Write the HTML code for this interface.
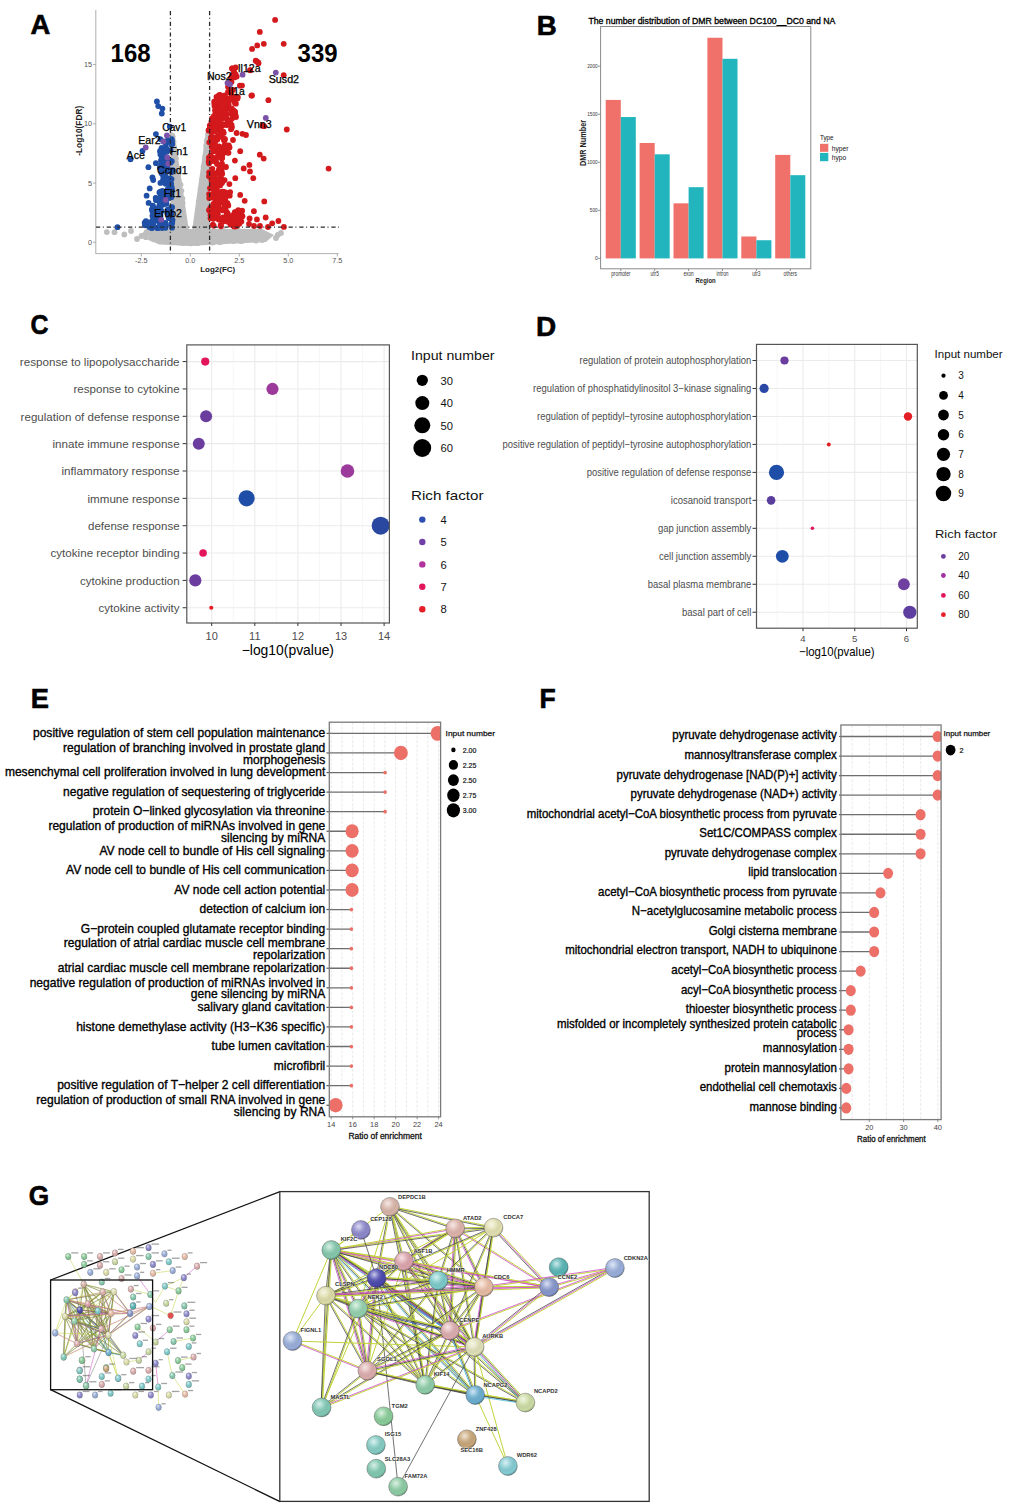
<!DOCTYPE html>
<html><head><meta charset="utf-8"><style>
html,body{margin:0;padding:0;background:#fff;}
body{width:1020px;height:1509px;overflow:hidden;}
svg{display:block;font-family:"Liberation Sans",sans-serif;}
</style></head><body>
<svg width="1020" height="1509" viewBox="0 0 1020 1509">
<rect width="1020" height="1509" fill="#fff"/>
<text x="30.4" y="34.3" font-size="27.5" font-weight="bold" fill="#000" stroke="#000" stroke-width="0.6" textLength="19.8" lengthAdjust="spacingAndGlyphs">A</text>
<text x="536.7" y="34.9" font-size="27.5" font-weight="bold" fill="#000" stroke="#000" stroke-width="0.6" textLength="20" lengthAdjust="spacingAndGlyphs">B</text>
<text x="30.6" y="334.3" font-size="27.5" font-weight="bold" fill="#000" stroke="#000" stroke-width="0.6" textLength="18" lengthAdjust="spacingAndGlyphs">C</text>
<text x="536.1" y="335.9" font-size="27.5" font-weight="bold" fill="#000" stroke="#000" stroke-width="0.6" textLength="20.2" lengthAdjust="spacingAndGlyphs">D</text>
<text x="30.8" y="708.3" font-size="27.5" font-weight="bold" fill="#000" stroke="#000" stroke-width="0.6" textLength="18.2" lengthAdjust="spacingAndGlyphs">E</text>
<text x="539.5" y="708.3" font-size="27.5" font-weight="bold" fill="#000" stroke="#000" stroke-width="0.6" textLength="16.2" lengthAdjust="spacingAndGlyphs">F</text>
<text x="28.8" y="1204.5" font-size="27.5" font-weight="bold" fill="#000" stroke="#000" stroke-width="0.6" textLength="20.4" lengthAdjust="spacingAndGlyphs">G</text>
<line x1="95.8" y1="10" x2="95.8" y2="254" stroke="#B0B0B0" stroke-width="1"/>
<line x1="95.8" y1="253.6" x2="338.5" y2="253.6" stroke="#B0B0B0" stroke-width="1"/>
<line x1="93" y1="64.55" x2="95.8" y2="64.55" stroke="#999" stroke-width="0.8"/>
<text x="92" y="67.15" font-size="7.3" fill="#555" text-anchor="end">15</text>
<line x1="93" y1="123.8" x2="95.8" y2="123.8" stroke="#999" stroke-width="0.8"/>
<text x="92" y="126.4" font-size="7.3" fill="#555" text-anchor="end">10</text>
<line x1="93" y1="183.05" x2="95.8" y2="183.05" stroke="#999" stroke-width="0.8"/>
<text x="92" y="185.65" font-size="7.3" fill="#555" text-anchor="end">5</text>
<line x1="93" y1="242.3" x2="95.8" y2="242.3" stroke="#999" stroke-width="0.8"/>
<text x="92" y="244.9" font-size="7.3" fill="#555" text-anchor="end">0</text>
<line x1="141.3" y1="253.6" x2="141.3" y2="256.5" stroke="#999" stroke-width="0.8"/>
<text x="141.3" y="262.8" font-size="7.3" fill="#555" text-anchor="middle">-2.5</text>
<line x1="190.3" y1="253.6" x2="190.3" y2="256.5" stroke="#999" stroke-width="0.8"/>
<text x="190.3" y="262.8" font-size="7.3" fill="#555" text-anchor="middle">0.0</text>
<line x1="239.3" y1="253.6" x2="239.3" y2="256.5" stroke="#999" stroke-width="0.8"/>
<text x="239.3" y="262.8" font-size="7.3" fill="#555" text-anchor="middle">2.5</text>
<line x1="288.3" y1="253.6" x2="288.3" y2="256.5" stroke="#999" stroke-width="0.8"/>
<text x="288.3" y="262.8" font-size="7.3" fill="#555" text-anchor="middle">5.0</text>
<line x1="337.3" y1="253.6" x2="337.3" y2="256.5" stroke="#999" stroke-width="0.8"/>
<text x="337.3" y="262.8" font-size="7.3" fill="#555" text-anchor="middle">7.5</text>
<text x="217.7" y="271.6" font-size="8" fill="#222" text-anchor="middle" font-weight="bold" textLength="35" lengthAdjust="spacingAndGlyphs">Log2(FC)</text>
<text transform="translate(81.6,130.8) rotate(-90)" font-size="8.5" font-weight="bold" fill="#222" text-anchor="middle" textLength="50" lengthAdjust="spacingAndGlyphs">-Log10(FDR)</text>
<path d="M150,229 L262,229 L274,235 L266,242 L215,244.5 L190,246 L160,244.5 L148,240 Z" fill="#BEBEBE"/>
<circle cx="191.81" cy="239.59" r="2.9" fill="#BEBEBE"/>
<circle cx="216.37" cy="232.27" r="2.9" fill="#BEBEBE"/>
<circle cx="170.24" cy="232.37" r="2.9" fill="#BEBEBE"/>
<circle cx="193.17" cy="237.96" r="2.9" fill="#BEBEBE"/>
<circle cx="233.18" cy="231.59" r="2.9" fill="#BEBEBE"/>
<circle cx="207.96" cy="232.8" r="2.9" fill="#BEBEBE"/>
<circle cx="146.69" cy="232.18" r="2.9" fill="#BEBEBE"/>
<circle cx="227.37" cy="233.5" r="2.9" fill="#BEBEBE"/>
<circle cx="145.88" cy="237.13" r="2.9" fill="#BEBEBE"/>
<circle cx="144.2" cy="235.08" r="2.9" fill="#BEBEBE"/>
<circle cx="209.77" cy="241.17" r="2.9" fill="#BEBEBE"/>
<circle cx="198.53" cy="235.35" r="2.9" fill="#BEBEBE"/>
<circle cx="209.88" cy="235.12" r="2.9" fill="#BEBEBE"/>
<circle cx="212.61" cy="240.6" r="2.9" fill="#BEBEBE"/>
<circle cx="217.81" cy="238.45" r="2.9" fill="#BEBEBE"/>
<circle cx="238.3" cy="234.72" r="2.9" fill="#BEBEBE"/>
<circle cx="188.99" cy="233.12" r="2.9" fill="#BEBEBE"/>
<circle cx="196.59" cy="234.51" r="2.9" fill="#BEBEBE"/>
<circle cx="185.68" cy="235.79" r="2.9" fill="#BEBEBE"/>
<circle cx="169.38" cy="238.14" r="2.9" fill="#BEBEBE"/>
<circle cx="174.15" cy="240.62" r="2.9" fill="#BEBEBE"/>
<circle cx="207.83" cy="239.5" r="2.9" fill="#BEBEBE"/>
<circle cx="201.55" cy="237.83" r="2.9" fill="#BEBEBE"/>
<circle cx="241.8" cy="240.11" r="2.9" fill="#BEBEBE"/>
<circle cx="196.6" cy="243.03" r="2.9" fill="#BEBEBE"/>
<circle cx="173.85" cy="233.17" r="2.9" fill="#BEBEBE"/>
<circle cx="153.13" cy="232.74" r="2.9" fill="#BEBEBE"/>
<circle cx="226.49" cy="236.46" r="2.9" fill="#BEBEBE"/>
<circle cx="246.1" cy="238.73" r="2.9" fill="#BEBEBE"/>
<circle cx="211.59" cy="237.96" r="2.9" fill="#BEBEBE"/>
<circle cx="219.69" cy="238.99" r="2.9" fill="#BEBEBE"/>
<circle cx="180.42" cy="238.67" r="2.9" fill="#BEBEBE"/>
<circle cx="169.04" cy="240.92" r="2.9" fill="#BEBEBE"/>
<circle cx="183" cy="242.62" r="2.9" fill="#BEBEBE"/>
<circle cx="153.35" cy="231.74" r="2.9" fill="#BEBEBE"/>
<circle cx="207.66" cy="239.53" r="2.9" fill="#BEBEBE"/>
<circle cx="211.44" cy="235.91" r="2.9" fill="#BEBEBE"/>
<circle cx="176.44" cy="239.33" r="2.9" fill="#BEBEBE"/>
<circle cx="235.26" cy="232.59" r="2.9" fill="#BEBEBE"/>
<circle cx="205.03" cy="233.2" r="2.9" fill="#BEBEBE"/>
<circle cx="251.01" cy="231.55" r="2.9" fill="#BEBEBE"/>
<circle cx="219.81" cy="234.06" r="2.9" fill="#BEBEBE"/>
<circle cx="149.81" cy="231.82" r="2.9" fill="#BEBEBE"/>
<circle cx="241.02" cy="235.46" r="2.9" fill="#BEBEBE"/>
<circle cx="179.72" cy="241.11" r="2.9" fill="#BEBEBE"/>
<circle cx="216.97" cy="236.02" r="2.9" fill="#BEBEBE"/>
<circle cx="180.5" cy="236.08" r="2.9" fill="#BEBEBE"/>
<circle cx="260.11" cy="231.43" r="2.9" fill="#BEBEBE"/>
<circle cx="146.46" cy="232.75" r="2.9" fill="#BEBEBE"/>
<circle cx="202.64" cy="237.34" r="2.9" fill="#BEBEBE"/>
<circle cx="223.18" cy="237.69" r="2.9" fill="#BEBEBE"/>
<circle cx="199.77" cy="236.73" r="2.9" fill="#BEBEBE"/>
<circle cx="202.89" cy="236.06" r="2.9" fill="#BEBEBE"/>
<circle cx="167.95" cy="239.24" r="2.9" fill="#BEBEBE"/>
<circle cx="155.84" cy="238.61" r="2.9" fill="#BEBEBE"/>
<circle cx="195.69" cy="232.87" r="2.9" fill="#BEBEBE"/>
<circle cx="244.95" cy="239.98" r="2.9" fill="#BEBEBE"/>
<circle cx="167.14" cy="240.39" r="2.9" fill="#BEBEBE"/>
<circle cx="174.81" cy="233.05" r="2.9" fill="#BEBEBE"/>
<circle cx="220.21" cy="238.3" r="2.9" fill="#BEBEBE"/>
<circle cx="211.05" cy="233.98" r="2.9" fill="#BEBEBE"/>
<circle cx="204.56" cy="233.72" r="2.9" fill="#BEBEBE"/>
<circle cx="194.36" cy="232.33" r="2.9" fill="#BEBEBE"/>
<circle cx="208.88" cy="233.43" r="2.9" fill="#BEBEBE"/>
<circle cx="224.45" cy="231.44" r="2.9" fill="#BEBEBE"/>
<circle cx="218.11" cy="241.02" r="2.9" fill="#BEBEBE"/>
<circle cx="186.32" cy="235.13" r="2.9" fill="#BEBEBE"/>
<circle cx="188.08" cy="236.25" r="2.9" fill="#BEBEBE"/>
<circle cx="189.23" cy="241.81" r="2.9" fill="#BEBEBE"/>
<circle cx="212.35" cy="242.56" r="2.9" fill="#BEBEBE"/>
<circle cx="164.03" cy="232.43" r="2.9" fill="#BEBEBE"/>
<circle cx="207.8" cy="232.93" r="2.9" fill="#BEBEBE"/>
<circle cx="186.2" cy="241.47" r="2.9" fill="#BEBEBE"/>
<circle cx="220.96" cy="233.07" r="2.9" fill="#BEBEBE"/>
<circle cx="277.76" cy="234.9" r="2.9" fill="#BEBEBE"/>
<circle cx="211.36" cy="233.28" r="2.9" fill="#BEBEBE"/>
<circle cx="192.78" cy="238.2" r="2.9" fill="#BEBEBE"/>
<circle cx="197.99" cy="242.95" r="2.9" fill="#BEBEBE"/>
<circle cx="232.27" cy="233.73" r="2.9" fill="#BEBEBE"/>
<circle cx="162.61" cy="235.47" r="2.9" fill="#BEBEBE"/>
<circle cx="227.4" cy="236.9" r="2.9" fill="#BEBEBE"/>
<circle cx="247.71" cy="238.83" r="2.9" fill="#BEBEBE"/>
<circle cx="189.09" cy="241.39" r="2.9" fill="#BEBEBE"/>
<circle cx="219.95" cy="242.17" r="2.9" fill="#BEBEBE"/>
<circle cx="234.84" cy="239.76" r="2.9" fill="#BEBEBE"/>
<circle cx="153.68" cy="239.23" r="2.9" fill="#BEBEBE"/>
<circle cx="205.63" cy="235.8" r="2.9" fill="#BEBEBE"/>
<circle cx="238.23" cy="230.94" r="2.9" fill="#BEBEBE"/>
<circle cx="225.51" cy="233.97" r="2.9" fill="#BEBEBE"/>
<circle cx="204.52" cy="239.55" r="2.9" fill="#BEBEBE"/>
<circle cx="233.55" cy="241.11" r="2.9" fill="#BEBEBE"/>
<circle cx="190.6" cy="243.35" r="2.9" fill="#BEBEBE"/>
<circle cx="229.27" cy="233.4" r="2.9" fill="#BEBEBE"/>
<circle cx="191.5" cy="234.94" r="2.9" fill="#BEBEBE"/>
<circle cx="207.11" cy="238.7" r="2.9" fill="#BEBEBE"/>
<circle cx="220.44" cy="241.22" r="2.9" fill="#BEBEBE"/>
<circle cx="219.68" cy="238.53" r="2.9" fill="#BEBEBE"/>
<circle cx="169.18" cy="240.49" r="2.9" fill="#BEBEBE"/>
<circle cx="240.52" cy="240.54" r="2.9" fill="#BEBEBE"/>
<circle cx="223.89" cy="239.79" r="2.9" fill="#BEBEBE"/>
<circle cx="200.03" cy="234.07" r="2.9" fill="#BEBEBE"/>
<circle cx="163.51" cy="240.15" r="2.9" fill="#BEBEBE"/>
<circle cx="171.51" cy="242.47" r="2.9" fill="#BEBEBE"/>
<circle cx="249.93" cy="234.52" r="2.9" fill="#BEBEBE"/>
<circle cx="245.01" cy="238.33" r="2.9" fill="#BEBEBE"/>
<circle cx="208.04" cy="233.46" r="2.9" fill="#BEBEBE"/>
<circle cx="214.62" cy="241.5" r="2.9" fill="#BEBEBE"/>
<circle cx="206.25" cy="240.96" r="2.9" fill="#BEBEBE"/>
<circle cx="183.13" cy="243.02" r="2.9" fill="#BEBEBE"/>
<circle cx="183.64" cy="238.29" r="2.9" fill="#BEBEBE"/>
<circle cx="175.18" cy="233.36" r="2.9" fill="#BEBEBE"/>
<circle cx="207.61" cy="238.96" r="2.9" fill="#BEBEBE"/>
<circle cx="187.61" cy="237.18" r="2.9" fill="#BEBEBE"/>
<circle cx="241.45" cy="232.82" r="2.9" fill="#BEBEBE"/>
<circle cx="156.82" cy="233.98" r="2.9" fill="#BEBEBE"/>
<circle cx="193.67" cy="238.81" r="2.9" fill="#BEBEBE"/>
<circle cx="222.88" cy="234.07" r="2.9" fill="#BEBEBE"/>
<circle cx="185.19" cy="242.32" r="2.9" fill="#BEBEBE"/>
<circle cx="208.26" cy="235.68" r="2.9" fill="#BEBEBE"/>
<circle cx="159.11" cy="241.25" r="2.9" fill="#BEBEBE"/>
<circle cx="211" cy="236.31" r="2.9" fill="#BEBEBE"/>
<circle cx="232.83" cy="236.68" r="2.9" fill="#BEBEBE"/>
<circle cx="181.33" cy="237.92" r="2.9" fill="#BEBEBE"/>
<circle cx="234.23" cy="232.79" r="2.9" fill="#BEBEBE"/>
<circle cx="204.04" cy="232" r="2.9" fill="#BEBEBE"/>
<circle cx="205.98" cy="237.09" r="2.9" fill="#BEBEBE"/>
<circle cx="181.25" cy="240.14" r="2.9" fill="#BEBEBE"/>
<circle cx="173.35" cy="237.55" r="2.9" fill="#BEBEBE"/>
<circle cx="190.12" cy="238.61" r="2.9" fill="#BEBEBE"/>
<circle cx="203.24" cy="238.15" r="2.9" fill="#BEBEBE"/>
<circle cx="185.19" cy="235.05" r="2.9" fill="#BEBEBE"/>
<circle cx="190.73" cy="238.06" r="2.9" fill="#BEBEBE"/>
<circle cx="254.26" cy="236.18" r="2.9" fill="#BEBEBE"/>
<circle cx="204.43" cy="236.81" r="2.9" fill="#BEBEBE"/>
<circle cx="171.12" cy="237.4" r="2.9" fill="#BEBEBE"/>
<circle cx="175.33" cy="239.55" r="2.9" fill="#BEBEBE"/>
<circle cx="162.25" cy="236.68" r="2.9" fill="#BEBEBE"/>
<circle cx="211.65" cy="242.01" r="2.9" fill="#BEBEBE"/>
<circle cx="179.47" cy="242.45" r="2.9" fill="#BEBEBE"/>
<circle cx="197.53" cy="242.58" r="2.9" fill="#BEBEBE"/>
<circle cx="240.9" cy="239.76" r="2.9" fill="#BEBEBE"/>
<circle cx="210.61" cy="236.56" r="2.9" fill="#BEBEBE"/>
<circle cx="212.37" cy="232.43" r="2.9" fill="#BEBEBE"/>
<circle cx="200.73" cy="239.45" r="2.9" fill="#BEBEBE"/>
<circle cx="212.45" cy="240.25" r="2.9" fill="#BEBEBE"/>
<circle cx="214.79" cy="239.41" r="2.9" fill="#BEBEBE"/>
<circle cx="188.83" cy="239.72" r="2.9" fill="#BEBEBE"/>
<circle cx="241.28" cy="241.15" r="2.9" fill="#BEBEBE"/>
<circle cx="251.84" cy="232.51" r="2.9" fill="#BEBEBE"/>
<circle cx="230.83" cy="236.27" r="2.9" fill="#BEBEBE"/>
<circle cx="190.52" cy="243.37" r="2.9" fill="#BEBEBE"/>
<circle cx="209.4" cy="236.49" r="2.9" fill="#BEBEBE"/>
<circle cx="183.5" cy="237.92" r="2.9" fill="#BEBEBE"/>
<circle cx="188.78" cy="235.96" r="2.9" fill="#BEBEBE"/>
<circle cx="217.9" cy="239.36" r="2.9" fill="#BEBEBE"/>
<circle cx="240.36" cy="235.39" r="2.9" fill="#BEBEBE"/>
<circle cx="204.97" cy="232.12" r="2.9" fill="#BEBEBE"/>
<circle cx="178.07" cy="237.67" r="2.9" fill="#BEBEBE"/>
<circle cx="239.01" cy="231.3" r="2.9" fill="#BEBEBE"/>
<circle cx="256.15" cy="240.62" r="2.9" fill="#BEBEBE"/>
<circle cx="194.72" cy="233.47" r="2.9" fill="#BEBEBE"/>
<circle cx="199.11" cy="240.71" r="2.9" fill="#BEBEBE"/>
<circle cx="209.05" cy="234.73" r="2.9" fill="#BEBEBE"/>
<circle cx="223.01" cy="241.24" r="2.9" fill="#BEBEBE"/>
<circle cx="224.37" cy="240.17" r="2.9" fill="#BEBEBE"/>
<circle cx="199.02" cy="242.26" r="2.9" fill="#BEBEBE"/>
<circle cx="218.18" cy="237.68" r="2.9" fill="#BEBEBE"/>
<circle cx="195.75" cy="232.91" r="2.9" fill="#BEBEBE"/>
<circle cx="186.81" cy="239.95" r="2.9" fill="#BEBEBE"/>
<circle cx="188.93" cy="242.78" r="2.9" fill="#BEBEBE"/>
<circle cx="205.61" cy="238.87" r="2.9" fill="#BEBEBE"/>
<circle cx="204.27" cy="241.36" r="2.9" fill="#BEBEBE"/>
<circle cx="187.31" cy="233.13" r="2.9" fill="#BEBEBE"/>
<circle cx="222.9" cy="234.95" r="2.9" fill="#BEBEBE"/>
<circle cx="173.28" cy="237.93" r="2.9" fill="#BEBEBE"/>
<circle cx="222.63" cy="232.65" r="2.9" fill="#BEBEBE"/>
<circle cx="188.76" cy="238.25" r="2.9" fill="#BEBEBE"/>
<circle cx="201.12" cy="233.84" r="2.9" fill="#BEBEBE"/>
<circle cx="215.37" cy="232.07" r="2.9" fill="#BEBEBE"/>
<circle cx="208.26" cy="235.14" r="2.9" fill="#BEBEBE"/>
<circle cx="226.41" cy="239.44" r="2.9" fill="#BEBEBE"/>
<circle cx="190.64" cy="234.43" r="2.9" fill="#BEBEBE"/>
<circle cx="236.5" cy="234.51" r="2.9" fill="#BEBEBE"/>
<circle cx="224.14" cy="231.34" r="2.9" fill="#BEBEBE"/>
<circle cx="202.77" cy="240.07" r="2.9" fill="#BEBEBE"/>
<circle cx="180.32" cy="237.35" r="2.9" fill="#BEBEBE"/>
<circle cx="193.46" cy="242.65" r="2.9" fill="#BEBEBE"/>
<circle cx="246.45" cy="235.06" r="2.9" fill="#BEBEBE"/>
<circle cx="236.63" cy="236.13" r="2.9" fill="#BEBEBE"/>
<circle cx="216.21" cy="237.05" r="2.9" fill="#BEBEBE"/>
<circle cx="172.43" cy="239.38" r="2.9" fill="#BEBEBE"/>
<circle cx="106.8" cy="232.1" r="2.9" fill="#BEBEBE"/>
<circle cx="114.5" cy="232.2" r="2.9" fill="#BEBEBE"/>
<circle cx="124.3" cy="234.5" r="2.9" fill="#BEBEBE"/>
<circle cx="131" cy="231" r="2.9" fill="#BEBEBE"/>
<circle cx="141.5" cy="236" r="2.9" fill="#BEBEBE"/>
<circle cx="147" cy="233" r="2.9" fill="#BEBEBE"/>
<circle cx="137" cy="239" r="2.9" fill="#BEBEBE"/>
<circle cx="276" cy="238" r="2.9" fill="#BEBEBE"/>
<circle cx="281" cy="233" r="2.9" fill="#BEBEBE"/>
<circle cx="262" cy="240" r="2.9" fill="#BEBEBE"/>
<circle cx="255" cy="236" r="2.9" fill="#BEBEBE"/>
<path d="M170.5,134 L174.5,133 L190,238 L170.5,238 Z" fill="#BEBEBE"/>
<path d="M206,131 L210,131 L210,238 L191,238 Z" fill="#BEBEBE"/>
<circle cx="187.22" cy="232.24" r="2.2" fill="#BEBEBE"/>
<circle cx="196.73" cy="230.24" r="2.2" fill="#BEBEBE"/>
<circle cx="182.34" cy="204.67" r="2.2" fill="#BEBEBE"/>
<circle cx="199.03" cy="202.67" r="2.2" fill="#BEBEBE"/>
<circle cx="178.88" cy="168.76" r="2.2" fill="#BEBEBE"/>
<circle cx="202.87" cy="166.76" r="2.2" fill="#BEBEBE"/>
<circle cx="172.8" cy="141.07" r="2.2" fill="#BEBEBE"/>
<circle cx="206.85" cy="139.07" r="2.2" fill="#BEBEBE"/>
<circle cx="176.11" cy="150.32" r="2.2" fill="#BEBEBE"/>
<circle cx="207.4" cy="148.32" r="2.2" fill="#BEBEBE"/>
<circle cx="184.61" cy="221.05" r="2.2" fill="#BEBEBE"/>
<circle cx="196.53" cy="219.05" r="2.2" fill="#BEBEBE"/>
<circle cx="176.63" cy="158.22" r="2.2" fill="#BEBEBE"/>
<circle cx="205.23" cy="156.22" r="2.2" fill="#BEBEBE"/>
<circle cx="174.95" cy="149.75" r="2.2" fill="#BEBEBE"/>
<circle cx="205.74" cy="147.75" r="2.2" fill="#BEBEBE"/>
<circle cx="185.03" cy="230.18" r="2.2" fill="#BEBEBE"/>
<circle cx="196.14" cy="228.18" r="2.2" fill="#BEBEBE"/>
<circle cx="174.65" cy="158.44" r="2.2" fill="#BEBEBE"/>
<circle cx="204.75" cy="156.44" r="2.2" fill="#BEBEBE"/>
<circle cx="179.17" cy="169.66" r="2.2" fill="#BEBEBE"/>
<circle cx="203.51" cy="167.66" r="2.2" fill="#BEBEBE"/>
<circle cx="179.37" cy="181.46" r="2.2" fill="#BEBEBE"/>
<circle cx="201.43" cy="179.46" r="2.2" fill="#BEBEBE"/>
<circle cx="181.3" cy="184.47" r="2.2" fill="#BEBEBE"/>
<circle cx="201.23" cy="182.47" r="2.2" fill="#BEBEBE"/>
<circle cx="174.1" cy="142.98" r="2.2" fill="#BEBEBE"/>
<circle cx="205.96" cy="140.98" r="2.2" fill="#BEBEBE"/>
<circle cx="173.41" cy="136.25" r="2.2" fill="#BEBEBE"/>
<circle cx="207.41" cy="134.25" r="2.2" fill="#BEBEBE"/>
<circle cx="180.9" cy="192.56" r="2.2" fill="#BEBEBE"/>
<circle cx="201.64" cy="190.56" r="2.2" fill="#BEBEBE"/>
<circle cx="181.39" cy="199.75" r="2.2" fill="#BEBEBE"/>
<circle cx="201.09" cy="197.75" r="2.2" fill="#BEBEBE"/>
<circle cx="178.67" cy="172.95" r="2.2" fill="#BEBEBE"/>
<circle cx="204.89" cy="170.95" r="2.2" fill="#BEBEBE"/>
<circle cx="173.99" cy="148.95" r="2.2" fill="#BEBEBE"/>
<circle cx="206.99" cy="146.95" r="2.2" fill="#BEBEBE"/>
<circle cx="172.13" cy="138.38" r="2.2" fill="#BEBEBE"/>
<circle cx="209.11" cy="136.38" r="2.2" fill="#BEBEBE"/>
<circle cx="180.89" cy="196.73" r="2.2" fill="#BEBEBE"/>
<circle cx="201.28" cy="194.73" r="2.2" fill="#BEBEBE"/>
<circle cx="174.45" cy="147.93" r="2.2" fill="#BEBEBE"/>
<circle cx="206.7" cy="145.93" r="2.2" fill="#BEBEBE"/>
<circle cx="183.69" cy="217.49" r="2.2" fill="#BEBEBE"/>
<circle cx="198.63" cy="215.49" r="2.2" fill="#BEBEBE"/>
<circle cx="179.79" cy="192.41" r="2.2" fill="#BEBEBE"/>
<circle cx="201.46" cy="190.41" r="2.2" fill="#BEBEBE"/>
<circle cx="183.36" cy="203.33" r="2.2" fill="#BEBEBE"/>
<circle cx="198.08" cy="201.33" r="2.2" fill="#BEBEBE"/>
<circle cx="174.85" cy="147.31" r="2.2" fill="#BEBEBE"/>
<circle cx="205.58" cy="145.31" r="2.2" fill="#BEBEBE"/>
<circle cx="184.44" cy="217.58" r="2.2" fill="#BEBEBE"/>
<circle cx="198.02" cy="215.58" r="2.2" fill="#BEBEBE"/>
<circle cx="181.04" cy="196.62" r="2.2" fill="#BEBEBE"/>
<circle cx="200.33" cy="194.62" r="2.2" fill="#BEBEBE"/>
<circle cx="171.65" cy="134.33" r="2.2" fill="#BEBEBE"/>
<circle cx="209.2" cy="132.33" r="2.2" fill="#BEBEBE"/>
<circle cx="179.69" cy="184.3" r="2.2" fill="#BEBEBE"/>
<circle cx="202.44" cy="182.3" r="2.2" fill="#BEBEBE"/>
<circle cx="172.75" cy="140.61" r="2.2" fill="#BEBEBE"/>
<circle cx="206.9" cy="138.61" r="2.2" fill="#BEBEBE"/>
<circle cx="174.28" cy="141.44" r="2.2" fill="#BEBEBE"/>
<circle cx="208.22" cy="139.44" r="2.2" fill="#BEBEBE"/>
<circle cx="174.76" cy="154.52" r="2.2" fill="#BEBEBE"/>
<circle cx="207.26" cy="152.52" r="2.2" fill="#BEBEBE"/>
<circle cx="180.01" cy="183.39" r="2.2" fill="#BEBEBE"/>
<circle cx="202.02" cy="181.39" r="2.2" fill="#BEBEBE"/>
<circle cx="181.61" cy="202.37" r="2.2" fill="#BEBEBE"/>
<circle cx="199.96" cy="200.37" r="2.2" fill="#BEBEBE"/>
<circle cx="183.09" cy="198.28" r="2.2" fill="#BEBEBE"/>
<circle cx="199.09" cy="196.28" r="2.2" fill="#BEBEBE"/>
<circle cx="175.45" cy="159.39" r="2.2" fill="#BEBEBE"/>
<circle cx="204.61" cy="157.39" r="2.2" fill="#BEBEBE"/>
<circle cx="182.2" cy="190.78" r="2.2" fill="#BEBEBE"/>
<circle cx="199.8" cy="188.78" r="2.2" fill="#BEBEBE"/>
<circle cx="175.88" cy="160.88" r="2.2" fill="#BEBEBE"/>
<circle cx="205.58" cy="158.88" r="2.2" fill="#BEBEBE"/>
<circle cx="182.93" cy="201.57" r="2.2" fill="#BEBEBE"/>
<circle cx="199.77" cy="199.57" r="2.2" fill="#BEBEBE"/>
<circle cx="165.85" cy="144.13" r="2.9" fill="#1F4FA6"/>
<circle cx="161.49" cy="148.83" r="2.9" fill="#1F4FA6"/>
<circle cx="162.51" cy="149.76" r="2.9" fill="#1F4FA6"/>
<circle cx="171.8" cy="139.19" r="2.9" fill="#1F4FA6"/>
<circle cx="165.78" cy="148.02" r="2.9" fill="#1F4FA6"/>
<circle cx="172.2" cy="143.94" r="2.9" fill="#1F4FA6"/>
<circle cx="163.39" cy="141.31" r="2.9" fill="#1F4FA6"/>
<circle cx="171.91" cy="141.32" r="2.9" fill="#1F4FA6"/>
<circle cx="167.33" cy="140.56" r="2.9" fill="#1F4FA6"/>
<circle cx="166.6" cy="149.48" r="2.9" fill="#1F4FA6"/>
<circle cx="161.67" cy="148.02" r="2.9" fill="#1F4FA6"/>
<circle cx="166.41" cy="148.76" r="2.9" fill="#1F4FA6"/>
<circle cx="168.86" cy="141.55" r="2.9" fill="#1F4FA6"/>
<circle cx="171.31" cy="144.35" r="2.9" fill="#1F4FA6"/>
<circle cx="160.31" cy="139.04" r="2.9" fill="#1F4FA6"/>
<circle cx="166.09" cy="170.28" r="2.9" fill="#1F4FA6"/>
<circle cx="163.66" cy="156.33" r="2.9" fill="#1F4FA6"/>
<circle cx="164.2" cy="164.22" r="2.9" fill="#1F4FA6"/>
<circle cx="170.55" cy="150.08" r="2.9" fill="#1F4FA6"/>
<circle cx="169.41" cy="187.76" r="2.9" fill="#1F4FA6"/>
<circle cx="161.34" cy="191.69" r="2.9" fill="#1F4FA6"/>
<circle cx="168.93" cy="190.57" r="2.9" fill="#1F4FA6"/>
<circle cx="163.51" cy="166.75" r="2.9" fill="#1F4FA6"/>
<circle cx="164.83" cy="194.95" r="2.9" fill="#1F4FA6"/>
<circle cx="167.34" cy="166.23" r="2.9" fill="#1F4FA6"/>
<circle cx="165.28" cy="162.38" r="2.9" fill="#1F4FA6"/>
<circle cx="160.42" cy="154.58" r="2.9" fill="#1F4FA6"/>
<circle cx="170.48" cy="162.85" r="2.9" fill="#1F4FA6"/>
<circle cx="171.78" cy="161.22" r="2.9" fill="#1F4FA6"/>
<circle cx="163.2" cy="172.99" r="2.9" fill="#1F4FA6"/>
<circle cx="162.23" cy="166.8" r="2.9" fill="#1F4FA6"/>
<circle cx="172.04" cy="189.79" r="2.9" fill="#1F4FA6"/>
<circle cx="170.19" cy="178.39" r="2.9" fill="#1F4FA6"/>
<circle cx="171.49" cy="192.33" r="2.9" fill="#1F4FA6"/>
<circle cx="166.83" cy="182.38" r="2.9" fill="#1F4FA6"/>
<circle cx="160.43" cy="182.96" r="2.9" fill="#1F4FA6"/>
<circle cx="165.57" cy="183.87" r="2.9" fill="#1F4FA6"/>
<circle cx="168.05" cy="162.88" r="2.9" fill="#1F4FA6"/>
<circle cx="160.43" cy="191.7" r="2.9" fill="#1F4FA6"/>
<circle cx="161.43" cy="171.25" r="2.9" fill="#1F4FA6"/>
<circle cx="164.2" cy="163.4" r="2.9" fill="#1F4FA6"/>
<circle cx="169.26" cy="193.93" r="2.9" fill="#1F4FA6"/>
<circle cx="163.13" cy="179.52" r="2.9" fill="#1F4FA6"/>
<circle cx="163.65" cy="175.08" r="2.9" fill="#1F4FA6"/>
<circle cx="164.85" cy="157.53" r="2.9" fill="#1F4FA6"/>
<circle cx="161.87" cy="159.35" r="2.9" fill="#1F4FA6"/>
<circle cx="171.4" cy="172.37" r="2.9" fill="#1F4FA6"/>
<circle cx="162.62" cy="190.78" r="2.9" fill="#1F4FA6"/>
<circle cx="172.55" cy="170.25" r="2.9" fill="#1F4FA6"/>
<circle cx="161.59" cy="158.66" r="2.9" fill="#1F4FA6"/>
<circle cx="160.96" cy="165.39" r="2.9" fill="#1F4FA6"/>
<circle cx="160.97" cy="160.76" r="2.9" fill="#1F4FA6"/>
<circle cx="163.11" cy="175.63" r="2.9" fill="#1F4FA6"/>
<circle cx="171.16" cy="183.73" r="2.9" fill="#1F4FA6"/>
<circle cx="165.08" cy="168.62" r="2.9" fill="#1F4FA6"/>
<circle cx="166.51" cy="166.96" r="2.9" fill="#1F4FA6"/>
<circle cx="164.13" cy="152.79" r="2.9" fill="#1F4FA6"/>
<circle cx="163.35" cy="193.55" r="2.9" fill="#1F4FA6"/>
<circle cx="161.41" cy="172.65" r="2.9" fill="#1F4FA6"/>
<circle cx="167.86" cy="188.83" r="2.9" fill="#1F4FA6"/>
<circle cx="162.56" cy="162.2" r="2.9" fill="#1F4FA6"/>
<circle cx="162.98" cy="167.99" r="2.9" fill="#1F4FA6"/>
<circle cx="165.51" cy="192.93" r="2.9" fill="#1F4FA6"/>
<circle cx="170.66" cy="189.28" r="2.9" fill="#1F4FA6"/>
<circle cx="160.08" cy="151.45" r="2.9" fill="#1F4FA6"/>
<circle cx="168.88" cy="190.31" r="2.9" fill="#1F4FA6"/>
<circle cx="165.86" cy="176.42" r="2.9" fill="#1F4FA6"/>
<circle cx="159.8" cy="167.62" r="2.9" fill="#1F4FA6"/>
<circle cx="171.66" cy="187.15" r="2.9" fill="#1F4FA6"/>
<circle cx="170.75" cy="193.75" r="2.9" fill="#1F4FA6"/>
<circle cx="162.98" cy="154.91" r="2.9" fill="#1F4FA6"/>
<circle cx="161.78" cy="173.51" r="2.9" fill="#1F4FA6"/>
<circle cx="168.53" cy="192.37" r="2.9" fill="#1F4FA6"/>
<circle cx="169.04" cy="179.13" r="2.9" fill="#1F4FA6"/>
<circle cx="169.59" cy="170.58" r="2.9" fill="#1F4FA6"/>
<circle cx="166.86" cy="151.78" r="2.9" fill="#1F4FA6"/>
<circle cx="169.81" cy="160.47" r="2.9" fill="#1F4FA6"/>
<circle cx="171.57" cy="179.05" r="2.9" fill="#1F4FA6"/>
<circle cx="160.69" cy="196.28" r="2.9" fill="#1F4FA6"/>
<circle cx="159.81" cy="201.36" r="2.9" fill="#1F4FA6"/>
<circle cx="167.45" cy="196.12" r="2.9" fill="#1F4FA6"/>
<circle cx="156.7" cy="200.24" r="2.9" fill="#1F4FA6"/>
<circle cx="165.47" cy="198.88" r="2.9" fill="#1F4FA6"/>
<circle cx="159.32" cy="201.01" r="2.9" fill="#1F4FA6"/>
<circle cx="155.68" cy="198.02" r="2.9" fill="#1F4FA6"/>
<circle cx="163.38" cy="204.59" r="2.9" fill="#1F4FA6"/>
<circle cx="166.52" cy="203.84" r="2.9" fill="#1F4FA6"/>
<circle cx="163.63" cy="197.35" r="2.9" fill="#1F4FA6"/>
<circle cx="159.72" cy="204.61" r="2.9" fill="#1F4FA6"/>
<circle cx="167.55" cy="198.07" r="2.9" fill="#1F4FA6"/>
<circle cx="155.87" cy="199.98" r="2.9" fill="#1F4FA6"/>
<circle cx="167.03" cy="199.2" r="2.9" fill="#1F4FA6"/>
<circle cx="159.9" cy="201.67" r="2.9" fill="#1F4FA6"/>
<circle cx="171.32" cy="197.27" r="2.9" fill="#1F4FA6"/>
<circle cx="156.08" cy="198.38" r="2.9" fill="#1F4FA6"/>
<circle cx="162.69" cy="201.83" r="2.9" fill="#1F4FA6"/>
<circle cx="155.92" cy="217.75" r="2.9" fill="#1F4FA6"/>
<circle cx="167.17" cy="213.08" r="2.9" fill="#1F4FA6"/>
<circle cx="156.07" cy="220.52" r="2.9" fill="#1F4FA6"/>
<circle cx="158.28" cy="218.12" r="2.9" fill="#1F4FA6"/>
<circle cx="156.6" cy="208.54" r="2.9" fill="#1F4FA6"/>
<circle cx="167.62" cy="209.72" r="2.9" fill="#1F4FA6"/>
<circle cx="171.6" cy="212.93" r="2.9" fill="#1F4FA6"/>
<circle cx="155.7" cy="208.57" r="2.9" fill="#1F4FA6"/>
<circle cx="160.47" cy="215.64" r="2.9" fill="#1F4FA6"/>
<circle cx="171.53" cy="207.34" r="2.9" fill="#1F4FA6"/>
<circle cx="159.98" cy="208.41" r="2.9" fill="#1F4FA6"/>
<circle cx="172.06" cy="207.27" r="2.9" fill="#1F4FA6"/>
<circle cx="152.88" cy="205.96" r="2.9" fill="#1F4FA6"/>
<circle cx="159.98" cy="219.37" r="2.9" fill="#1F4FA6"/>
<circle cx="170.18" cy="216.72" r="2.9" fill="#1F4FA6"/>
<circle cx="172.55" cy="219.91" r="2.9" fill="#1F4FA6"/>
<circle cx="158.65" cy="207.97" r="2.9" fill="#1F4FA6"/>
<circle cx="171.27" cy="216.94" r="2.9" fill="#1F4FA6"/>
<circle cx="152.46" cy="215.63" r="2.9" fill="#1F4FA6"/>
<circle cx="159.68" cy="210.98" r="2.9" fill="#1F4FA6"/>
<circle cx="158.7" cy="207.71" r="2.9" fill="#1F4FA6"/>
<circle cx="151.86" cy="209.48" r="2.9" fill="#1F4FA6"/>
<circle cx="159.11" cy="220.29" r="2.9" fill="#1F4FA6"/>
<circle cx="154.37" cy="220.43" r="2.9" fill="#1F4FA6"/>
<circle cx="156.11" cy="210.71" r="2.9" fill="#1F4FA6"/>
<circle cx="168.89" cy="218.15" r="2.9" fill="#1F4FA6"/>
<circle cx="160.79" cy="205.79" r="2.9" fill="#1F4FA6"/>
<circle cx="161.65" cy="210.96" r="2.9" fill="#1F4FA6"/>
<circle cx="170.93" cy="208.09" r="2.9" fill="#1F4FA6"/>
<circle cx="159.38" cy="219.35" r="2.9" fill="#1F4FA6"/>
<circle cx="152.43" cy="211.57" r="2.9" fill="#1F4FA6"/>
<circle cx="168.69" cy="217.27" r="2.9" fill="#1F4FA6"/>
<circle cx="152.65" cy="205.56" r="2.9" fill="#1F4FA6"/>
<circle cx="153.1" cy="219.72" r="2.9" fill="#1F4FA6"/>
<circle cx="157.15" cy="216.96" r="2.9" fill="#1F4FA6"/>
<circle cx="170.49" cy="210.43" r="2.9" fill="#1F4FA6"/>
<circle cx="151.79" cy="228.18" r="2.9" fill="#1F4FA6"/>
<circle cx="161.65" cy="222.97" r="2.9" fill="#1F4FA6"/>
<circle cx="164.5" cy="223.37" r="2.9" fill="#1F4FA6"/>
<circle cx="151.88" cy="221.03" r="2.9" fill="#1F4FA6"/>
<circle cx="165.61" cy="227.87" r="2.9" fill="#1F4FA6"/>
<circle cx="162.13" cy="228.07" r="2.9" fill="#1F4FA6"/>
<circle cx="144.69" cy="222.75" r="2.9" fill="#1F4FA6"/>
<circle cx="157.59" cy="228.18" r="2.9" fill="#1F4FA6"/>
<circle cx="171.28" cy="223.9" r="2.9" fill="#1F4FA6"/>
<circle cx="151.18" cy="224.22" r="2.9" fill="#1F4FA6"/>
<circle cx="158.11" cy="227.96" r="2.9" fill="#1F4FA6"/>
<circle cx="149.23" cy="227.02" r="2.9" fill="#1F4FA6"/>
<circle cx="165.12" cy="227.17" r="2.9" fill="#1F4FA6"/>
<circle cx="166.1" cy="225.55" r="2.9" fill="#1F4FA6"/>
<circle cx="153.38" cy="223.4" r="2.9" fill="#1F4FA6"/>
<circle cx="154.35" cy="226.87" r="2.9" fill="#1F4FA6"/>
<circle cx="146.26" cy="222.48" r="2.9" fill="#1F4FA6"/>
<circle cx="165.53" cy="222.85" r="2.9" fill="#1F4FA6"/>
<circle cx="145.85" cy="221.25" r="2.9" fill="#1F4FA6"/>
<circle cx="159.8" cy="223.44" r="2.9" fill="#1F4FA6"/>
<circle cx="172.04" cy="227.63" r="2.9" fill="#1F4FA6"/>
<circle cx="172.25" cy="222.99" r="2.9" fill="#1F4FA6"/>
<circle cx="146.4" cy="221.72" r="2.9" fill="#1F4FA6"/>
<circle cx="156.9" cy="101.4" r="2.9" fill="#1F4FA6"/>
<circle cx="158.2" cy="106.1" r="2.9" fill="#1F4FA6"/>
<circle cx="162.4" cy="108.6" r="2.9" fill="#1F4FA6"/>
<circle cx="161.8" cy="113.5" r="2.9" fill="#1F4FA6"/>
<circle cx="169.8" cy="126.6" r="2.9" fill="#1F4FA6"/>
<circle cx="155.9" cy="134.1" r="2.9" fill="#1F4FA6"/>
<circle cx="142.5" cy="150.9" r="2.9" fill="#1F4FA6"/>
<circle cx="130.5" cy="159.3" r="2.9" fill="#1F4FA6"/>
<circle cx="160.3" cy="150.9" r="2.9" fill="#1F4FA6"/>
<circle cx="155.9" cy="163.2" r="2.9" fill="#1F4FA6"/>
<circle cx="148.4" cy="167.2" r="2.9" fill="#1F4FA6"/>
<circle cx="152.4" cy="177.4" r="2.9" fill="#1F4FA6"/>
<circle cx="153.2" cy="180" r="2.9" fill="#1F4FA6"/>
<circle cx="149.7" cy="188.4" r="2.9" fill="#1F4FA6"/>
<circle cx="146.6" cy="195.7" r="2.9" fill="#1F4FA6"/>
<circle cx="148.6" cy="202.9" r="2.9" fill="#1F4FA6"/>
<circle cx="159.4" cy="192.4" r="2.9" fill="#1F4FA6"/>
<circle cx="117.5" cy="227.2" r="2.9" fill="#1F4FA6"/>
<circle cx="145" cy="225.3" r="2.9" fill="#1F4FA6"/>
<circle cx="225.96" cy="98.26" r="2.9" fill="#D3191C"/>
<circle cx="224.73" cy="95.41" r="2.9" fill="#D3191C"/>
<circle cx="224" cy="97.72" r="2.9" fill="#D3191C"/>
<circle cx="230.18" cy="98.49" r="2.9" fill="#D3191C"/>
<circle cx="234.33" cy="97.99" r="2.9" fill="#D3191C"/>
<circle cx="216.91" cy="99.05" r="2.9" fill="#D3191C"/>
<circle cx="221.05" cy="97.4" r="2.9" fill="#D3191C"/>
<circle cx="222.95" cy="98.43" r="2.9" fill="#D3191C"/>
<circle cx="218.78" cy="95.48" r="2.9" fill="#D3191C"/>
<circle cx="219.89" cy="94.92" r="2.9" fill="#D3191C"/>
<circle cx="235.22" cy="97.47" r="2.9" fill="#D3191C"/>
<circle cx="221.83" cy="96.38" r="2.9" fill="#D3191C"/>
<circle cx="237.82" cy="97.04" r="2.9" fill="#D3191C"/>
<circle cx="219.55" cy="98.85" r="2.9" fill="#D3191C"/>
<circle cx="229.68" cy="99.95" r="2.9" fill="#D3191C"/>
<circle cx="216.46" cy="96.85" r="2.9" fill="#D3191C"/>
<circle cx="231.66" cy="108.41" r="2.9" fill="#D3191C"/>
<circle cx="233.95" cy="100.4" r="2.9" fill="#D3191C"/>
<circle cx="219.05" cy="101.19" r="2.9" fill="#D3191C"/>
<circle cx="216.55" cy="109.73" r="2.9" fill="#D3191C"/>
<circle cx="226" cy="109.3" r="2.9" fill="#D3191C"/>
<circle cx="220.93" cy="108.66" r="2.9" fill="#D3191C"/>
<circle cx="222.78" cy="102.6" r="2.9" fill="#D3191C"/>
<circle cx="230.67" cy="109.46" r="2.9" fill="#D3191C"/>
<circle cx="214.54" cy="105.96" r="2.9" fill="#D3191C"/>
<circle cx="226.88" cy="102.18" r="2.9" fill="#D3191C"/>
<circle cx="220.85" cy="101.41" r="2.9" fill="#D3191C"/>
<circle cx="216.9" cy="102.55" r="2.9" fill="#D3191C"/>
<circle cx="226.39" cy="106.52" r="2.9" fill="#D3191C"/>
<circle cx="216.88" cy="100.11" r="2.9" fill="#D3191C"/>
<circle cx="219.85" cy="106.78" r="2.9" fill="#D3191C"/>
<circle cx="216.44" cy="103.12" r="2.9" fill="#D3191C"/>
<circle cx="216.88" cy="107.95" r="2.9" fill="#D3191C"/>
<circle cx="225.15" cy="100.63" r="2.9" fill="#D3191C"/>
<circle cx="214.43" cy="103.95" r="2.9" fill="#D3191C"/>
<circle cx="225.2" cy="106.39" r="2.9" fill="#D3191C"/>
<circle cx="214.19" cy="101.64" r="2.9" fill="#D3191C"/>
<circle cx="228.69" cy="104.1" r="2.9" fill="#D3191C"/>
<circle cx="218.8" cy="103.08" r="2.9" fill="#D3191C"/>
<circle cx="234.88" cy="103.12" r="2.9" fill="#D3191C"/>
<circle cx="225.6" cy="103.57" r="2.9" fill="#D3191C"/>
<circle cx="221.99" cy="108.64" r="2.9" fill="#D3191C"/>
<circle cx="235.92" cy="103.64" r="2.9" fill="#D3191C"/>
<circle cx="216.73" cy="107.28" r="2.9" fill="#D3191C"/>
<circle cx="216.09" cy="110.06" r="2.9" fill="#D3191C"/>
<circle cx="233.54" cy="114.24" r="2.9" fill="#D3191C"/>
<circle cx="231.51" cy="114.06" r="2.9" fill="#D3191C"/>
<circle cx="233.07" cy="114.61" r="2.9" fill="#D3191C"/>
<circle cx="215.06" cy="110.15" r="2.9" fill="#D3191C"/>
<circle cx="224.79" cy="116.41" r="2.9" fill="#D3191C"/>
<circle cx="233.74" cy="110.89" r="2.9" fill="#D3191C"/>
<circle cx="226.55" cy="113.71" r="2.9" fill="#D3191C"/>
<circle cx="223.61" cy="111.46" r="2.9" fill="#D3191C"/>
<circle cx="218.08" cy="115.21" r="2.9" fill="#D3191C"/>
<circle cx="234.14" cy="111.09" r="2.9" fill="#D3191C"/>
<circle cx="223.26" cy="118.05" r="2.9" fill="#D3191C"/>
<circle cx="235.17" cy="111.97" r="2.9" fill="#D3191C"/>
<circle cx="214.17" cy="119.43" r="2.9" fill="#D3191C"/>
<circle cx="235.39" cy="114.83" r="2.9" fill="#D3191C"/>
<circle cx="212.33" cy="119.26" r="2.9" fill="#D3191C"/>
<circle cx="220.7" cy="119.04" r="2.9" fill="#D3191C"/>
<circle cx="226.51" cy="118.25" r="2.9" fill="#D3191C"/>
<circle cx="215.01" cy="117.86" r="2.9" fill="#D3191C"/>
<circle cx="216.55" cy="114.04" r="2.9" fill="#D3191C"/>
<circle cx="232.16" cy="118.29" r="2.9" fill="#D3191C"/>
<circle cx="215.57" cy="112.18" r="2.9" fill="#D3191C"/>
<circle cx="220.99" cy="115.18" r="2.9" fill="#D3191C"/>
<circle cx="220.59" cy="111.23" r="2.9" fill="#D3191C"/>
<circle cx="217.18" cy="117.25" r="2.9" fill="#D3191C"/>
<circle cx="233.43" cy="110.41" r="2.9" fill="#D3191C"/>
<circle cx="225.06" cy="117.57" r="2.9" fill="#D3191C"/>
<circle cx="211.95" cy="118.38" r="2.9" fill="#D3191C"/>
<circle cx="213.94" cy="116" r="2.9" fill="#D3191C"/>
<circle cx="221.65" cy="126.27" r="2.9" fill="#D3191C"/>
<circle cx="216.04" cy="124.2" r="2.9" fill="#D3191C"/>
<circle cx="222.4" cy="124.26" r="2.9" fill="#D3191C"/>
<circle cx="224.15" cy="124.47" r="2.9" fill="#D3191C"/>
<circle cx="219.08" cy="120.23" r="2.9" fill="#D3191C"/>
<circle cx="223.23" cy="124.9" r="2.9" fill="#D3191C"/>
<circle cx="214.41" cy="127.64" r="2.9" fill="#D3191C"/>
<circle cx="226.94" cy="124.58" r="2.9" fill="#D3191C"/>
<circle cx="213.13" cy="124.73" r="2.9" fill="#D3191C"/>
<circle cx="211.46" cy="121.28" r="2.9" fill="#D3191C"/>
<circle cx="218.9" cy="120.92" r="2.9" fill="#D3191C"/>
<circle cx="219.17" cy="125.1" r="2.9" fill="#D3191C"/>
<circle cx="209.94" cy="126.36" r="2.9" fill="#D3191C"/>
<circle cx="210.89" cy="127.33" r="2.9" fill="#D3191C"/>
<circle cx="226.89" cy="125.11" r="2.9" fill="#D3191C"/>
<circle cx="210.25" cy="125.04" r="2.9" fill="#D3191C"/>
<circle cx="217.69" cy="129.51" r="2.9" fill="#D3191C"/>
<circle cx="212.13" cy="128.57" r="2.9" fill="#D3191C"/>
<circle cx="231.91" cy="127.32" r="2.9" fill="#D3191C"/>
<circle cx="227.74" cy="121.94" r="2.9" fill="#D3191C"/>
<circle cx="231.58" cy="124.92" r="2.9" fill="#D3191C"/>
<circle cx="231" cy="129.16" r="2.9" fill="#D3191C"/>
<circle cx="212.8" cy="127.88" r="2.9" fill="#D3191C"/>
<circle cx="230.4" cy="120.66" r="2.9" fill="#D3191C"/>
<circle cx="217.07" cy="127.56" r="2.9" fill="#D3191C"/>
<circle cx="212.65" cy="128.97" r="2.9" fill="#D3191C"/>
<circle cx="215.32" cy="128.16" r="2.9" fill="#D3191C"/>
<circle cx="210.87" cy="137.53" r="2.9" fill="#D3191C"/>
<circle cx="223.68" cy="133.12" r="2.9" fill="#D3191C"/>
<circle cx="212.84" cy="137.59" r="2.9" fill="#D3191C"/>
<circle cx="213.76" cy="130.55" r="2.9" fill="#D3191C"/>
<circle cx="211.5" cy="132.42" r="2.9" fill="#D3191C"/>
<circle cx="223.95" cy="140.2" r="2.9" fill="#D3191C"/>
<circle cx="223.27" cy="132.53" r="2.9" fill="#D3191C"/>
<circle cx="221.45" cy="131.73" r="2.9" fill="#D3191C"/>
<circle cx="217.26" cy="139.54" r="2.9" fill="#D3191C"/>
<circle cx="214.44" cy="143.09" r="2.9" fill="#D3191C"/>
<circle cx="217.66" cy="138.7" r="2.9" fill="#D3191C"/>
<circle cx="223.06" cy="131.57" r="2.9" fill="#D3191C"/>
<circle cx="224.88" cy="139.45" r="2.9" fill="#D3191C"/>
<circle cx="215.01" cy="141.97" r="2.9" fill="#D3191C"/>
<circle cx="212.87" cy="144.86" r="2.9" fill="#D3191C"/>
<circle cx="218.03" cy="135.4" r="2.9" fill="#D3191C"/>
<circle cx="221.12" cy="136.63" r="2.9" fill="#D3191C"/>
<circle cx="211.42" cy="141.15" r="2.9" fill="#D3191C"/>
<circle cx="209.3" cy="142.3" r="2.9" fill="#D3191C"/>
<circle cx="212.69" cy="139.59" r="2.9" fill="#D3191C"/>
<circle cx="224.74" cy="138.79" r="2.9" fill="#D3191C"/>
<circle cx="219.45" cy="134.69" r="2.9" fill="#D3191C"/>
<circle cx="208.53" cy="130.51" r="2.9" fill="#D3191C"/>
<circle cx="210.96" cy="139.24" r="2.9" fill="#D3191C"/>
<circle cx="215.63" cy="137.69" r="2.9" fill="#D3191C"/>
<circle cx="223.28" cy="131.98" r="2.9" fill="#D3191C"/>
<circle cx="212.25" cy="139.8" r="2.9" fill="#D3191C"/>
<circle cx="208.87" cy="130.04" r="2.9" fill="#D3191C"/>
<circle cx="214.36" cy="131.6" r="2.9" fill="#D3191C"/>
<circle cx="216.54" cy="147.24" r="2.9" fill="#D3191C"/>
<circle cx="221.63" cy="150.89" r="2.9" fill="#D3191C"/>
<circle cx="213.09" cy="151.24" r="2.9" fill="#D3191C"/>
<circle cx="219.19" cy="146.35" r="2.9" fill="#D3191C"/>
<circle cx="229.57" cy="147.44" r="2.9" fill="#D3191C"/>
<circle cx="211.86" cy="145.96" r="2.9" fill="#D3191C"/>
<circle cx="222.86" cy="153.71" r="2.9" fill="#D3191C"/>
<circle cx="226.1" cy="149.02" r="2.9" fill="#D3191C"/>
<circle cx="214.45" cy="145.11" r="2.9" fill="#D3191C"/>
<circle cx="223.01" cy="150.62" r="2.9" fill="#D3191C"/>
<circle cx="216.38" cy="151.46" r="2.9" fill="#D3191C"/>
<circle cx="218.48" cy="154.37" r="2.9" fill="#D3191C"/>
<circle cx="225" cy="147.48" r="2.9" fill="#D3191C"/>
<circle cx="228.83" cy="145.44" r="2.9" fill="#D3191C"/>
<circle cx="220.46" cy="149.06" r="2.9" fill="#D3191C"/>
<circle cx="213.85" cy="145.58" r="2.9" fill="#D3191C"/>
<circle cx="226.02" cy="145.12" r="2.9" fill="#D3191C"/>
<circle cx="220.9" cy="154.41" r="2.9" fill="#D3191C"/>
<circle cx="211.7" cy="147" r="2.9" fill="#D3191C"/>
<circle cx="222.18" cy="150.07" r="2.9" fill="#D3191C"/>
<circle cx="222.94" cy="153.13" r="2.9" fill="#D3191C"/>
<circle cx="212.43" cy="148.09" r="2.9" fill="#D3191C"/>
<circle cx="215.26" cy="145.48" r="2.9" fill="#D3191C"/>
<circle cx="228.51" cy="152.83" r="2.9" fill="#D3191C"/>
<circle cx="224.6" cy="145.06" r="2.9" fill="#D3191C"/>
<circle cx="227.5" cy="152.45" r="2.9" fill="#D3191C"/>
<circle cx="215.25" cy="173.54" r="2.9" fill="#D3191C"/>
<circle cx="215.06" cy="160.65" r="2.9" fill="#D3191C"/>
<circle cx="210.03" cy="160.81" r="2.9" fill="#D3191C"/>
<circle cx="209.06" cy="163.39" r="2.9" fill="#D3191C"/>
<circle cx="219.37" cy="172.38" r="2.9" fill="#D3191C"/>
<circle cx="220.76" cy="172.79" r="2.9" fill="#D3191C"/>
<circle cx="212.36" cy="168.84" r="2.9" fill="#D3191C"/>
<circle cx="214.82" cy="174.71" r="2.9" fill="#D3191C"/>
<circle cx="216.09" cy="161.63" r="2.9" fill="#D3191C"/>
<circle cx="217.81" cy="179.13" r="2.9" fill="#D3191C"/>
<circle cx="211.65" cy="177" r="2.9" fill="#D3191C"/>
<circle cx="208.72" cy="161.51" r="2.9" fill="#D3191C"/>
<circle cx="211.92" cy="173.6" r="2.9" fill="#D3191C"/>
<circle cx="222.2" cy="173.65" r="2.9" fill="#D3191C"/>
<circle cx="213.24" cy="177" r="2.9" fill="#D3191C"/>
<circle cx="213.26" cy="160.98" r="2.9" fill="#D3191C"/>
<circle cx="221.66" cy="170.77" r="2.9" fill="#D3191C"/>
<circle cx="218.55" cy="171.63" r="2.9" fill="#D3191C"/>
<circle cx="222.7" cy="166.74" r="2.9" fill="#D3191C"/>
<circle cx="220.68" cy="172.44" r="2.9" fill="#D3191C"/>
<circle cx="220.93" cy="165.93" r="2.9" fill="#D3191C"/>
<circle cx="219.01" cy="169.26" r="2.9" fill="#D3191C"/>
<circle cx="212.96" cy="160.3" r="2.9" fill="#D3191C"/>
<circle cx="217.53" cy="156.95" r="2.9" fill="#D3191C"/>
<circle cx="221.71" cy="158.61" r="2.9" fill="#D3191C"/>
<circle cx="208.89" cy="157.67" r="2.9" fill="#D3191C"/>
<circle cx="221.97" cy="163.62" r="2.9" fill="#D3191C"/>
<circle cx="210.56" cy="155.72" r="2.9" fill="#D3191C"/>
<circle cx="209.1" cy="172.32" r="2.9" fill="#D3191C"/>
<circle cx="217.69" cy="172.43" r="2.9" fill="#D3191C"/>
<circle cx="219.18" cy="156.64" r="2.9" fill="#D3191C"/>
<circle cx="217.06" cy="164.09" r="2.9" fill="#D3191C"/>
<circle cx="220.35" cy="175.49" r="2.9" fill="#D3191C"/>
<circle cx="221.42" cy="156.65" r="2.9" fill="#D3191C"/>
<circle cx="221.08" cy="177.86" r="2.9" fill="#D3191C"/>
<circle cx="222.19" cy="157.68" r="2.9" fill="#D3191C"/>
<circle cx="211.48" cy="157.8" r="2.9" fill="#D3191C"/>
<circle cx="209" cy="176.19" r="2.9" fill="#D3191C"/>
<circle cx="220.27" cy="170.85" r="2.9" fill="#D3191C"/>
<circle cx="220.46" cy="170.79" r="2.9" fill="#D3191C"/>
<circle cx="212.67" cy="157.5" r="2.9" fill="#D3191C"/>
<circle cx="209.92" cy="173.93" r="2.9" fill="#D3191C"/>
<circle cx="211.88" cy="183.19" r="2.9" fill="#D3191C"/>
<circle cx="215.49" cy="180.21" r="2.9" fill="#D3191C"/>
<circle cx="212.74" cy="182.83" r="2.9" fill="#D3191C"/>
<circle cx="220.31" cy="183.68" r="2.9" fill="#D3191C"/>
<circle cx="213.79" cy="189.64" r="2.9" fill="#D3191C"/>
<circle cx="216.81" cy="188.51" r="2.9" fill="#D3191C"/>
<circle cx="218.7" cy="180.31" r="2.9" fill="#D3191C"/>
<circle cx="215.31" cy="184.36" r="2.9" fill="#D3191C"/>
<circle cx="221.25" cy="183.47" r="2.9" fill="#D3191C"/>
<circle cx="220.13" cy="185.38" r="2.9" fill="#D3191C"/>
<circle cx="212.07" cy="188.62" r="2.9" fill="#D3191C"/>
<circle cx="210" cy="188.2" r="2.9" fill="#D3191C"/>
<circle cx="211.31" cy="180.01" r="2.9" fill="#D3191C"/>
<circle cx="211.83" cy="187.62" r="2.9" fill="#D3191C"/>
<circle cx="224.63" cy="180.04" r="2.9" fill="#D3191C"/>
<circle cx="216.6" cy="184.91" r="2.9" fill="#D3191C"/>
<circle cx="221.65" cy="181.85" r="2.9" fill="#D3191C"/>
<circle cx="216.66" cy="183.47" r="2.9" fill="#D3191C"/>
<circle cx="222.23" cy="182.61" r="2.9" fill="#D3191C"/>
<circle cx="229.74" cy="195.67" r="2.9" fill="#D3191C"/>
<circle cx="213.33" cy="203.99" r="2.9" fill="#D3191C"/>
<circle cx="219.71" cy="192.2" r="2.9" fill="#D3191C"/>
<circle cx="222.82" cy="191.62" r="2.9" fill="#D3191C"/>
<circle cx="226.23" cy="203.94" r="2.9" fill="#D3191C"/>
<circle cx="226.21" cy="202.56" r="2.9" fill="#D3191C"/>
<circle cx="216.5" cy="198.03" r="2.9" fill="#D3191C"/>
<circle cx="217.38" cy="207.81" r="2.9" fill="#D3191C"/>
<circle cx="210.44" cy="207.77" r="2.9" fill="#D3191C"/>
<circle cx="209.07" cy="194.12" r="2.9" fill="#D3191C"/>
<circle cx="214.42" cy="208.02" r="2.9" fill="#D3191C"/>
<circle cx="219.78" cy="197.59" r="2.9" fill="#D3191C"/>
<circle cx="228.39" cy="194.67" r="2.9" fill="#D3191C"/>
<circle cx="218.87" cy="200.63" r="2.9" fill="#D3191C"/>
<circle cx="225.48" cy="205.06" r="2.9" fill="#D3191C"/>
<circle cx="223.04" cy="196.97" r="2.9" fill="#D3191C"/>
<circle cx="215.85" cy="193.11" r="2.9" fill="#D3191C"/>
<circle cx="227.47" cy="203.24" r="2.9" fill="#D3191C"/>
<circle cx="225.19" cy="193.39" r="2.9" fill="#D3191C"/>
<circle cx="218.37" cy="205.47" r="2.9" fill="#D3191C"/>
<circle cx="221.53" cy="192.52" r="2.9" fill="#D3191C"/>
<circle cx="218.9" cy="207.7" r="2.9" fill="#D3191C"/>
<circle cx="213.85" cy="193.83" r="2.9" fill="#D3191C"/>
<circle cx="215.28" cy="204.06" r="2.9" fill="#D3191C"/>
<circle cx="227.48" cy="193.09" r="2.9" fill="#D3191C"/>
<circle cx="212.01" cy="194.95" r="2.9" fill="#D3191C"/>
<circle cx="215.85" cy="200.44" r="2.9" fill="#D3191C"/>
<circle cx="212.12" cy="196.56" r="2.9" fill="#D3191C"/>
<circle cx="212.76" cy="209.5" r="2.9" fill="#D3191C"/>
<circle cx="224.9" cy="192.04" r="2.9" fill="#D3191C"/>
<circle cx="230.15" cy="192.03" r="2.9" fill="#D3191C"/>
<circle cx="217.15" cy="209.68" r="2.9" fill="#D3191C"/>
<circle cx="226.38" cy="204.67" r="2.9" fill="#D3191C"/>
<circle cx="218.29" cy="193.92" r="2.9" fill="#D3191C"/>
<circle cx="222.85" cy="192.14" r="2.9" fill="#D3191C"/>
<circle cx="213.14" cy="197.77" r="2.9" fill="#D3191C"/>
<circle cx="209.26" cy="197.98" r="2.9" fill="#D3191C"/>
<circle cx="226.3" cy="203.87" r="2.9" fill="#D3191C"/>
<circle cx="219.76" cy="202.65" r="2.9" fill="#D3191C"/>
<circle cx="218.92" cy="192.84" r="2.9" fill="#D3191C"/>
<circle cx="222.08" cy="198.09" r="2.9" fill="#D3191C"/>
<circle cx="225.17" cy="208.16" r="2.9" fill="#D3191C"/>
<circle cx="218.18" cy="201.48" r="2.9" fill="#D3191C"/>
<circle cx="225.35" cy="198.42" r="2.9" fill="#D3191C"/>
<circle cx="213.64" cy="204.44" r="2.9" fill="#D3191C"/>
<circle cx="228.3" cy="205.48" r="2.9" fill="#D3191C"/>
<circle cx="224.25" cy="207.05" r="2.9" fill="#D3191C"/>
<circle cx="223.79" cy="202.83" r="2.9" fill="#D3191C"/>
<circle cx="218.71" cy="196.26" r="2.9" fill="#D3191C"/>
<circle cx="222.64" cy="191.96" r="2.9" fill="#D3191C"/>
<circle cx="217.94" cy="205.65" r="2.9" fill="#D3191C"/>
<circle cx="224.55" cy="202.59" r="2.9" fill="#D3191C"/>
<circle cx="217.13" cy="217.41" r="2.9" fill="#D3191C"/>
<circle cx="224.2" cy="220.88" r="2.9" fill="#D3191C"/>
<circle cx="222.62" cy="221.82" r="2.9" fill="#D3191C"/>
<circle cx="240.59" cy="213.2" r="2.9" fill="#D3191C"/>
<circle cx="231.08" cy="223.62" r="2.9" fill="#D3191C"/>
<circle cx="221.91" cy="218.57" r="2.9" fill="#D3191C"/>
<circle cx="242.12" cy="210.67" r="2.9" fill="#D3191C"/>
<circle cx="227.25" cy="212.81" r="2.9" fill="#D3191C"/>
<circle cx="235.47" cy="226.46" r="2.9" fill="#D3191C"/>
<circle cx="226.41" cy="211.77" r="2.9" fill="#D3191C"/>
<circle cx="228.32" cy="219.47" r="2.9" fill="#D3191C"/>
<circle cx="233.25" cy="218.96" r="2.9" fill="#D3191C"/>
<circle cx="230.55" cy="224.51" r="2.9" fill="#D3191C"/>
<circle cx="226.5" cy="217.18" r="2.9" fill="#D3191C"/>
<circle cx="241.21" cy="213.68" r="2.9" fill="#D3191C"/>
<circle cx="232.11" cy="216.87" r="2.9" fill="#D3191C"/>
<circle cx="234.81" cy="212.14" r="2.9" fill="#D3191C"/>
<circle cx="242.46" cy="216.22" r="2.9" fill="#D3191C"/>
<circle cx="210.45" cy="214.8" r="2.9" fill="#D3191C"/>
<circle cx="222.29" cy="210.23" r="2.9" fill="#D3191C"/>
<circle cx="222.94" cy="217.36" r="2.9" fill="#D3191C"/>
<circle cx="232.59" cy="216.16" r="2.9" fill="#D3191C"/>
<circle cx="217.65" cy="213.93" r="2.9" fill="#D3191C"/>
<circle cx="234.08" cy="226.45" r="2.9" fill="#D3191C"/>
<circle cx="226.68" cy="213.83" r="2.9" fill="#D3191C"/>
<circle cx="236.15" cy="216.86" r="2.9" fill="#D3191C"/>
<circle cx="215.81" cy="212.26" r="2.9" fill="#D3191C"/>
<circle cx="235.29" cy="224.17" r="2.9" fill="#D3191C"/>
<circle cx="230.38" cy="218.21" r="2.9" fill="#D3191C"/>
<circle cx="227.89" cy="213.95" r="2.9" fill="#D3191C"/>
<circle cx="241.75" cy="216.18" r="2.9" fill="#D3191C"/>
<circle cx="230.54" cy="224.33" r="2.9" fill="#D3191C"/>
<circle cx="236.66" cy="218.19" r="2.9" fill="#D3191C"/>
<circle cx="218.65" cy="219.59" r="2.9" fill="#D3191C"/>
<circle cx="212.82" cy="224.59" r="2.9" fill="#D3191C"/>
<circle cx="220.74" cy="224.89" r="2.9" fill="#D3191C"/>
<circle cx="217.73" cy="216.58" r="2.9" fill="#D3191C"/>
<circle cx="217.25" cy="217.46" r="2.9" fill="#D3191C"/>
<circle cx="214.91" cy="210.05" r="2.9" fill="#D3191C"/>
<circle cx="233.4" cy="214.92" r="2.9" fill="#D3191C"/>
<circle cx="216.95" cy="215.28" r="2.9" fill="#D3191C"/>
<circle cx="225.04" cy="217.5" r="2.9" fill="#D3191C"/>
<circle cx="230.49" cy="221.54" r="2.9" fill="#D3191C"/>
<circle cx="221" cy="226.25" r="2.9" fill="#D3191C"/>
<circle cx="237.98" cy="211" r="2.9" fill="#D3191C"/>
<circle cx="237.06" cy="225.85" r="2.9" fill="#D3191C"/>
<circle cx="235.55" cy="212.46" r="2.9" fill="#D3191C"/>
<circle cx="237.18" cy="221.08" r="2.9" fill="#D3191C"/>
<circle cx="209.02" cy="210.2" r="2.9" fill="#D3191C"/>
<circle cx="241.34" cy="221.48" r="2.9" fill="#D3191C"/>
<circle cx="217.13" cy="211.78" r="2.9" fill="#D3191C"/>
<circle cx="213.42" cy="214.09" r="2.9" fill="#D3191C"/>
<circle cx="235.28" cy="216.06" r="2.9" fill="#D3191C"/>
<circle cx="213.77" cy="225.82" r="2.9" fill="#D3191C"/>
<circle cx="235.81" cy="212.94" r="2.9" fill="#D3191C"/>
<circle cx="239.24" cy="220.65" r="2.9" fill="#D3191C"/>
<circle cx="235.45" cy="221.7" r="2.9" fill="#D3191C"/>
<circle cx="239.34" cy="223.79" r="2.9" fill="#D3191C"/>
<circle cx="237.44" cy="213.45" r="2.9" fill="#D3191C"/>
<circle cx="232.4" cy="219.29" r="2.9" fill="#D3191C"/>
<circle cx="234.1" cy="217.68" r="2.9" fill="#D3191C"/>
<circle cx="238.95" cy="219.71" r="2.9" fill="#D3191C"/>
<circle cx="217.63" cy="214.1" r="2.9" fill="#D3191C"/>
<circle cx="213.31" cy="218.63" r="2.9" fill="#D3191C"/>
<circle cx="210.52" cy="218.17" r="2.9" fill="#D3191C"/>
<circle cx="213.48" cy="218.6" r="2.9" fill="#D3191C"/>
<circle cx="225.69" cy="219.44" r="2.9" fill="#D3191C"/>
<circle cx="238.27" cy="210.12" r="2.9" fill="#D3191C"/>
<circle cx="237.51" cy="218.19" r="2.9" fill="#D3191C"/>
<circle cx="227.91" cy="221.64" r="2.9" fill="#D3191C"/>
<circle cx="237.5" cy="216.56" r="2.9" fill="#D3191C"/>
<circle cx="275.1" cy="19.9" r="2.9" fill="#D3191C"/>
<circle cx="259.8" cy="31.9" r="2.9" fill="#D3191C"/>
<circle cx="283.7" cy="43.8" r="2.9" fill="#D3191C"/>
<circle cx="263.8" cy="43.8" r="2.9" fill="#D3191C"/>
<circle cx="257.2" cy="45.4" r="2.9" fill="#D3191C"/>
<circle cx="252.1" cy="48.9" r="2.9" fill="#D3191C"/>
<circle cx="255.7" cy="60.7" r="2.9" fill="#D3191C"/>
<circle cx="258.2" cy="62.5" r="2.9" fill="#D3191C"/>
<circle cx="283.7" cy="75.2" r="2.9" fill="#D3191C"/>
<circle cx="251.4" cy="95.6" r="2.9" fill="#D3191C"/>
<circle cx="268.4" cy="100.2" r="2.9" fill="#D3191C"/>
<circle cx="286.8" cy="129.5" r="2.9" fill="#D3191C"/>
<circle cx="264.1" cy="126.2" r="2.9" fill="#D3191C"/>
<circle cx="236.6" cy="133" r="2.9" fill="#D3191C"/>
<circle cx="242.4" cy="133.8" r="2.9" fill="#D3191C"/>
<circle cx="246" cy="135" r="2.9" fill="#D3191C"/>
<circle cx="209.8" cy="125.7" r="2.9" fill="#D3191C"/>
<circle cx="250.1" cy="70.1" r="2.9" fill="#D3191C"/>
<circle cx="232.4" cy="68.5" r="2.9" fill="#D3191C"/>
<circle cx="234" cy="72" r="2.9" fill="#D3191C"/>
<circle cx="236.7" cy="76.6" r="2.9" fill="#D3191C"/>
<circle cx="231" cy="78" r="2.9" fill="#D3191C"/>
<circle cx="239.9" cy="85.7" r="2.9" fill="#D3191C"/>
<circle cx="233" cy="90" r="2.9" fill="#D3191C"/>
<circle cx="228" cy="92" r="2.9" fill="#D3191C"/>
<circle cx="225" cy="97" r="2.9" fill="#D3191C"/>
<circle cx="252" cy="95.5" r="2.9" fill="#D3191C"/>
<circle cx="262.7" cy="125.7" r="2.9" fill="#D3191C"/>
<circle cx="240.2" cy="151.2" r="2.9" fill="#D3191C"/>
<circle cx="259.8" cy="154.7" r="2.9" fill="#D3191C"/>
<circle cx="263.7" cy="158.6" r="2.9" fill="#D3191C"/>
<circle cx="234.9" cy="160.6" r="2.9" fill="#D3191C"/>
<circle cx="249.4" cy="164.9" r="2.9" fill="#D3191C"/>
<circle cx="243.7" cy="168.4" r="2.9" fill="#D3191C"/>
<circle cx="250" cy="171.4" r="2.9" fill="#D3191C"/>
<circle cx="253.3" cy="178.2" r="2.9" fill="#D3191C"/>
<circle cx="240.2" cy="194.9" r="2.9" fill="#D3191C"/>
<circle cx="244.7" cy="200.8" r="2.9" fill="#D3191C"/>
<circle cx="264.3" cy="201.4" r="2.9" fill="#D3191C"/>
<circle cx="253.9" cy="211.2" r="2.9" fill="#D3191C"/>
<circle cx="249.6" cy="218.4" r="2.9" fill="#D3191C"/>
<circle cx="256.9" cy="219.4" r="2.9" fill="#D3191C"/>
<circle cx="265.7" cy="217.5" r="2.9" fill="#D3191C"/>
<circle cx="272.2" cy="223.3" r="2.9" fill="#D3191C"/>
<circle cx="278.4" cy="221" r="2.9" fill="#D3191C"/>
<circle cx="283.9" cy="226.9" r="2.9" fill="#D3191C"/>
<circle cx="235.3" cy="178.2" r="2.9" fill="#D3191C"/>
<circle cx="229.4" cy="184.1" r="2.9" fill="#D3191C"/>
<circle cx="237.3" cy="213.5" r="2.9" fill="#D3191C"/>
<circle cx="328.6" cy="168.6" r="2.9" fill="#D3191C"/>
<circle cx="233" cy="140" r="2.9" fill="#D3191C"/>
<circle cx="236" cy="117" r="2.9" fill="#D3191C"/>
<circle cx="226" cy="167" r="2.9" fill="#D3191C"/>
<circle cx="249" cy="224" r="2.9" fill="#D3191C"/>
<circle cx="254" cy="226" r="2.9" fill="#D3191C"/>
<circle cx="260" cy="226" r="2.9" fill="#D3191C"/>
<circle cx="268" cy="227" r="2.9" fill="#D3191C"/>
<circle cx="232" cy="68.5" r="2.9" fill="#D3191C"/>
<circle cx="235.6" cy="67.4" r="2.9" fill="#D3191C"/>
<circle cx="233.8" cy="71.5" r="2.9" fill="#D3191C"/>
<circle cx="235.6" cy="74.4" r="2.9" fill="#D3191C"/>
<circle cx="234.4" cy="77.4" r="2.9" fill="#D3191C"/>
<circle cx="232" cy="75.6" r="2.9" fill="#D3191C"/>
<circle cx="231.5" cy="82" r="2.9" fill="#D3191C"/>
<circle cx="228" cy="86.8" r="2.9" fill="#D3191C"/>
<circle cx="242" cy="85.6" r="2.9" fill="#D3191C"/>
<circle cx="231.5" cy="95" r="2.9" fill="#D3191C"/>
<circle cx="221.5" cy="96.2" r="2.9" fill="#D3191C"/>
<circle cx="237.4" cy="98.5" r="2.9" fill="#D3191C"/>
<circle cx="215" cy="101.5" r="2.9" fill="#D3191C"/>
<circle cx="256.8" cy="61.5" r="2.9" fill="#D3191C"/>
<circle cx="258.5" cy="63.2" r="2.9" fill="#D3191C"/>
<circle cx="250.3" cy="70.3" r="2.9" fill="#D3191C"/>
<circle cx="242.6" cy="74.7" r="2.9" fill="#7B52A8"/>
<circle cx="275.8" cy="72.6" r="2.9" fill="#7B52A8"/>
<circle cx="227.5" cy="83" r="2.9" fill="#7B52A8"/>
<circle cx="230" cy="84.5" r="2.9" fill="#7B52A8"/>
<circle cx="265.8" cy="117.9" r="2.9" fill="#7B52A8"/>
<circle cx="166.9" cy="135.4" r="2.9" fill="#7B52A8"/>
<circle cx="163.4" cy="141.6" r="2.9" fill="#7B52A8"/>
<circle cx="145.7" cy="147.4" r="2.9" fill="#7B52A8"/>
<circle cx="167.4" cy="157.5" r="2.9" fill="#7B52A8"/>
<circle cx="168.2" cy="163.7" r="2.9" fill="#7B52A8"/>
<circle cx="165.6" cy="199.9" r="2.9" fill="#7B52A8"/>
<circle cx="161.2" cy="219.7" r="2.9" fill="#7B52A8"/>
<line x1="170.4" y1="11" x2="170.4" y2="253.6" stroke="#2a2a2a" stroke-width="1.3" stroke-dasharray="4.2 2.6 1 2.9"/>
<line x1="209.6" y1="11" x2="209.6" y2="253.6" stroke="#2a2a2a" stroke-width="1.3" stroke-dasharray="4.2 2.6 1 2.9"/>
<line x1="96" y1="227.2" x2="339" y2="227.2" stroke="#2a2a2a" stroke-width="1.3" stroke-dasharray="4.2 2.6 1 2.9"/>
<text x="237.7" y="72.3" font-size="10" fill="#000" textLength="22.9" lengthAdjust="spacingAndGlyphs" stroke="#000" stroke-width="0.25">Il12a</text>
<text x="206.9" y="80.3" font-size="10" fill="#000" textLength="24.8" lengthAdjust="spacingAndGlyphs" stroke="#000" stroke-width="0.25">Nos2</text>
<text x="268.7" y="83.3" font-size="10" fill="#000" textLength="30.4" lengthAdjust="spacingAndGlyphs" stroke="#000" stroke-width="0.25">Susd2</text>
<text x="228" y="94.9" font-size="10" fill="#000" textLength="16.8" lengthAdjust="spacingAndGlyphs" stroke="#000" stroke-width="0.25">Il1a</text>
<text x="246.8" y="128.3" font-size="10" fill="#000" textLength="24.8" lengthAdjust="spacingAndGlyphs" stroke="#000" stroke-width="0.25">Vnn3</text>
<text x="162.3" y="130.6" font-size="10" fill="#000" textLength="23.8" lengthAdjust="spacingAndGlyphs" stroke="#000" stroke-width="0.25">Cav1</text>
<text x="138.3" y="143.6" font-size="10" fill="#000" textLength="22.4" lengthAdjust="spacingAndGlyphs" stroke="#000" stroke-width="0.25">Ear2</text>
<text x="126.6" y="158.8" font-size="10" fill="#000" textLength="18.2" lengthAdjust="spacingAndGlyphs" stroke="#000" stroke-width="0.25">Ace</text>
<text x="170.3" y="155.3" font-size="10" fill="#000" textLength="17.7" lengthAdjust="spacingAndGlyphs" stroke="#000" stroke-width="0.25">Fn1</text>
<text x="157" y="174" font-size="10" fill="#000" textLength="30.6" lengthAdjust="spacingAndGlyphs" stroke="#000" stroke-width="0.25">Ccnd1</text>
<text x="163.7" y="196.8" font-size="10" fill="#000" textLength="17.3" lengthAdjust="spacingAndGlyphs" stroke="#000" stroke-width="0.25">Flt1</text>
<text x="154" y="217.1" font-size="10" fill="#000" textLength="27.9" lengthAdjust="spacingAndGlyphs" stroke="#000" stroke-width="0.25">Erbb2</text>
<text x="110.6" y="61.8" font-size="25" fill="#000" font-weight="bold" textLength="40" lengthAdjust="spacingAndGlyphs">168</text>
<text x="297.6" y="61.8" font-size="25" fill="#000" font-weight="bold" textLength="40" lengthAdjust="spacingAndGlyphs">339</text>
<rect x="600.6" y="26.5" width="210.2" height="242.3" fill="none" stroke="#8a8a8a" stroke-width="1"/>
<line x1="598" y1="258.4" x2="600.6" y2="258.4" stroke="#777" stroke-width="0.8"/>
<text x="594.9" y="260.4" font-size="5.6" fill="#333" textLength="2.7" lengthAdjust="spacingAndGlyphs">0</text>
<line x1="598" y1="210.35" x2="600.6" y2="210.35" stroke="#777" stroke-width="0.8"/>
<text x="589.8" y="212.35" font-size="5.6" fill="#333" textLength="7.8" lengthAdjust="spacingAndGlyphs">500</text>
<line x1="598" y1="162.3" x2="600.6" y2="162.3" stroke="#777" stroke-width="0.8"/>
<text x="587.2" y="164.3" font-size="5.6" fill="#333" textLength="10.4" lengthAdjust="spacingAndGlyphs">1000</text>
<line x1="598" y1="114.25" x2="600.6" y2="114.25" stroke="#777" stroke-width="0.8"/>
<text x="587.2" y="116.25" font-size="5.6" fill="#333" textLength="10.4" lengthAdjust="spacingAndGlyphs">1500</text>
<line x1="598" y1="66.2" x2="600.6" y2="66.2" stroke="#777" stroke-width="0.8"/>
<text x="587.2" y="68.2" font-size="5.6" fill="#333" textLength="10.4" lengthAdjust="spacingAndGlyphs">2000</text>
<rect x="605.7" y="99.93" width="15.1" height="158.47" fill="#EF716A"/>
<rect x="620.8" y="117.04" width="15" height="141.36" fill="#22B5BE"/>
<line x1="620.8" y1="268.8" x2="620.8" y2="271" stroke="#777" stroke-width="0.8"/>
<text x="611.18" y="275.7" font-size="6.5" fill="#333" textLength="19.25" lengthAdjust="spacingAndGlyphs">promoter</text>
<rect x="639.6" y="142.98" width="15.1" height="115.42" fill="#EF716A"/>
<rect x="654.7" y="154.32" width="15" height="104.08" fill="#22B5BE"/>
<line x1="654.7" y1="268.8" x2="654.7" y2="271" stroke="#777" stroke-width="0.8"/>
<text x="650.56" y="275.7" font-size="6.5" fill="#333" textLength="8.29" lengthAdjust="spacingAndGlyphs">utr5</text>
<rect x="673.5" y="203.33" width="15.1" height="55.07" fill="#EF716A"/>
<rect x="688.6" y="187.19" width="15" height="71.21" fill="#22B5BE"/>
<line x1="688.6" y1="268.8" x2="688.6" y2="271" stroke="#777" stroke-width="0.8"/>
<text x="683.38" y="275.7" font-size="6.5" fill="#333" textLength="10.43" lengthAdjust="spacingAndGlyphs">exon</text>
<rect x="707.4" y="37.75" width="15.1" height="220.65" fill="#EF716A"/>
<rect x="722.5" y="58.8" width="15" height="199.6" fill="#22B5BE"/>
<line x1="722.5" y1="268.8" x2="722.5" y2="271" stroke="#777" stroke-width="0.8"/>
<text x="716.48" y="275.7" font-size="6.5" fill="#333" textLength="12.03" lengthAdjust="spacingAndGlyphs">intron</text>
<rect x="741.3" y="236.49" width="15.1" height="21.91" fill="#EF716A"/>
<rect x="756.4" y="240.24" width="15" height="18.16" fill="#22B5BE"/>
<line x1="756.4" y1="268.8" x2="756.4" y2="271" stroke="#777" stroke-width="0.8"/>
<text x="752.26" y="275.7" font-size="6.5" fill="#333" textLength="8.29" lengthAdjust="spacingAndGlyphs">utr3</text>
<rect x="775.2" y="154.9" width="15.1" height="103.5" fill="#EF716A"/>
<rect x="790.3" y="175.18" width="15" height="83.22" fill="#22B5BE"/>
<line x1="790.3" y1="268.8" x2="790.3" y2="271" stroke="#777" stroke-width="0.8"/>
<text x="783.62" y="275.7" font-size="6.5" fill="#333" textLength="13.37" lengthAdjust="spacingAndGlyphs">others</text>
<text x="705.6" y="282.8" font-size="6.6" fill="#222" text-anchor="middle" font-weight="bold" textLength="20" lengthAdjust="spacingAndGlyphs">Region</text>
<text transform="translate(585.9,143) rotate(-90)" font-size="8.8" font-weight="bold" fill="#222" text-anchor="middle" textLength="46" lengthAdjust="spacingAndGlyphs">DMR Number</text>
<text x="588.4" y="23.8" font-size="9.6" fill="#000" textLength="246.9" lengthAdjust="spacingAndGlyphs" stroke="#000" stroke-width="0.35">The number distribution of DMR between DC100__DC0 and NA</text>
<text x="820" y="139.8" font-size="7.2" fill="#111" textLength="13.6" lengthAdjust="spacingAndGlyphs">Type</text>
<rect x="820" y="143.8" width="8.3" height="8" fill="#EF716A"/>
<rect x="820" y="152.9" width="8.3" height="8.3" fill="#22B5BE"/>
<text x="831.8" y="150.6" font-size="7.2" fill="#111" textLength="16.6" lengthAdjust="spacingAndGlyphs">hyper</text>
<text x="831.8" y="159.8" font-size="7.2" fill="#111" textLength="14.4" lengthAdjust="spacingAndGlyphs">hypo</text>
<line x1="190.15" y1="344.9" x2="190.15" y2="623" stroke="#F2F2F2" stroke-width="0.7"/>
<line x1="233.25" y1="344.9" x2="233.25" y2="623" stroke="#F2F2F2" stroke-width="0.7"/>
<line x1="276.35" y1="344.9" x2="276.35" y2="623" stroke="#F2F2F2" stroke-width="0.7"/>
<line x1="319.45" y1="344.9" x2="319.45" y2="623" stroke="#F2F2F2" stroke-width="0.7"/>
<line x1="362.55" y1="344.9" x2="362.55" y2="623" stroke="#F2F2F2" stroke-width="0.7"/>
<line x1="211.7" y1="344.9" x2="211.7" y2="623" stroke="#EBEBEB" stroke-width="1.1"/>
<line x1="254.8" y1="344.9" x2="254.8" y2="623" stroke="#EBEBEB" stroke-width="1.1"/>
<line x1="297.9" y1="344.9" x2="297.9" y2="623" stroke="#EBEBEB" stroke-width="1.1"/>
<line x1="341" y1="344.9" x2="341" y2="623" stroke="#EBEBEB" stroke-width="1.1"/>
<line x1="384.1" y1="344.9" x2="384.1" y2="623" stroke="#EBEBEB" stroke-width="1.1"/>
<line x1="186.8" y1="361.6" x2="389.4" y2="361.6" stroke="#EBEBEB" stroke-width="1.1"/>
<line x1="186.8" y1="388.95" x2="389.4" y2="388.95" stroke="#EBEBEB" stroke-width="1.1"/>
<line x1="186.8" y1="416.3" x2="389.4" y2="416.3" stroke="#EBEBEB" stroke-width="1.1"/>
<line x1="186.8" y1="443.65" x2="389.4" y2="443.65" stroke="#EBEBEB" stroke-width="1.1"/>
<line x1="186.8" y1="471" x2="389.4" y2="471" stroke="#EBEBEB" stroke-width="1.1"/>
<line x1="186.8" y1="498.35" x2="389.4" y2="498.35" stroke="#EBEBEB" stroke-width="1.1"/>
<line x1="186.8" y1="525.7" x2="389.4" y2="525.7" stroke="#EBEBEB" stroke-width="1.1"/>
<line x1="186.8" y1="553.05" x2="389.4" y2="553.05" stroke="#EBEBEB" stroke-width="1.1"/>
<line x1="186.8" y1="580.4" x2="389.4" y2="580.4" stroke="#EBEBEB" stroke-width="1.1"/>
<line x1="186.8" y1="607.75" x2="389.4" y2="607.75" stroke="#EBEBEB" stroke-width="1.1"/>
<text x="19.8" y="365.8" font-size="11.3" fill="#4D4D4D" textLength="159.8" lengthAdjust="spacingAndGlyphs">response to lipopolysaccharide</text>
<line x1="182.6" y1="361.6" x2="186.8" y2="361.6" stroke="#333" stroke-width="1"/>
<text x="73.5" y="393.15" font-size="11.3" fill="#4D4D4D" textLength="106.1" lengthAdjust="spacingAndGlyphs">response to cytokine</text>
<line x1="182.6" y1="388.95" x2="186.8" y2="388.95" stroke="#333" stroke-width="1"/>
<text x="20.6" y="420.5" font-size="11.3" fill="#4D4D4D" textLength="159" lengthAdjust="spacingAndGlyphs">regulation of defense response</text>
<line x1="182.6" y1="416.3" x2="186.8" y2="416.3" stroke="#333" stroke-width="1"/>
<text x="52.5" y="447.85" font-size="11.3" fill="#4D4D4D" textLength="127.1" lengthAdjust="spacingAndGlyphs">innate immune response</text>
<line x1="182.6" y1="443.65" x2="186.8" y2="443.65" stroke="#333" stroke-width="1"/>
<text x="61.5" y="475.2" font-size="11.3" fill="#4D4D4D" textLength="118.1" lengthAdjust="spacingAndGlyphs">inflammatory response</text>
<line x1="182.6" y1="471" x2="186.8" y2="471" stroke="#333" stroke-width="1"/>
<text x="87.5" y="502.55" font-size="11.3" fill="#4D4D4D" textLength="92.1" lengthAdjust="spacingAndGlyphs">immune response</text>
<line x1="182.6" y1="498.35" x2="186.8" y2="498.35" stroke="#333" stroke-width="1"/>
<text x="88" y="529.9" font-size="11.3" fill="#4D4D4D" textLength="91.6" lengthAdjust="spacingAndGlyphs">defense response</text>
<line x1="182.6" y1="525.7" x2="186.8" y2="525.7" stroke="#333" stroke-width="1"/>
<text x="50.5" y="557.25" font-size="11.3" fill="#4D4D4D" textLength="129.1" lengthAdjust="spacingAndGlyphs">cytokine receptor binding</text>
<line x1="182.6" y1="553.05" x2="186.8" y2="553.05" stroke="#333" stroke-width="1"/>
<text x="80" y="584.6" font-size="11.3" fill="#4D4D4D" textLength="99.6" lengthAdjust="spacingAndGlyphs">cytokine production</text>
<line x1="182.6" y1="580.4" x2="186.8" y2="580.4" stroke="#333" stroke-width="1"/>
<text x="98.5" y="611.95" font-size="11.3" fill="#4D4D4D" textLength="81.1" lengthAdjust="spacingAndGlyphs">cytokine activity</text>
<line x1="182.6" y1="607.75" x2="186.8" y2="607.75" stroke="#333" stroke-width="1"/>
<circle cx="205.23" cy="361.6" r="4.1" fill="#E3165C"/>
<circle cx="272.47" cy="388.95" r="6.1" fill="#9C3A9C"/>
<circle cx="206.1" cy="416.3" r="6" fill="#6A3D9E"/>
<circle cx="198.77" cy="443.65" r="6" fill="#6A3D9E"/>
<circle cx="347.47" cy="471" r="6.8" fill="#9C3A9C"/>
<circle cx="246.61" cy="498.35" r="8.1" fill="#1F4EA8"/>
<circle cx="380.65" cy="525.7" r="9" fill="#2B48A0"/>
<circle cx="203.08" cy="553.05" r="3.8" fill="#E3165C"/>
<circle cx="195.32" cy="580.4" r="6.1" fill="#6A3D9E"/>
<circle cx="211.27" cy="607.75" r="2.1" fill="#E51E28"/>
<rect x="186.8" y="344.9" width="202.6" height="278.1" fill="none" stroke="#555" stroke-width="1.2"/>
<line x1="211.7" y1="623" x2="211.7" y2="626" stroke="#333" stroke-width="1"/>
<text x="211.7" y="639.5" font-size="11" fill="#4D4D4D" text-anchor="middle">10</text>
<line x1="254.8" y1="623" x2="254.8" y2="626" stroke="#333" stroke-width="1"/>
<text x="254.8" y="639.5" font-size="11" fill="#4D4D4D" text-anchor="middle">11</text>
<line x1="297.9" y1="623" x2="297.9" y2="626" stroke="#333" stroke-width="1"/>
<text x="297.9" y="639.5" font-size="11" fill="#4D4D4D" text-anchor="middle">12</text>
<line x1="341" y1="623" x2="341" y2="626" stroke="#333" stroke-width="1"/>
<text x="341" y="639.5" font-size="11" fill="#4D4D4D" text-anchor="middle">13</text>
<line x1="384.1" y1="623" x2="384.1" y2="626" stroke="#333" stroke-width="1"/>
<text x="384.1" y="639.5" font-size="11" fill="#4D4D4D" text-anchor="middle">14</text>
<text x="241.7" y="655" font-size="14" fill="#000" textLength="92.3" lengthAdjust="spacingAndGlyphs">−log10(pvalue)</text>
<text x="411" y="360" font-size="12.6" fill="#111" textLength="83.5" lengthAdjust="spacingAndGlyphs">Input number</text>
<circle cx="422.3" cy="380.3" r="5.6" fill="#000"/>
<text x="440.5" y="384.5" font-size="11.2" fill="#111">30</text>
<circle cx="422.3" cy="403.1" r="7" fill="#000"/>
<text x="440.5" y="407.3" font-size="11.2" fill="#111">40</text>
<circle cx="422.3" cy="425.3" r="8" fill="#000"/>
<text x="440.5" y="429.5" font-size="11.2" fill="#111">50</text>
<circle cx="422.3" cy="448" r="8.9" fill="#000"/>
<text x="440.5" y="452.2" font-size="11.2" fill="#111">60</text>
<text x="411" y="499.6" font-size="12.6" fill="#111" textLength="72.5" lengthAdjust="spacingAndGlyphs">Rich factor</text>
<circle cx="422.3" cy="519.6" r="3.2" fill="#2E4FB0"/>
<text x="440.5" y="523.8" font-size="11.2" fill="#111">4</text>
<circle cx="422.3" cy="542" r="3.2" fill="#7040A8"/>
<text x="440.5" y="546.2" font-size="11.2" fill="#111">5</text>
<circle cx="422.3" cy="564.4" r="3.2" fill="#B0329E"/>
<text x="440.5" y="568.6" font-size="11.2" fill="#111">6</text>
<circle cx="422.3" cy="586.8" r="3.2" fill="#E3165C"/>
<text x="440.5" y="591" font-size="11.2" fill="#111">7</text>
<circle cx="422.3" cy="609.2" r="3.2" fill="#E51E28"/>
<text x="440.5" y="613.4" font-size="11.2" fill="#111">8</text>
<line x1="777.12" y1="344.4" x2="777.12" y2="628.2" stroke="#F2F2F2" stroke-width="0.7"/>
<line x1="828.88" y1="344.4" x2="828.88" y2="628.2" stroke="#F2F2F2" stroke-width="0.7"/>
<line x1="880.62" y1="344.4" x2="880.62" y2="628.2" stroke="#F2F2F2" stroke-width="0.7"/>
<line x1="803" y1="344.4" x2="803" y2="628.2" stroke="#EBEBEB" stroke-width="1.1"/>
<line x1="854.75" y1="344.4" x2="854.75" y2="628.2" stroke="#EBEBEB" stroke-width="1.1"/>
<line x1="906.5" y1="344.4" x2="906.5" y2="628.2" stroke="#EBEBEB" stroke-width="1.1"/>
<line x1="756.5" y1="360.5" x2="917.3" y2="360.5" stroke="#EBEBEB" stroke-width="1.1"/>
<line x1="756.5" y1="388.47" x2="917.3" y2="388.47" stroke="#EBEBEB" stroke-width="1.1"/>
<line x1="756.5" y1="416.44" x2="917.3" y2="416.44" stroke="#EBEBEB" stroke-width="1.1"/>
<line x1="756.5" y1="444.41" x2="917.3" y2="444.41" stroke="#EBEBEB" stroke-width="1.1"/>
<line x1="756.5" y1="472.38" x2="917.3" y2="472.38" stroke="#EBEBEB" stroke-width="1.1"/>
<line x1="756.5" y1="500.35" x2="917.3" y2="500.35" stroke="#EBEBEB" stroke-width="1.1"/>
<line x1="756.5" y1="528.32" x2="917.3" y2="528.32" stroke="#EBEBEB" stroke-width="1.1"/>
<line x1="756.5" y1="556.29" x2="917.3" y2="556.29" stroke="#EBEBEB" stroke-width="1.1"/>
<line x1="756.5" y1="584.26" x2="917.3" y2="584.26" stroke="#EBEBEB" stroke-width="1.1"/>
<line x1="756.5" y1="612.23" x2="917.3" y2="612.23" stroke="#EBEBEB" stroke-width="1.1"/>
<text x="579.5" y="364.2" font-size="10.2" fill="#4D4D4D" textLength="171.8" lengthAdjust="spacingAndGlyphs">regulation of protein autophosphorylation</text>
<line x1="752.5" y1="360.5" x2="756.5" y2="360.5" stroke="#333" stroke-width="1"/>
<text x="533.1" y="392.17" font-size="10.2" fill="#4D4D4D" textLength="218.2" lengthAdjust="spacingAndGlyphs">regulation of phosphatidylinositol 3−kinase signaling</text>
<line x1="752.5" y1="388.47" x2="756.5" y2="388.47" stroke="#333" stroke-width="1"/>
<text x="537" y="420.14" font-size="10.2" fill="#4D4D4D" textLength="214.3" lengthAdjust="spacingAndGlyphs">regulation of peptidyl−tyrosine autophosphorylation</text>
<line x1="752.5" y1="416.44" x2="756.5" y2="416.44" stroke="#333" stroke-width="1"/>
<text x="502.5" y="448.11" font-size="10.2" fill="#4D4D4D" textLength="248.8" lengthAdjust="spacingAndGlyphs">positive regulation of peptidyl−tyrosine autophosphorylation</text>
<line x1="752.5" y1="444.41" x2="756.5" y2="444.41" stroke="#333" stroke-width="1"/>
<text x="586.7" y="476.08" font-size="10.2" fill="#4D4D4D" textLength="164.6" lengthAdjust="spacingAndGlyphs">positive regulation of defense response</text>
<line x1="752.5" y1="472.38" x2="756.5" y2="472.38" stroke="#333" stroke-width="1"/>
<text x="670.8" y="504.05" font-size="10.2" fill="#4D4D4D" textLength="80.5" lengthAdjust="spacingAndGlyphs">icosanoid transport</text>
<line x1="752.5" y1="500.35" x2="756.5" y2="500.35" stroke="#333" stroke-width="1"/>
<text x="658" y="532.02" font-size="10.2" fill="#4D4D4D" textLength="93.3" lengthAdjust="spacingAndGlyphs">gap junction assembly</text>
<line x1="752.5" y1="528.32" x2="756.5" y2="528.32" stroke="#333" stroke-width="1"/>
<text x="659" y="559.99" font-size="10.2" fill="#4D4D4D" textLength="92.3" lengthAdjust="spacingAndGlyphs">cell junction assembly</text>
<line x1="752.5" y1="556.29" x2="756.5" y2="556.29" stroke="#333" stroke-width="1"/>
<text x="647.8" y="587.96" font-size="10.2" fill="#4D4D4D" textLength="103.5" lengthAdjust="spacingAndGlyphs">basal plasma membrane</text>
<line x1="752.5" y1="584.26" x2="756.5" y2="584.26" stroke="#333" stroke-width="1"/>
<text x="682" y="615.93" font-size="10.2" fill="#4D4D4D" textLength="69.3" lengthAdjust="spacingAndGlyphs">basal part of cell</text>
<line x1="752.5" y1="612.23" x2="756.5" y2="612.23" stroke="#333" stroke-width="1"/>
<circle cx="784.5" cy="360.5" r="4.1" fill="#6A3D9E"/>
<circle cx="764.1" cy="388.47" r="4.6" fill="#2C48A6"/>
<circle cx="908" cy="416.44" r="4.2" fill="#E31F26"/>
<circle cx="828.8" cy="444.41" r="2" fill="#E31F26"/>
<circle cx="776.5" cy="472.38" r="7.6" fill="#1F4EA8"/>
<circle cx="771.1" cy="500.35" r="4.3" fill="#5A3E9E"/>
<circle cx="812.4" cy="528.32" r="1.8" fill="#E3165C"/>
<circle cx="782.3" cy="556.29" r="6.4" fill="#1F4EA8"/>
<circle cx="903.9" cy="584.26" r="5.9" fill="#7040A0"/>
<circle cx="909.8" cy="612.23" r="6.6" fill="#5E3E9E"/>
<rect x="756.5" y="344.4" width="160.8" height="283.8" fill="none" stroke="#555" stroke-width="1.2"/>
<line x1="803" y1="628.2" x2="803" y2="631.2" stroke="#333" stroke-width="1"/>
<text x="803" y="641.5" font-size="9.6" fill="#4D4D4D" text-anchor="middle">4</text>
<line x1="854.75" y1="628.2" x2="854.75" y2="631.2" stroke="#333" stroke-width="1"/>
<text x="854.75" y="641.5" font-size="9.6" fill="#4D4D4D" text-anchor="middle">5</text>
<line x1="906.5" y1="628.2" x2="906.5" y2="631.2" stroke="#333" stroke-width="1"/>
<text x="906.5" y="641.5" font-size="9.6" fill="#4D4D4D" text-anchor="middle">6</text>
<text x="799" y="656.3" font-size="12.4" fill="#000" textLength="75.6" lengthAdjust="spacingAndGlyphs">−log10(pvalue)</text>
<text x="934.6" y="358.4" font-size="11.4" fill="#111" textLength="68" lengthAdjust="spacingAndGlyphs">Input number</text>
<circle cx="943.5" cy="375.7" r="2.1" fill="#000"/>
<text x="958.3" y="379.3" font-size="10" fill="#111">3</text>
<circle cx="943.5" cy="395.4" r="4.4" fill="#000"/>
<text x="958.3" y="399" font-size="10" fill="#111">4</text>
<circle cx="943.5" cy="415" r="5.4" fill="#000"/>
<text x="958.3" y="418.6" font-size="10" fill="#111">5</text>
<circle cx="943.5" cy="434.7" r="5.7" fill="#000"/>
<text x="958.3" y="438.3" font-size="10" fill="#111">6</text>
<circle cx="943.5" cy="454.3" r="6.6" fill="#000"/>
<text x="958.3" y="457.9" font-size="10" fill="#111">7</text>
<circle cx="943.5" cy="474.1" r="7.2" fill="#000"/>
<text x="958.3" y="477.7" font-size="10" fill="#111">8</text>
<circle cx="943.5" cy="493.4" r="7.75" fill="#000"/>
<text x="958.3" y="497" font-size="10" fill="#111">9</text>
<text x="935" y="537.7" font-size="11.4" fill="#111" textLength="62" lengthAdjust="spacingAndGlyphs">Rich factor</text>
<circle cx="943.4" cy="556.4" r="2.4" fill="#6A3D9E"/>
<text x="958.3" y="560" font-size="10" fill="#111">20</text>
<circle cx="943.4" cy="575.5" r="2.4" fill="#A0339E"/>
<text x="958.3" y="579.1" font-size="10" fill="#111">40</text>
<circle cx="943.4" cy="595.4" r="2.4" fill="#E3165C"/>
<text x="958.3" y="599" font-size="10" fill="#111">60</text>
<circle cx="943.4" cy="614.7" r="2.4" fill="#E51E28"/>
<text x="958.3" y="618.3" font-size="10" fill="#111">80</text>
<line x1="331.2" y1="722.2" x2="331.2" y2="1116.8" stroke="#E4E4E4" stroke-width="0.8" stroke-dasharray="3 1.5"/>
<line x1="341.94" y1="722.2" x2="341.94" y2="1116.8" stroke="#E4E4E4" stroke-width="0.8" stroke-dasharray="3 1.5"/>
<line x1="352.68" y1="722.2" x2="352.68" y2="1116.8" stroke="#E4E4E4" stroke-width="0.8" stroke-dasharray="3 1.5"/>
<line x1="363.42" y1="722.2" x2="363.42" y2="1116.8" stroke="#E4E4E4" stroke-width="0.8" stroke-dasharray="3 1.5"/>
<line x1="374.16" y1="722.2" x2="374.16" y2="1116.8" stroke="#E4E4E4" stroke-width="0.8" stroke-dasharray="3 1.5"/>
<line x1="384.9" y1="722.2" x2="384.9" y2="1116.8" stroke="#E4E4E4" stroke-width="0.8" stroke-dasharray="3 1.5"/>
<line x1="395.64" y1="722.2" x2="395.64" y2="1116.8" stroke="#E4E4E4" stroke-width="0.8" stroke-dasharray="3 1.5"/>
<line x1="406.38" y1="722.2" x2="406.38" y2="1116.8" stroke="#E4E4E4" stroke-width="0.8" stroke-dasharray="3 1.5"/>
<line x1="417.12" y1="722.2" x2="417.12" y2="1116.8" stroke="#E4E4E4" stroke-width="0.8" stroke-dasharray="3 1.5"/>
<line x1="427.86" y1="722.2" x2="427.86" y2="1116.8" stroke="#E4E4E4" stroke-width="0.8" stroke-dasharray="3 1.5"/>
<line x1="438.6" y1="722.2" x2="438.6" y2="1116.8" stroke="#E4E4E4" stroke-width="0.8" stroke-dasharray="3 1.5"/>
<clipPath id="clipE"><rect x="329.3" y="722.2" width="111.3" height="394.6"/></clipPath>
<g clip-path="url(#clipE)">
<line x1="329.3" y1="733.4" x2="437.7" y2="733.4" stroke="#6E6E6E" stroke-width="1.3"/>
<ellipse cx="437.7" cy="733.4" rx="7.1" ry="7.46" fill="#EC6F68"/>
<line x1="329.3" y1="752.97" x2="400.9" y2="752.97" stroke="#6E6E6E" stroke-width="1.3"/>
<ellipse cx="400.9" cy="752.97" rx="6.9" ry="7.25" fill="#EC6F68"/>
<line x1="329.3" y1="772.54" x2="385.1" y2="772.54" stroke="#6E6E6E" stroke-width="1.3"/>
<ellipse cx="385.1" cy="772.54" rx="1.8" ry="1.89" fill="#EC6F68"/>
<line x1="329.3" y1="792.11" x2="385.1" y2="792.11" stroke="#6E6E6E" stroke-width="1.3"/>
<ellipse cx="385.1" cy="792.11" rx="1.8" ry="1.89" fill="#EC6F68"/>
<line x1="329.3" y1="811.68" x2="385.1" y2="811.68" stroke="#6E6E6E" stroke-width="1.3"/>
<ellipse cx="385.1" cy="811.68" rx="1.8" ry="1.89" fill="#EC6F68"/>
<line x1="329.3" y1="831.25" x2="352.1" y2="831.25" stroke="#6E6E6E" stroke-width="1.3"/>
<ellipse cx="352.1" cy="831.25" rx="6.6" ry="6.93" fill="#EC6F68"/>
<line x1="329.3" y1="850.82" x2="352.1" y2="850.82" stroke="#6E6E6E" stroke-width="1.3"/>
<ellipse cx="352.1" cy="850.82" rx="6.6" ry="6.93" fill="#EC6F68"/>
<line x1="329.3" y1="870.39" x2="352.1" y2="870.39" stroke="#6E6E6E" stroke-width="1.3"/>
<ellipse cx="352.1" cy="870.39" rx="6.6" ry="6.93" fill="#EC6F68"/>
<line x1="329.3" y1="889.96" x2="352.1" y2="889.96" stroke="#6E6E6E" stroke-width="1.3"/>
<ellipse cx="352.1" cy="889.96" rx="6.6" ry="6.93" fill="#EC6F68"/>
<line x1="329.3" y1="909.53" x2="351.4" y2="909.53" stroke="#6E6E6E" stroke-width="1.3"/>
<ellipse cx="351.4" cy="909.53" rx="1.8" ry="1.89" fill="#EC6F68"/>
<line x1="329.3" y1="929.1" x2="351.4" y2="929.1" stroke="#6E6E6E" stroke-width="1.3"/>
<ellipse cx="351.4" cy="929.1" rx="1.8" ry="1.89" fill="#EC6F68"/>
<line x1="329.3" y1="948.67" x2="351.4" y2="948.67" stroke="#6E6E6E" stroke-width="1.3"/>
<ellipse cx="351.4" cy="948.67" rx="1.8" ry="1.89" fill="#EC6F68"/>
<line x1="329.3" y1="968.24" x2="351.4" y2="968.24" stroke="#6E6E6E" stroke-width="1.3"/>
<ellipse cx="351.4" cy="968.24" rx="1.8" ry="1.89" fill="#EC6F68"/>
<line x1="329.3" y1="987.81" x2="351.4" y2="987.81" stroke="#6E6E6E" stroke-width="1.3"/>
<ellipse cx="351.4" cy="987.81" rx="1.8" ry="1.89" fill="#EC6F68"/>
<line x1="329.3" y1="1007.38" x2="351.4" y2="1007.38" stroke="#6E6E6E" stroke-width="1.3"/>
<ellipse cx="351.4" cy="1007.38" rx="1.8" ry="1.89" fill="#EC6F68"/>
<line x1="329.3" y1="1026.95" x2="351.4" y2="1026.95" stroke="#6E6E6E" stroke-width="1.3"/>
<ellipse cx="351.4" cy="1026.95" rx="1.8" ry="1.89" fill="#EC6F68"/>
<line x1="329.3" y1="1046.52" x2="351.4" y2="1046.52" stroke="#6E6E6E" stroke-width="1.3"/>
<ellipse cx="351.4" cy="1046.52" rx="1.8" ry="1.89" fill="#EC6F68"/>
<line x1="329.3" y1="1066.09" x2="351.4" y2="1066.09" stroke="#6E6E6E" stroke-width="1.3"/>
<ellipse cx="351.4" cy="1066.09" rx="1.8" ry="1.89" fill="#EC6F68"/>
<line x1="329.3" y1="1085.66" x2="351.4" y2="1085.66" stroke="#6E6E6E" stroke-width="1.3"/>
<ellipse cx="351.4" cy="1085.66" rx="1.8" ry="1.89" fill="#EC6F68"/>
<line x1="329.3" y1="1105.23" x2="335.7" y2="1105.23" stroke="#6E6E6E" stroke-width="1.3"/>
<ellipse cx="335.7" cy="1105.23" rx="6.9" ry="7.25" fill="#EC6F68"/>
</g>
<text x="32.99" y="737.2" font-size="12.6" fill="#000" textLength="292.31" lengthAdjust="spacingAndGlyphs" stroke="#000" stroke-width="0.35">positive regulation of stem cell population maintenance</text>
<line x1="326.5" y1="733.4" x2="329.3" y2="733.4" stroke="#555" stroke-width="1.2"/>
<text x="63.07" y="751.77" font-size="12.6" fill="#000" textLength="262.23" lengthAdjust="spacingAndGlyphs" stroke="#000" stroke-width="0.35">regulation of branching involved in prostate gland</text>
<text x="243.02" y="763.57" font-size="12.6" fill="#000" textLength="82.28" lengthAdjust="spacingAndGlyphs" stroke="#000" stroke-width="0.35">morphogenesis</text>
<line x1="326.5" y1="752.97" x2="329.3" y2="752.97" stroke="#555" stroke-width="1.2"/>
<text x="4.91" y="776.34" font-size="12.6" fill="#000" textLength="320.39" lengthAdjust="spacingAndGlyphs" stroke="#000" stroke-width="0.35">mesenchymal cell proliferation involved in lung development</text>
<line x1="326.5" y1="772.54" x2="329.3" y2="772.54" stroke="#555" stroke-width="1.2"/>
<text x="63.09" y="795.91" font-size="12.6" fill="#000" textLength="262.21" lengthAdjust="spacingAndGlyphs" stroke="#000" stroke-width="0.35">negative regulation of sequestering of triglyceride</text>
<line x1="326.5" y1="792.11" x2="329.3" y2="792.11" stroke="#555" stroke-width="1.2"/>
<text x="92.86" y="815.48" font-size="12.6" fill="#000" textLength="232.44" lengthAdjust="spacingAndGlyphs" stroke="#000" stroke-width="0.35">protein O−linked glycosylation via threonine</text>
<line x1="326.5" y1="811.68" x2="329.3" y2="811.68" stroke="#555" stroke-width="1.2"/>
<text x="48.38" y="830.05" font-size="12.6" fill="#000" textLength="276.92" lengthAdjust="spacingAndGlyphs" stroke="#000" stroke-width="0.35">regulation of production of miRNAs involved in gene</text>
<text x="220.98" y="841.85" font-size="12.6" fill="#000" textLength="104.32" lengthAdjust="spacingAndGlyphs" stroke="#000" stroke-width="0.35">silencing by miRNA</text>
<line x1="326.5" y1="831.25" x2="329.3" y2="831.25" stroke="#555" stroke-width="1.2"/>
<text x="99.43" y="854.62" font-size="12.6" fill="#000" textLength="225.87" lengthAdjust="spacingAndGlyphs" stroke="#000" stroke-width="0.35">AV node cell to bundle of His cell signaling</text>
<line x1="326.5" y1="850.82" x2="329.3" y2="850.82" stroke="#555" stroke-width="1.2"/>
<text x="66.01" y="874.19" font-size="12.6" fill="#000" textLength="259.29" lengthAdjust="spacingAndGlyphs" stroke="#000" stroke-width="0.35">AV node cell to bundle of His cell communication</text>
<line x1="326.5" y1="870.39" x2="329.3" y2="870.39" stroke="#555" stroke-width="1.2"/>
<text x="174.34" y="893.76" font-size="12.6" fill="#000" textLength="150.96" lengthAdjust="spacingAndGlyphs" stroke="#000" stroke-width="0.35">AV node cell action potential</text>
<line x1="326.5" y1="889.96" x2="329.3" y2="889.96" stroke="#555" stroke-width="1.2"/>
<text x="199.55" y="913.33" font-size="12.6" fill="#000" textLength="125.75" lengthAdjust="spacingAndGlyphs" stroke="#000" stroke-width="0.35">detection of calcium ion</text>
<line x1="326.5" y1="909.53" x2="329.3" y2="909.53" stroke="#555" stroke-width="1.2"/>
<text x="80.8" y="932.9" font-size="12.6" fill="#000" textLength="244.5" lengthAdjust="spacingAndGlyphs" stroke="#000" stroke-width="0.35">G−protein coupled glutamate receptor binding</text>
<line x1="326.5" y1="929.1" x2="329.3" y2="929.1" stroke="#555" stroke-width="1.2"/>
<text x="63.8" y="947.47" font-size="12.6" fill="#000" textLength="261.5" lengthAdjust="spacingAndGlyphs" stroke="#000" stroke-width="0.35">regulation of atrial cardiac muscle cell membrane</text>
<text x="253.06" y="959.27" font-size="12.6" fill="#000" textLength="72.24" lengthAdjust="spacingAndGlyphs" stroke="#000" stroke-width="0.35">repolarization</text>
<line x1="326.5" y1="948.67" x2="329.3" y2="948.67" stroke="#555" stroke-width="1.2"/>
<text x="57.79" y="972.04" font-size="12.6" fill="#000" textLength="267.51" lengthAdjust="spacingAndGlyphs" stroke="#000" stroke-width="0.35">atrial cardiac muscle cell membrane repolarization</text>
<line x1="326.5" y1="968.24" x2="329.3" y2="968.24" stroke="#555" stroke-width="1.2"/>
<text x="29.66" y="986.61" font-size="12.6" fill="#000" textLength="295.64" lengthAdjust="spacingAndGlyphs" stroke="#000" stroke-width="0.35">negative regulation of production of miRNAs involved in</text>
<text x="190.87" y="998.41" font-size="12.6" fill="#000" textLength="134.43" lengthAdjust="spacingAndGlyphs" stroke="#000" stroke-width="0.35">gene silencing by miRNA</text>
<line x1="326.5" y1="987.81" x2="329.3" y2="987.81" stroke="#555" stroke-width="1.2"/>
<text x="197.55" y="1011.18" font-size="12.6" fill="#000" textLength="127.75" lengthAdjust="spacingAndGlyphs" stroke="#000" stroke-width="0.35">salivary gland cavitation</text>
<line x1="326.5" y1="1007.38" x2="329.3" y2="1007.38" stroke="#555" stroke-width="1.2"/>
<text x="76.17" y="1030.75" font-size="12.6" fill="#000" textLength="249.13" lengthAdjust="spacingAndGlyphs" stroke="#000" stroke-width="0.35">histone demethylase activity (H3−K36 specific)</text>
<line x1="326.5" y1="1026.95" x2="329.3" y2="1026.95" stroke="#555" stroke-width="1.2"/>
<text x="211.59" y="1050.32" font-size="12.6" fill="#000" textLength="113.71" lengthAdjust="spacingAndGlyphs" stroke="#000" stroke-width="0.35">tube lumen cavitation</text>
<line x1="326.5" y1="1046.52" x2="329.3" y2="1046.52" stroke="#555" stroke-width="1.2"/>
<text x="273.82" y="1069.89" font-size="12.6" fill="#000" textLength="51.48" lengthAdjust="spacingAndGlyphs" stroke="#000" stroke-width="0.35">microfibril</text>
<line x1="326.5" y1="1066.09" x2="329.3" y2="1066.09" stroke="#555" stroke-width="1.2"/>
<text x="57.17" y="1089.46" font-size="12.6" fill="#000" textLength="268.13" lengthAdjust="spacingAndGlyphs" stroke="#000" stroke-width="0.35">positive regulation of T−helper 2 cell differentiation</text>
<line x1="326.5" y1="1085.66" x2="329.3" y2="1085.66" stroke="#555" stroke-width="1.2"/>
<text x="36.34" y="1104.03" font-size="12.6" fill="#000" textLength="288.96" lengthAdjust="spacingAndGlyphs" stroke="#000" stroke-width="0.35">regulation of production of small RNA involved in gene</text>
<text x="233.68" y="1115.83" font-size="12.6" fill="#000" textLength="91.62" lengthAdjust="spacingAndGlyphs" stroke="#000" stroke-width="0.35">silencing by RNA</text>
<line x1="326.5" y1="1105.23" x2="329.3" y2="1105.23" stroke="#555" stroke-width="1.2"/>
<rect x="329.3" y="722.2" width="111.3" height="394.6" fill="none" stroke="#7A7A7A" stroke-width="1.3"/>
<line x1="331.2" y1="1116.8" x2="331.2" y2="1119.3" stroke="#777" stroke-width="0.8"/>
<text x="331.2" y="1127.2" font-size="7.4" fill="#444" text-anchor="middle">14</text>
<line x1="352.68" y1="1116.8" x2="352.68" y2="1119.3" stroke="#777" stroke-width="0.8"/>
<text x="352.68" y="1127.2" font-size="7.4" fill="#444" text-anchor="middle">16</text>
<line x1="374.16" y1="1116.8" x2="374.16" y2="1119.3" stroke="#777" stroke-width="0.8"/>
<text x="374.16" y="1127.2" font-size="7.4" fill="#444" text-anchor="middle">18</text>
<line x1="395.64" y1="1116.8" x2="395.64" y2="1119.3" stroke="#777" stroke-width="0.8"/>
<text x="395.64" y="1127.2" font-size="7.4" fill="#444" text-anchor="middle">20</text>
<line x1="417.12" y1="1116.8" x2="417.12" y2="1119.3" stroke="#777" stroke-width="0.8"/>
<text x="417.12" y="1127.2" font-size="7.4" fill="#444" text-anchor="middle">22</text>
<line x1="438.6" y1="1116.8" x2="438.6" y2="1119.3" stroke="#777" stroke-width="0.8"/>
<text x="438.6" y="1127.2" font-size="7.4" fill="#444" text-anchor="middle">24</text>
<text x="348.4" y="1139.2" font-size="8.6" fill="#111" textLength="73.4" lengthAdjust="spacingAndGlyphs" stroke="#111" stroke-width="0.3">Ratio of enrichment</text>
<text x="445.6" y="736.2" font-size="8" fill="#111" textLength="49.4" lengthAdjust="spacingAndGlyphs" stroke="#111" stroke-width="0.25">Input number</text>
<ellipse cx="453.4" cy="749.9" rx="2.2" ry="2.38" fill="#000"/>
<text x="462.8" y="752.9" font-size="7.6" fill="#111" textLength="13.6" lengthAdjust="spacingAndGlyphs" stroke="#111" stroke-width="0.2">2.00</text>
<ellipse cx="453.4" cy="764.9" rx="4.6" ry="4.97" fill="#000"/>
<text x="462.8" y="767.9" font-size="7.6" fill="#111" textLength="13.6" lengthAdjust="spacingAndGlyphs" stroke="#111" stroke-width="0.2">2.25</text>
<ellipse cx="453.4" cy="780.1" rx="5.5" ry="5.94" fill="#000"/>
<text x="462.8" y="783.1" font-size="7.6" fill="#111" textLength="13.6" lengthAdjust="spacingAndGlyphs" stroke="#111" stroke-width="0.2">2.50</text>
<ellipse cx="453.4" cy="795.3" rx="6.2" ry="6.7" fill="#000"/>
<text x="462.8" y="798.3" font-size="7.6" fill="#111" textLength="13.6" lengthAdjust="spacingAndGlyphs" stroke="#111" stroke-width="0.2">2.75</text>
<ellipse cx="453.4" cy="810.3" rx="6.6" ry="7.13" fill="#000"/>
<text x="462.8" y="813.3" font-size="7.6" fill="#111" textLength="13.6" lengthAdjust="spacingAndGlyphs" stroke="#111" stroke-width="0.2">3.00</text>
<line x1="852.17" y1="725" x2="852.17" y2="1119.6" stroke="#E4E4E4" stroke-width="0.8" stroke-dasharray="3 1.5"/>
<line x1="869.3" y1="725" x2="869.3" y2="1119.6" stroke="#E4E4E4" stroke-width="0.8" stroke-dasharray="3 1.5"/>
<line x1="886.42" y1="725" x2="886.42" y2="1119.6" stroke="#E4E4E4" stroke-width="0.8" stroke-dasharray="3 1.5"/>
<line x1="903.55" y1="725" x2="903.55" y2="1119.6" stroke="#E4E4E4" stroke-width="0.8" stroke-dasharray="3 1.5"/>
<line x1="920.67" y1="725" x2="920.67" y2="1119.6" stroke="#E4E4E4" stroke-width="0.8" stroke-dasharray="3 1.5"/>
<line x1="937.8" y1="725" x2="937.8" y2="1119.6" stroke="#E4E4E4" stroke-width="0.8" stroke-dasharray="3 1.5"/>
<clipPath id="clipF"><rect x="840.9" y="725" width="100.2" height="394.6"/></clipPath>
<g clip-path="url(#clipF)">
<line x1="840.9" y1="736.5" x2="937.6" y2="736.5" stroke="#6E6E6E" stroke-width="1.3"/>
<ellipse cx="937.6" cy="736.5" rx="5" ry="5.6" fill="#EC6F68"/>
<line x1="840.9" y1="756.05" x2="937.6" y2="756.05" stroke="#6E6E6E" stroke-width="1.3"/>
<ellipse cx="937.6" cy="756.05" rx="5" ry="5.6" fill="#EC6F68"/>
<line x1="840.9" y1="775.6" x2="937.6" y2="775.6" stroke="#6E6E6E" stroke-width="1.3"/>
<ellipse cx="937.6" cy="775.6" rx="5" ry="5.6" fill="#EC6F68"/>
<line x1="840.9" y1="795.15" x2="937.6" y2="795.15" stroke="#6E6E6E" stroke-width="1.3"/>
<ellipse cx="937.6" cy="795.15" rx="5" ry="5.6" fill="#EC6F68"/>
<line x1="840.9" y1="814.7" x2="920.6" y2="814.7" stroke="#6E6E6E" stroke-width="1.3"/>
<ellipse cx="920.6" cy="814.7" rx="5" ry="5.6" fill="#EC6F68"/>
<line x1="840.9" y1="834.25" x2="920.6" y2="834.25" stroke="#6E6E6E" stroke-width="1.3"/>
<ellipse cx="920.6" cy="834.25" rx="5" ry="5.6" fill="#EC6F68"/>
<line x1="840.9" y1="853.8" x2="920.6" y2="853.8" stroke="#6E6E6E" stroke-width="1.3"/>
<ellipse cx="920.6" cy="853.8" rx="5" ry="5.6" fill="#EC6F68"/>
<line x1="840.9" y1="873.35" x2="888.1" y2="873.35" stroke="#6E6E6E" stroke-width="1.3"/>
<ellipse cx="888.1" cy="873.35" rx="5" ry="5.6" fill="#EC6F68"/>
<line x1="840.9" y1="892.9" x2="880.5" y2="892.9" stroke="#6E6E6E" stroke-width="1.3"/>
<ellipse cx="880.5" cy="892.9" rx="5" ry="5.6" fill="#EC6F68"/>
<line x1="840.9" y1="912.45" x2="874.2" y2="912.45" stroke="#6E6E6E" stroke-width="1.3"/>
<ellipse cx="874.2" cy="912.45" rx="5" ry="5.6" fill="#EC6F68"/>
<line x1="840.9" y1="932" x2="874.2" y2="932" stroke="#6E6E6E" stroke-width="1.3"/>
<ellipse cx="874.2" cy="932" rx="5" ry="5.6" fill="#EC6F68"/>
<line x1="840.9" y1="951.55" x2="874.2" y2="951.55" stroke="#6E6E6E" stroke-width="1.3"/>
<ellipse cx="874.2" cy="951.55" rx="5" ry="5.6" fill="#EC6F68"/>
<line x1="840.9" y1="971.1" x2="860.7" y2="971.1" stroke="#6E6E6E" stroke-width="1.3"/>
<ellipse cx="860.7" cy="971.1" rx="5" ry="5.6" fill="#EC6F68"/>
<line x1="840.9" y1="990.65" x2="850.8" y2="990.65" stroke="#6E6E6E" stroke-width="1.3"/>
<ellipse cx="850.8" cy="990.65" rx="5" ry="5.6" fill="#EC6F68"/>
<line x1="840.9" y1="1010.2" x2="850.8" y2="1010.2" stroke="#6E6E6E" stroke-width="1.3"/>
<ellipse cx="850.8" cy="1010.2" rx="5" ry="5.6" fill="#EC6F68"/>
<line x1="840.9" y1="1029.75" x2="848.6" y2="1029.75" stroke="#6E6E6E" stroke-width="1.3"/>
<ellipse cx="848.6" cy="1029.75" rx="5" ry="5.6" fill="#EC6F68"/>
<line x1="840.9" y1="1049.3" x2="848.6" y2="1049.3" stroke="#6E6E6E" stroke-width="1.3"/>
<ellipse cx="848.6" cy="1049.3" rx="5" ry="5.6" fill="#EC6F68"/>
<line x1="840.9" y1="1068.85" x2="848.6" y2="1068.85" stroke="#6E6E6E" stroke-width="1.3"/>
<ellipse cx="848.6" cy="1068.85" rx="5" ry="5.6" fill="#EC6F68"/>
<line x1="840.9" y1="1088.4" x2="846.3" y2="1088.4" stroke="#6E6E6E" stroke-width="1.3"/>
<ellipse cx="846.3" cy="1088.4" rx="5" ry="5.6" fill="#EC6F68"/>
<line x1="840.9" y1="1107.95" x2="846.3" y2="1107.95" stroke="#6E6E6E" stroke-width="1.3"/>
<ellipse cx="846.3" cy="1107.95" rx="5" ry="5.6" fill="#EC6F68"/>
</g>
<text x="672.3" y="739.4" font-size="12.4" fill="#000" textLength="164.5" lengthAdjust="spacingAndGlyphs" stroke="#000" stroke-width="0.35">pyruvate dehydrogenase activity</text>
<line x1="839.1" y1="736.5" x2="840.9" y2="736.5" stroke="#555" stroke-width="1.2"/>
<text x="684.44" y="758.95" font-size="12.4" fill="#000" textLength="152.36" lengthAdjust="spacingAndGlyphs" stroke="#000" stroke-width="0.35">mannosyltransferase complex</text>
<line x1="839.1" y1="756.05" x2="840.9" y2="756.05" stroke="#555" stroke-width="1.2"/>
<text x="616.53" y="778.5" font-size="12.4" fill="#000" textLength="220.27" lengthAdjust="spacingAndGlyphs" stroke="#000" stroke-width="0.35">pyruvate dehydrogenase [NAD(P)+] activity</text>
<line x1="839.1" y1="775.6" x2="840.9" y2="775.6" stroke="#555" stroke-width="1.2"/>
<text x="630.56" y="798.05" font-size="12.4" fill="#000" textLength="206.24" lengthAdjust="spacingAndGlyphs" stroke="#000" stroke-width="0.35">pyruvate dehydrogenase (NAD+) activity</text>
<line x1="839.1" y1="795.15" x2="840.9" y2="795.15" stroke="#555" stroke-width="1.2"/>
<text x="526.64" y="817.6" font-size="12.4" fill="#000" textLength="310.16" lengthAdjust="spacingAndGlyphs" stroke="#000" stroke-width="0.35">mitochondrial acetyl−CoA biosynthetic process from pyruvate</text>
<line x1="839.1" y1="814.7" x2="840.9" y2="814.7" stroke="#555" stroke-width="1.2"/>
<text x="699.33" y="837.15" font-size="12.4" fill="#000" textLength="137.47" lengthAdjust="spacingAndGlyphs" stroke="#000" stroke-width="0.35">Set1C/COMPASS complex</text>
<line x1="839.1" y1="834.25" x2="840.9" y2="834.25" stroke="#555" stroke-width="1.2"/>
<text x="664.64" y="856.7" font-size="12.4" fill="#000" textLength="172.16" lengthAdjust="spacingAndGlyphs" stroke="#000" stroke-width="0.35">pyruvate dehydrogenase complex</text>
<line x1="839.1" y1="853.8" x2="840.9" y2="853.8" stroke="#555" stroke-width="1.2"/>
<text x="748.18" y="876.25" font-size="12.4" fill="#000" textLength="88.62" lengthAdjust="spacingAndGlyphs" stroke="#000" stroke-width="0.35">lipid translocation</text>
<line x1="839.1" y1="873.35" x2="840.9" y2="873.35" stroke="#555" stroke-width="1.2"/>
<text x="598.05" y="895.8" font-size="12.4" fill="#000" textLength="238.75" lengthAdjust="spacingAndGlyphs" stroke="#000" stroke-width="0.35">acetyl−CoA biosynthetic process from pyruvate</text>
<line x1="839.1" y1="892.9" x2="840.9" y2="892.9" stroke="#555" stroke-width="1.2"/>
<text x="631.83" y="915.35" font-size="12.4" fill="#000" textLength="204.97" lengthAdjust="spacingAndGlyphs" stroke="#000" stroke-width="0.35">N−acetylglucosamine metabolic process</text>
<line x1="839.1" y1="912.45" x2="840.9" y2="912.45" stroke="#555" stroke-width="1.2"/>
<text x="708.66" y="934.9" font-size="12.4" fill="#000" textLength="128.14" lengthAdjust="spacingAndGlyphs" stroke="#000" stroke-width="0.35">Golgi cisterna membrane</text>
<line x1="839.1" y1="932" x2="840.9" y2="932" stroke="#555" stroke-width="1.2"/>
<text x="565.2" y="954.45" font-size="12.4" fill="#000" textLength="271.6" lengthAdjust="spacingAndGlyphs" stroke="#000" stroke-width="0.35">mitochondrial electron transport, NADH to ubiquinone</text>
<line x1="839.1" y1="951.55" x2="840.9" y2="951.55" stroke="#555" stroke-width="1.2"/>
<text x="671.35" y="974" font-size="12.4" fill="#000" textLength="165.45" lengthAdjust="spacingAndGlyphs" stroke="#000" stroke-width="0.35">acetyl−CoA biosynthetic process</text>
<line x1="839.1" y1="971.1" x2="840.9" y2="971.1" stroke="#555" stroke-width="1.2"/>
<text x="680.92" y="993.55" font-size="12.4" fill="#000" textLength="155.88" lengthAdjust="spacingAndGlyphs" stroke="#000" stroke-width="0.35">acyl−CoA biosynthetic process</text>
<line x1="839.1" y1="990.65" x2="840.9" y2="990.65" stroke="#555" stroke-width="1.2"/>
<text x="685.7" y="1013.1" font-size="12.4" fill="#000" textLength="151.1" lengthAdjust="spacingAndGlyphs" stroke="#000" stroke-width="0.35">thioester biosynthetic process</text>
<line x1="839.1" y1="1010.2" x2="840.9" y2="1010.2" stroke="#555" stroke-width="1.2"/>
<text x="556.91" y="1028.25" font-size="12.4" fill="#000" textLength="279.89" lengthAdjust="spacingAndGlyphs" stroke="#000" stroke-width="0.35">misfolded or incompletely synthesized protein catabolic</text>
<text x="796.64" y="1036.65" font-size="12.4" fill="#000" textLength="40.16" lengthAdjust="spacingAndGlyphs" stroke="#000" stroke-width="0.35">process</text>
<line x1="839.1" y1="1029.75" x2="840.9" y2="1029.75" stroke="#555" stroke-width="1.2"/>
<text x="762.84" y="1052.2" font-size="12.4" fill="#000" textLength="73.96" lengthAdjust="spacingAndGlyphs" stroke="#000" stroke-width="0.35">mannosylation</text>
<line x1="839.1" y1="1049.3" x2="840.9" y2="1049.3" stroke="#555" stroke-width="1.2"/>
<text x="724.58" y="1071.75" font-size="12.4" fill="#000" textLength="112.22" lengthAdjust="spacingAndGlyphs" stroke="#000" stroke-width="0.35">protein mannosylation</text>
<line x1="839.1" y1="1068.85" x2="840.9" y2="1068.85" stroke="#555" stroke-width="1.2"/>
<text x="699.72" y="1091.3" font-size="12.4" fill="#000" textLength="137.08" lengthAdjust="spacingAndGlyphs" stroke="#000" stroke-width="0.35">endothelial cell chemotaxis</text>
<line x1="839.1" y1="1088.4" x2="840.9" y2="1088.4" stroke="#555" stroke-width="1.2"/>
<text x="749.44" y="1110.85" font-size="12.4" fill="#000" textLength="87.36" lengthAdjust="spacingAndGlyphs" stroke="#000" stroke-width="0.35">mannose binding</text>
<line x1="839.1" y1="1107.95" x2="840.9" y2="1107.95" stroke="#555" stroke-width="1.2"/>
<rect x="840.9" y="725" width="100.2" height="394.6" fill="none" stroke="#7A7A7A" stroke-width="1.3"/>
<line x1="869.3" y1="1119.6" x2="869.3" y2="1122.1" stroke="#777" stroke-width="0.8"/>
<text x="869.3" y="1129.8" font-size="7.4" fill="#444" text-anchor="middle">20</text>
<line x1="903.55" y1="1119.6" x2="903.55" y2="1122.1" stroke="#777" stroke-width="0.8"/>
<text x="903.55" y="1129.8" font-size="7.4" fill="#444" text-anchor="middle">30</text>
<line x1="937.8" y1="1119.6" x2="937.8" y2="1122.1" stroke="#777" stroke-width="0.8"/>
<text x="937.8" y="1129.8" font-size="7.4" fill="#444" text-anchor="middle">40</text>
<text x="857.1" y="1141.6" font-size="8.2" fill="#111" textLength="68.6" lengthAdjust="spacingAndGlyphs" stroke="#111" stroke-width="0.3">Ratio of enrichment</text>
<text x="943.6" y="736.2" font-size="7.6" fill="#111" textLength="46.6" lengthAdjust="spacingAndGlyphs" stroke="#111" stroke-width="0.25">Input number</text>
<ellipse cx="950.6" cy="750.1" rx="4.9" ry="5.3" fill="#000"/>
<text x="959.5" y="752.8" font-size="7.2" fill="#111" stroke="#111" stroke-width="0.2">2</text>
<defs><radialGradient id="sph" cx="0.38" cy="0.32" r="0.72"><stop offset="0" stop-color="#fff" stop-opacity="0.7"/><stop offset="0.35" stop-color="#fff" stop-opacity="0.18"/><stop offset="0.8" stop-color="#000" stop-opacity="0"/><stop offset="1" stop-color="#000" stop-opacity="0.28"/></radialGradient></defs>
<line x1="50.6" y1="1280" x2="280" y2="1191.6" stroke="#111" stroke-width="1.3"/>
<line x1="50.6" y1="1389.7" x2="280" y2="1501.6" stroke="#111" stroke-width="1.3"/>
<rect x="279.8" y="1191.6" width="369.4" height="309.8" fill="#fff" stroke="#333" stroke-width="1.3"/>
<line x1="390.18" y1="1206.25" x2="455.38" y2="1227.85" stroke="#C2D43A" stroke-width="1"/>
<line x1="389.82" y1="1207.35" x2="455.02" y2="1228.95" stroke="#3A3A3A" stroke-width="0.72"/>
<line x1="390.11" y1="1206.24" x2="493.61" y2="1227.14" stroke="#C2D43A" stroke-width="1"/>
<line x1="389.89" y1="1207.36" x2="493.39" y2="1228.26" stroke="#3A3A3A" stroke-width="0.72"/>
<line x1="390.57" y1="1206.91" x2="377.17" y2="1278.11" stroke="#C2D43A" stroke-width="1"/>
<line x1="389.43" y1="1206.69" x2="376.03" y2="1277.89" stroke="#3A3A3A" stroke-width="0.72"/>
<line x1="390.56" y1="1206.66" x2="404.56" y2="1261.06" stroke="#C2D43A" stroke-width="1"/>
<line x1="389.44" y1="1206.94" x2="403.44" y2="1261.34" stroke="#3A3A3A" stroke-width="0.72"/>
<line x1="390.48" y1="1206.48" x2="438.98" y2="1280.28" stroke="#C2D43A" stroke-width="1"/>
<line x1="389.52" y1="1207.12" x2="438.02" y2="1280.92" stroke="#3A3A3A" stroke-width="0.72"/>
<line x1="390.37" y1="1206.36" x2="484.17" y2="1286.56" stroke="#C2D43A" stroke-width="1"/>
<line x1="389.63" y1="1207.24" x2="483.43" y2="1287.44" stroke="#3A3A3A" stroke-width="0.72"/>
<line x1="390.52" y1="1206.55" x2="450.52" y2="1330.35" stroke="#C2D43A" stroke-width="1"/>
<line x1="389.48" y1="1207.05" x2="449.48" y2="1330.85" stroke="#3A3A3A" stroke-width="0.72"/>
<line x1="390.49" y1="1206.5" x2="475.09" y2="1346.7" stroke="#C2D43A" stroke-width="1"/>
<line x1="389.51" y1="1207.1" x2="474.11" y2="1347.3" stroke="#3A3A3A" stroke-width="0.72"/>
<line x1="390.56" y1="1206.69" x2="425.76" y2="1384.69" stroke="#C2D43A" stroke-width="1"/>
<line x1="389.44" y1="1206.91" x2="424.64" y2="1384.91" stroke="#3A3A3A" stroke-width="0.72"/>
<line x1="390" y1="1206.8" x2="358.1" y2="1308.6" stroke="#C2D43A" stroke-width="1"/>
<line x1="390" y1="1206.8" x2="331.3" y2="1250" stroke="#C2D43A" stroke-width="1"/>
<line x1="331.2" y1="1249.43" x2="455.1" y2="1227.83" stroke="#C2D43A" stroke-width="1"/>
<line x1="331.4" y1="1250.57" x2="455.3" y2="1228.97" stroke="#CC4CC4" stroke-width="0.8"/>
<line x1="331.22" y1="1249.43" x2="493.42" y2="1227.13" stroke="#C2D43A" stroke-width="1"/>
<line x1="331.38" y1="1250.57" x2="493.58" y2="1228.27" stroke="#3A3A3A" stroke-width="0.72"/>
<line x1="331.39" y1="1249.43" x2="404.09" y2="1260.63" stroke="#C2D43A" stroke-width="1"/>
<line x1="331.21" y1="1250.57" x2="403.91" y2="1261.77" stroke="#CC4CC4" stroke-width="0.8"/>
<line x1="331.9" y1="1249.02" x2="377.2" y2="1277.02" stroke="#C2D43A" stroke-width="1"/>
<line x1="331.3" y1="1250" x2="376.6" y2="1278" stroke="#3A3A3A" stroke-width="0.72"/>
<line x1="330.7" y1="1250.98" x2="376" y2="1278.98" stroke="#40B8D8" stroke-width="0.8"/>
<line x1="331.87" y1="1250.07" x2="326.57" y2="1295.77" stroke="#C2D43A" stroke-width="1"/>
<line x1="330.73" y1="1249.93" x2="325.43" y2="1295.63" stroke="#3A3A3A" stroke-width="0.72"/>
<line x1="332.35" y1="1249.52" x2="359.15" y2="1308.12" stroke="#C2D43A" stroke-width="1"/>
<line x1="331.3" y1="1250" x2="358.1" y2="1308.6" stroke="#3A3A3A" stroke-width="0.72"/>
<line x1="330.25" y1="1250.48" x2="357.05" y2="1309.08" stroke="#CC4CC4" stroke-width="0.8"/>
<line x1="332.4" y1="1249.67" x2="368.5" y2="1370.47" stroke="#C2D43A" stroke-width="1"/>
<line x1="331.3" y1="1250" x2="367.4" y2="1370.8" stroke="#3A3A3A" stroke-width="0.72"/>
<line x1="330.2" y1="1250.33" x2="366.3" y2="1371.13" stroke="#CC4CC4" stroke-width="0.8"/>
<line x1="331.87" y1="1250.04" x2="322.17" y2="1407.54" stroke="#C2D43A" stroke-width="1"/>
<line x1="330.73" y1="1249.96" x2="321.03" y2="1407.46" stroke="#3A3A3A" stroke-width="0.72"/>
<line x1="331.95" y1="1249.05" x2="450.65" y2="1329.65" stroke="#C2D43A" stroke-width="1"/>
<line x1="331.3" y1="1250" x2="450" y2="1330.6" stroke="#3A3A3A" stroke-width="0.72"/>
<line x1="330.65" y1="1250.95" x2="449.35" y2="1331.55" stroke="#CC4CC4" stroke-width="0.8"/>
<line x1="332.27" y1="1248.57" x2="475.57" y2="1345.57" stroke="#C2D43A" stroke-width="1"/>
<line x1="331.62" y1="1249.52" x2="474.92" y2="1346.52" stroke="#3A3A3A" stroke-width="0.72"/>
<line x1="330.98" y1="1250.48" x2="474.28" y2="1347.48" stroke="#CC4CC4" stroke-width="0.8"/>
<line x1="330.33" y1="1251.43" x2="473.63" y2="1348.43" stroke="#40B8D8" stroke-width="0.8"/>
<line x1="331.57" y1="1248.88" x2="484.07" y2="1285.88" stroke="#C2D43A" stroke-width="1"/>
<line x1="331.3" y1="1250" x2="483.8" y2="1287" stroke="#CC4CC4" stroke-width="0.8"/>
<line x1="331.03" y1="1251.12" x2="483.53" y2="1288.12" stroke="#3A3A3A" stroke-width="0.72"/>
<line x1="331.46" y1="1249.45" x2="438.66" y2="1280.05" stroke="#C2D43A" stroke-width="1"/>
<line x1="331.14" y1="1250.55" x2="438.34" y2="1281.15" stroke="#3A3A3A" stroke-width="0.72"/>
<line x1="331.4" y1="1249.43" x2="549.3" y2="1286.53" stroke="#C2D43A" stroke-width="1"/>
<line x1="331.2" y1="1250.57" x2="549.1" y2="1287.67" stroke="#CC4CC4" stroke-width="0.8"/>
<line x1="331.3" y1="1250" x2="292.5" y2="1341" stroke="#C2D43A" stroke-width="1"/>
<line x1="332.12" y1="1249.19" x2="476.02" y2="1394.19" stroke="#C2D43A" stroke-width="1"/>
<line x1="331.3" y1="1250" x2="475.2" y2="1395" stroke="#3A3A3A" stroke-width="0.72"/>
<line x1="330.48" y1="1250.81" x2="474.38" y2="1395.81" stroke="#40B8D8" stroke-width="0.8"/>
<line x1="331.77" y1="1249.67" x2="425.67" y2="1384.47" stroke="#C2D43A" stroke-width="1"/>
<line x1="330.83" y1="1250.33" x2="424.73" y2="1385.13" stroke="#3A3A3A" stroke-width="0.72"/>
<line x1="360.9" y1="1229.9" x2="376.6" y2="1278" stroke="#3A3A3A" stroke-width="0.72"/>
<line x1="360.9" y1="1229.9" x2="331.3" y2="1250" stroke="#C2D43A" stroke-width="1"/>
<line x1="455.19" y1="1227.83" x2="493.49" y2="1227.13" stroke="#C2D43A" stroke-width="1"/>
<line x1="455.21" y1="1228.97" x2="493.51" y2="1228.27" stroke="#3A3A3A" stroke-width="0.72"/>
<line x1="455.82" y1="1229.37" x2="404.62" y2="1262.17" stroke="#C2D43A" stroke-width="1"/>
<line x1="455.2" y1="1228.4" x2="404" y2="1261.2" stroke="#3A3A3A" stroke-width="0.72"/>
<line x1="454.58" y1="1227.43" x2="403.38" y2="1260.23" stroke="#CC4CC4" stroke-width="0.8"/>
<line x1="455.75" y1="1228.58" x2="439.05" y2="1280.78" stroke="#C2D43A" stroke-width="1"/>
<line x1="454.65" y1="1228.22" x2="437.95" y2="1280.42" stroke="#3A3A3A" stroke-width="0.72"/>
<line x1="456.23" y1="1227.9" x2="484.83" y2="1286.5" stroke="#C2D43A" stroke-width="1"/>
<line x1="455.2" y1="1228.4" x2="483.8" y2="1287" stroke="#3A3A3A" stroke-width="0.72"/>
<line x1="454.17" y1="1228.9" x2="482.77" y2="1287.5" stroke="#CC4CC4" stroke-width="0.8"/>
<line x1="456.35" y1="1228.46" x2="451.15" y2="1330.66" stroke="#C2D43A" stroke-width="1"/>
<line x1="455.2" y1="1228.4" x2="450" y2="1330.6" stroke="#3A3A3A" stroke-width="0.72"/>
<line x1="454.05" y1="1228.34" x2="448.85" y2="1330.54" stroke="#CC4CC4" stroke-width="0.8"/>
<line x1="455.77" y1="1228.31" x2="475.17" y2="1346.91" stroke="#C2D43A" stroke-width="1"/>
<line x1="454.63" y1="1228.49" x2="474.03" y2="1347.09" stroke="#3A3A3A" stroke-width="0.72"/>
<line x1="455.51" y1="1228.89" x2="376.91" y2="1278.49" stroke="#C2D43A" stroke-width="1"/>
<line x1="454.89" y1="1227.91" x2="376.29" y2="1277.51" stroke="#3A3A3A" stroke-width="0.72"/>
<line x1="455.5" y1="1227.91" x2="549.5" y2="1286.61" stroke="#C2D43A" stroke-width="1"/>
<line x1="454.9" y1="1228.89" x2="548.9" y2="1287.59" stroke="#CC4CC4" stroke-width="0.8"/>
<line x1="455.2" y1="1228.4" x2="326" y2="1295.7" stroke="#C2D43A" stroke-width="1"/>
<line x1="494.07" y1="1227.79" x2="484.37" y2="1287.09" stroke="#C2D43A" stroke-width="1"/>
<line x1="492.93" y1="1227.61" x2="483.23" y2="1286.91" stroke="#3A3A3A" stroke-width="0.72"/>
<line x1="494.34" y1="1226.91" x2="550.04" y2="1286.31" stroke="#C2D43A" stroke-width="1"/>
<line x1="493.5" y1="1227.7" x2="549.2" y2="1287.1" stroke="#CC4CC4" stroke-width="0.8"/>
<line x1="492.66" y1="1228.49" x2="548.36" y2="1287.89" stroke="#3A3A3A" stroke-width="0.72"/>
<line x1="494.07" y1="1227.79" x2="475.17" y2="1347.09" stroke="#C2D43A" stroke-width="1"/>
<line x1="492.93" y1="1227.61" x2="474.03" y2="1346.91" stroke="#3A3A3A" stroke-width="0.72"/>
<line x1="493.73" y1="1228.23" x2="376.83" y2="1278.53" stroke="#C2D43A" stroke-width="1"/>
<line x1="493.27" y1="1227.17" x2="376.37" y2="1277.47" stroke="#3A3A3A" stroke-width="0.72"/>
<line x1="493.9" y1="1228.11" x2="438.9" y2="1281.01" stroke="#C2D43A" stroke-width="1"/>
<line x1="493.1" y1="1227.29" x2="438.1" y2="1280.19" stroke="#3A3A3A" stroke-width="0.72"/>
<line x1="494.03" y1="1227.92" x2="450.53" y2="1330.82" stroke="#C2D43A" stroke-width="1"/>
<line x1="492.97" y1="1227.48" x2="449.47" y2="1330.38" stroke="#3A3A3A" stroke-width="0.72"/>
<line x1="493.5" y1="1227.7" x2="358.1" y2="1308.6" stroke="#C2D43A" stroke-width="1"/>
<line x1="404.3" y1="1261.69" x2="376.9" y2="1278.49" stroke="#C2D43A" stroke-width="1"/>
<line x1="403.7" y1="1260.71" x2="376.3" y2="1277.51" stroke="#3A3A3A" stroke-width="0.72"/>
<line x1="404.28" y1="1260.7" x2="438.78" y2="1280.1" stroke="#C2D43A" stroke-width="1"/>
<line x1="403.72" y1="1261.7" x2="438.22" y2="1281.1" stroke="#3A3A3A" stroke-width="0.72"/>
<line x1="404.35" y1="1260.11" x2="484.15" y2="1285.91" stroke="#C2D43A" stroke-width="1"/>
<line x1="404" y1="1261.2" x2="483.8" y2="1287" stroke="#3A3A3A" stroke-width="0.72"/>
<line x1="403.65" y1="1262.29" x2="483.45" y2="1288.09" stroke="#CC4CC4" stroke-width="0.8"/>
<line x1="404.48" y1="1260.88" x2="450.48" y2="1330.28" stroke="#C2D43A" stroke-width="1"/>
<line x1="403.52" y1="1261.52" x2="449.52" y2="1330.92" stroke="#3A3A3A" stroke-width="0.72"/>
<line x1="404.89" y1="1260.47" x2="475.49" y2="1346.27" stroke="#C2D43A" stroke-width="1"/>
<line x1="404" y1="1261.2" x2="474.6" y2="1347" stroke="#3A3A3A" stroke-width="0.72"/>
<line x1="403.11" y1="1261.93" x2="473.71" y2="1347.73" stroke="#CC4CC4" stroke-width="0.8"/>
<line x1="404.23" y1="1261.73" x2="326.23" y2="1296.23" stroke="#C2D43A" stroke-width="1"/>
<line x1="403.77" y1="1260.67" x2="325.77" y2="1295.17" stroke="#3A3A3A" stroke-width="0.72"/>
<line x1="404.41" y1="1261.6" x2="358.51" y2="1309" stroke="#C2D43A" stroke-width="1"/>
<line x1="403.59" y1="1260.8" x2="357.69" y2="1308.2" stroke="#3A3A3A" stroke-width="0.72"/>
<line x1="404.57" y1="1261.1" x2="425.77" y2="1384.7" stroke="#C2D43A" stroke-width="1"/>
<line x1="403.43" y1="1261.3" x2="424.63" y2="1384.9" stroke="#3A3A3A" stroke-width="0.72"/>
<line x1="404" y1="1261.2" x2="367.4" y2="1370.8" stroke="#C2D43A" stroke-width="1"/>
<line x1="404.1" y1="1260.63" x2="549.3" y2="1286.53" stroke="#C2D43A" stroke-width="1"/>
<line x1="403.9" y1="1261.77" x2="549.1" y2="1287.67" stroke="#CC4CC4" stroke-width="0.8"/>
<line x1="376.62" y1="1277.43" x2="438.52" y2="1280.03" stroke="#C2D43A" stroke-width="1"/>
<line x1="376.58" y1="1278.57" x2="438.48" y2="1281.17" stroke="#3A3A3A" stroke-width="0.72"/>
<line x1="376.7" y1="1276.85" x2="483.9" y2="1285.85" stroke="#C2D43A" stroke-width="1"/>
<line x1="376.6" y1="1278" x2="483.8" y2="1287" stroke="#3A3A3A" stroke-width="0.72"/>
<line x1="376.5" y1="1279.15" x2="483.7" y2="1288.15" stroke="#CC4CC4" stroke-width="0.8"/>
<line x1="377.27" y1="1277.07" x2="450.67" y2="1329.67" stroke="#C2D43A" stroke-width="1"/>
<line x1="376.6" y1="1278" x2="450" y2="1330.6" stroke="#3A3A3A" stroke-width="0.72"/>
<line x1="375.93" y1="1278.93" x2="449.33" y2="1331.53" stroke="#3848B8" stroke-width="0.8"/>
<line x1="377.59" y1="1276.59" x2="475.59" y2="1345.59" stroke="#C2D43A" stroke-width="1"/>
<line x1="376.93" y1="1277.53" x2="474.93" y2="1346.53" stroke="#3A3A3A" stroke-width="0.72"/>
<line x1="376.27" y1="1278.47" x2="474.27" y2="1347.47" stroke="#CC4CC4" stroke-width="0.8"/>
<line x1="375.61" y1="1279.41" x2="473.61" y2="1348.41" stroke="#40B8D8" stroke-width="0.8"/>
<line x1="376.79" y1="1278.54" x2="326.19" y2="1296.24" stroke="#C2D43A" stroke-width="1"/>
<line x1="376.41" y1="1277.46" x2="325.81" y2="1295.16" stroke="#3A3A3A" stroke-width="0.72"/>
<line x1="377.58" y1="1278.59" x2="359.08" y2="1309.19" stroke="#C2D43A" stroke-width="1"/>
<line x1="376.6" y1="1278" x2="358.1" y2="1308.6" stroke="#3A3A3A" stroke-width="0.72"/>
<line x1="375.62" y1="1277.41" x2="357.12" y2="1308.01" stroke="#CC4CC4" stroke-width="0.8"/>
<line x1="377.74" y1="1278.11" x2="368.54" y2="1370.91" stroke="#C2D43A" stroke-width="1"/>
<line x1="376.6" y1="1278" x2="367.4" y2="1370.8" stroke="#3A3A3A" stroke-width="0.72"/>
<line x1="375.46" y1="1277.89" x2="366.26" y2="1370.69" stroke="#CC4CC4" stroke-width="0.8"/>
<line x1="377.12" y1="1277.76" x2="425.72" y2="1384.56" stroke="#C2D43A" stroke-width="1"/>
<line x1="376.08" y1="1278.24" x2="424.68" y2="1385.04" stroke="#3A3A3A" stroke-width="0.72"/>
<line x1="377.48" y1="1277.26" x2="476.08" y2="1394.26" stroke="#C2D43A" stroke-width="1"/>
<line x1="376.6" y1="1278" x2="475.2" y2="1395" stroke="#3A3A3A" stroke-width="0.72"/>
<line x1="375.72" y1="1278.74" x2="474.32" y2="1395.74" stroke="#40B8D8" stroke-width="0.8"/>
<line x1="376.6" y1="1278" x2="321.6" y2="1407.5" stroke="#C2D43A" stroke-width="1"/>
<line x1="376.6" y1="1278" x2="398.1" y2="1486.7" stroke="#3A3A3A" stroke-width="0.72"/>
<line x1="376.97" y1="1277.56" x2="525.77" y2="1402.16" stroke="#C2D43A" stroke-width="1"/>
<line x1="376.23" y1="1278.44" x2="525.03" y2="1403.04" stroke="#3A3A3A" stroke-width="0.72"/>
<line x1="438.58" y1="1280.03" x2="483.88" y2="1286.43" stroke="#C2D43A" stroke-width="1"/>
<line x1="438.42" y1="1281.17" x2="483.72" y2="1287.57" stroke="#3A3A3A" stroke-width="0.72"/>
<line x1="439.06" y1="1280.47" x2="450.56" y2="1330.47" stroke="#C2D43A" stroke-width="1"/>
<line x1="437.94" y1="1280.73" x2="449.44" y2="1330.73" stroke="#3A3A3A" stroke-width="0.72"/>
<line x1="439.01" y1="1280.33" x2="475.11" y2="1346.73" stroke="#C2D43A" stroke-width="1"/>
<line x1="437.99" y1="1280.87" x2="474.09" y2="1347.27" stroke="#3A3A3A" stroke-width="0.72"/>
<line x1="438.58" y1="1281.17" x2="326.08" y2="1296.27" stroke="#C2D43A" stroke-width="1"/>
<line x1="438.42" y1="1280.03" x2="325.92" y2="1295.13" stroke="#3A3A3A" stroke-width="0.72"/>
<line x1="438.69" y1="1281.14" x2="358.29" y2="1309.14" stroke="#C2D43A" stroke-width="1"/>
<line x1="438.31" y1="1280.06" x2="357.91" y2="1308.06" stroke="#3A3A3A" stroke-width="0.72"/>
<line x1="439.07" y1="1280.67" x2="425.77" y2="1384.87" stroke="#C2D43A" stroke-width="1"/>
<line x1="437.93" y1="1280.53" x2="424.63" y2="1384.73" stroke="#3A3A3A" stroke-width="0.72"/>
<line x1="438.95" y1="1280.96" x2="367.85" y2="1371.16" stroke="#C2D43A" stroke-width="1"/>
<line x1="438.05" y1="1280.24" x2="366.95" y2="1370.44" stroke="#3A3A3A" stroke-width="0.72"/>
<line x1="483.8" y1="1286.43" x2="549.2" y2="1286.53" stroke="#C2D43A" stroke-width="1"/>
<line x1="483.8" y1="1287.57" x2="549.2" y2="1287.67" stroke="#CC4CC4" stroke-width="0.8"/>
<line x1="484.25" y1="1287.35" x2="450.45" y2="1330.95" stroke="#C2D43A" stroke-width="1"/>
<line x1="483.35" y1="1286.65" x2="449.55" y2="1330.25" stroke="#3A3A3A" stroke-width="0.72"/>
<line x1="484.94" y1="1287.17" x2="475.74" y2="1347.17" stroke="#C2D43A" stroke-width="1"/>
<line x1="483.8" y1="1287" x2="474.6" y2="1347" stroke="#3A3A3A" stroke-width="0.72"/>
<line x1="482.66" y1="1286.83" x2="473.46" y2="1346.83" stroke="#CC4CC4" stroke-width="0.8"/>
<line x1="483.86" y1="1288.15" x2="326.06" y2="1296.85" stroke="#C2D43A" stroke-width="1"/>
<line x1="483.8" y1="1287" x2="326" y2="1295.7" stroke="#3A3A3A" stroke-width="0.72"/>
<line x1="483.74" y1="1285.85" x2="325.94" y2="1294.55" stroke="#CC4CC4" stroke-width="0.8"/>
<line x1="483.9" y1="1287.57" x2="358.2" y2="1309.17" stroke="#C2D43A" stroke-width="1"/>
<line x1="483.7" y1="1286.43" x2="358" y2="1308.03" stroke="#3A3A3A" stroke-width="0.72"/>
<line x1="484.14" y1="1287.47" x2="367.74" y2="1371.27" stroke="#C2D43A" stroke-width="1"/>
<line x1="483.46" y1="1286.53" x2="367.06" y2="1370.33" stroke="#3A3A3A" stroke-width="0.72"/>
<line x1="484.29" y1="1287.3" x2="425.69" y2="1385.1" stroke="#C2D43A" stroke-width="1"/>
<line x1="483.31" y1="1286.7" x2="424.71" y2="1384.5" stroke="#3A3A3A" stroke-width="0.72"/>
<line x1="615.06" y1="1268.55" x2="549.36" y2="1287.65" stroke="#C2D43A" stroke-width="1"/>
<line x1="614.74" y1="1267.45" x2="549.04" y2="1286.55" stroke="#CC4CC4" stroke-width="0.8"/>
<line x1="614.98" y1="1268.57" x2="483.88" y2="1287.57" stroke="#C2D43A" stroke-width="1"/>
<line x1="614.82" y1="1267.43" x2="483.72" y2="1286.43" stroke="#CC4CC4" stroke-width="0.8"/>
<line x1="615.46" y1="1269" x2="475.16" y2="1348" stroke="#C2D43A" stroke-width="1"/>
<line x1="614.9" y1="1268" x2="474.6" y2="1347" stroke="#CC4CC4" stroke-width="0.8"/>
<line x1="614.34" y1="1267" x2="474.04" y2="1346" stroke="#3A3A3A" stroke-width="0.72"/>
<line x1="615.1" y1="1268.54" x2="450.2" y2="1331.14" stroke="#C2D43A" stroke-width="1"/>
<line x1="614.7" y1="1267.46" x2="449.8" y2="1330.06" stroke="#CC4CC4" stroke-width="0.8"/>
<line x1="549.92" y1="1288" x2="475.32" y2="1347.9" stroke="#C2D43A" stroke-width="1"/>
<line x1="549.2" y1="1287.1" x2="474.6" y2="1347" stroke="#CC4CC4" stroke-width="0.8"/>
<line x1="548.48" y1="1286.2" x2="473.88" y2="1346.1" stroke="#3A3A3A" stroke-width="0.72"/>
<line x1="549.22" y1="1287.67" x2="326.02" y2="1296.27" stroke="#C2D43A" stroke-width="1"/>
<line x1="549.18" y1="1286.53" x2="325.98" y2="1295.13" stroke="#CC4CC4" stroke-width="0.8"/>
<line x1="326.21" y1="1295.17" x2="358.31" y2="1308.07" stroke="#C2D43A" stroke-width="1"/>
<line x1="325.79" y1="1296.23" x2="357.89" y2="1309.13" stroke="#3A3A3A" stroke-width="0.72"/>
<line x1="326" y1="1295.7" x2="292.5" y2="1341" stroke="#C2D43A" stroke-width="1"/>
<line x1="326.57" y1="1295.72" x2="322.17" y2="1407.52" stroke="#C2D43A" stroke-width="1"/>
<line x1="325.43" y1="1295.68" x2="321.03" y2="1407.48" stroke="#3A3A3A" stroke-width="0.72"/>
<line x1="326.5" y1="1295.42" x2="367.9" y2="1370.52" stroke="#C2D43A" stroke-width="1"/>
<line x1="325.5" y1="1295.98" x2="366.9" y2="1371.08" stroke="#3A3A3A" stroke-width="0.72"/>
<line x1="326.16" y1="1295.15" x2="450.16" y2="1330.05" stroke="#C2D43A" stroke-width="1"/>
<line x1="325.84" y1="1296.25" x2="449.84" y2="1331.15" stroke="#3A3A3A" stroke-width="0.72"/>
<line x1="326.19" y1="1295.16" x2="474.79" y2="1346.46" stroke="#C2D43A" stroke-width="1"/>
<line x1="325.81" y1="1296.24" x2="474.41" y2="1347.54" stroke="#3A3A3A" stroke-width="0.72"/>
<line x1="326.38" y1="1295.27" x2="425.58" y2="1384.37" stroke="#C2D43A" stroke-width="1"/>
<line x1="325.62" y1="1296.13" x2="424.82" y2="1385.23" stroke="#3A3A3A" stroke-width="0.72"/>
<line x1="359.24" y1="1308.43" x2="368.54" y2="1370.63" stroke="#C2D43A" stroke-width="1"/>
<line x1="358.1" y1="1308.6" x2="367.4" y2="1370.8" stroke="#3A3A3A" stroke-width="0.72"/>
<line x1="356.96" y1="1308.77" x2="366.26" y2="1370.97" stroke="#CC4CC4" stroke-width="0.8"/>
<line x1="358.37" y1="1307.48" x2="450.27" y2="1329.48" stroke="#C2D43A" stroke-width="1"/>
<line x1="358.1" y1="1308.6" x2="450" y2="1330.6" stroke="#3A3A3A" stroke-width="0.72"/>
<line x1="357.83" y1="1309.72" x2="449.73" y2="1331.72" stroke="#3848B8" stroke-width="0.8"/>
<line x1="358.46" y1="1307.51" x2="474.96" y2="1345.91" stroke="#C2D43A" stroke-width="1"/>
<line x1="358.1" y1="1308.6" x2="474.6" y2="1347" stroke="#3A3A3A" stroke-width="0.72"/>
<line x1="357.74" y1="1309.69" x2="474.24" y2="1348.09" stroke="#CC4CC4" stroke-width="0.8"/>
<line x1="358.53" y1="1308.22" x2="425.63" y2="1384.42" stroke="#C2D43A" stroke-width="1"/>
<line x1="357.67" y1="1308.98" x2="424.77" y2="1385.18" stroke="#3A3A3A" stroke-width="0.72"/>
<line x1="358.64" y1="1308.8" x2="322.14" y2="1407.7" stroke="#C2D43A" stroke-width="1"/>
<line x1="357.56" y1="1308.4" x2="321.06" y2="1407.3" stroke="#3A3A3A" stroke-width="0.72"/>
<line x1="358.44" y1="1308.14" x2="475.54" y2="1394.54" stroke="#C2D43A" stroke-width="1"/>
<line x1="357.76" y1="1309.06" x2="474.86" y2="1395.46" stroke="#3A3A3A" stroke-width="0.72"/>
<line x1="358.38" y1="1308.1" x2="525.68" y2="1402.1" stroke="#C2D43A" stroke-width="1"/>
<line x1="357.82" y1="1309.1" x2="525.12" y2="1403.1" stroke="#3A3A3A" stroke-width="0.72"/>
<line x1="292.71" y1="1340.47" x2="367.61" y2="1370.27" stroke="#C2D43A" stroke-width="1"/>
<line x1="292.29" y1="1341.53" x2="367.19" y2="1371.33" stroke="#CC4CC4" stroke-width="0.8"/>
<line x1="292.5" y1="1341" x2="474.6" y2="1347" stroke="#C2D43A" stroke-width="1"/>
<line x1="450.64" y1="1329.64" x2="475.24" y2="1346.04" stroke="#C2D43A" stroke-width="1"/>
<line x1="450" y1="1330.6" x2="474.6" y2="1347" stroke="#3A3A3A" stroke-width="0.72"/>
<line x1="449.36" y1="1331.56" x2="473.96" y2="1347.96" stroke="#CC4CC4" stroke-width="0.8"/>
<line x1="450.25" y1="1331.12" x2="367.65" y2="1371.32" stroke="#C2D43A" stroke-width="1"/>
<line x1="449.75" y1="1330.08" x2="367.15" y2="1370.28" stroke="#3A3A3A" stroke-width="0.72"/>
<line x1="450.52" y1="1330.84" x2="425.72" y2="1385.04" stroke="#C2D43A" stroke-width="1"/>
<line x1="449.48" y1="1330.36" x2="424.68" y2="1384.56" stroke="#3A3A3A" stroke-width="0.72"/>
<line x1="451.07" y1="1330.18" x2="476.27" y2="1394.58" stroke="#C2D43A" stroke-width="1"/>
<line x1="450" y1="1330.6" x2="475.2" y2="1395" stroke="#3A3A3A" stroke-width="0.72"/>
<line x1="448.93" y1="1331.02" x2="474.13" y2="1395.42" stroke="#40B8D8" stroke-width="0.8"/>
<line x1="450.4" y1="1330.18" x2="525.8" y2="1402.18" stroke="#C2D43A" stroke-width="1"/>
<line x1="449.6" y1="1331.02" x2="525" y2="1403.02" stroke="#3A3A3A" stroke-width="0.72"/>
<line x1="450.3" y1="1331.09" x2="321.9" y2="1407.99" stroke="#C2D43A" stroke-width="1"/>
<line x1="449.7" y1="1330.11" x2="321.3" y2="1407.01" stroke="#3A3A3A" stroke-width="0.72"/>
<line x1="474.85" y1="1348.12" x2="367.65" y2="1371.92" stroke="#C2D43A" stroke-width="1"/>
<line x1="474.6" y1="1347" x2="367.4" y2="1370.8" stroke="#3A3A3A" stroke-width="0.72"/>
<line x1="474.35" y1="1345.88" x2="367.15" y2="1369.68" stroke="#CC4CC4" stroke-width="0.8"/>
<line x1="474.95" y1="1347.46" x2="425.55" y2="1385.26" stroke="#C2D43A" stroke-width="1"/>
<line x1="474.25" y1="1346.54" x2="424.85" y2="1384.34" stroke="#3A3A3A" stroke-width="0.72"/>
<line x1="475.17" y1="1346.99" x2="475.77" y2="1394.99" stroke="#C2D43A" stroke-width="1"/>
<line x1="474.03" y1="1347.01" x2="474.63" y2="1395.01" stroke="#3A3A3A" stroke-width="0.72"/>
<line x1="475.87" y1="1345.84" x2="526.67" y2="1401.44" stroke="#C2D43A" stroke-width="1"/>
<line x1="475.02" y1="1346.61" x2="525.82" y2="1402.21" stroke="#3A3A3A" stroke-width="0.72"/>
<line x1="474.18" y1="1347.39" x2="524.98" y2="1402.99" stroke="#CC4CC4" stroke-width="0.8"/>
<line x1="473.33" y1="1348.16" x2="524.13" y2="1403.76" stroke="#40B8D8" stroke-width="0.8"/>
<line x1="474.81" y1="1347.53" x2="321.81" y2="1408.03" stroke="#C2D43A" stroke-width="1"/>
<line x1="474.39" y1="1346.47" x2="321.39" y2="1406.97" stroke="#CC4CC4" stroke-width="0.8"/>
<line x1="474.6" y1="1347" x2="507.9" y2="1466" stroke="#C2D43A" stroke-width="1"/>
<line x1="474.6" y1="1347" x2="398.1" y2="1486.7" stroke="#3A3A3A" stroke-width="0.72"/>
<line x1="367.54" y1="1370.24" x2="425.34" y2="1384.24" stroke="#C2D43A" stroke-width="1"/>
<line x1="367.26" y1="1371.36" x2="425.06" y2="1385.36" stroke="#3A3A3A" stroke-width="0.72"/>
<line x1="367.76" y1="1371.25" x2="321.96" y2="1407.95" stroke="#C2D43A" stroke-width="1"/>
<line x1="367.04" y1="1370.35" x2="321.24" y2="1407.05" stroke="#3A3A3A" stroke-width="0.72"/>
<line x1="367.53" y1="1370.24" x2="475.33" y2="1394.44" stroke="#C2D43A" stroke-width="1"/>
<line x1="367.27" y1="1371.36" x2="475.07" y2="1395.56" stroke="#3A3A3A" stroke-width="0.72"/>
<line x1="425.31" y1="1384.24" x2="475.31" y2="1394.44" stroke="#C2D43A" stroke-width="1"/>
<line x1="425.09" y1="1385.36" x2="475.09" y2="1395.56" stroke="#3A3A3A" stroke-width="0.72"/>
<line x1="425.3" y1="1384.23" x2="525.5" y2="1402.03" stroke="#C2D43A" stroke-width="1"/>
<line x1="425.1" y1="1385.37" x2="525.3" y2="1403.17" stroke="#3A3A3A" stroke-width="0.72"/>
<line x1="475.37" y1="1393.86" x2="525.57" y2="1401.46" stroke="#C2D43A" stroke-width="1"/>
<line x1="475.2" y1="1395" x2="525.4" y2="1402.6" stroke="#3A3A3A" stroke-width="0.72"/>
<line x1="475.03" y1="1396.14" x2="525.23" y2="1403.74" stroke="#40B8D8" stroke-width="0.8"/>
<line x1="475.2" y1="1395" x2="507.9" y2="1466" stroke="#C2D43A" stroke-width="1"/>
<ellipse cx="390" cy="1206.8" rx="9.4" ry="9.4" fill="#D8B4A8" stroke="#555" stroke-opacity="0.55" stroke-width="0.8"/>
<ellipse cx="390" cy="1206.8" rx="9.4" ry="9.4" fill="url(#sph)"/>
<ellipse cx="360.9" cy="1229.9" rx="9.4" ry="9.4" fill="#8C88CC" stroke="#555" stroke-opacity="0.55" stroke-width="0.8"/>
<ellipse cx="360.9" cy="1229.9" rx="9.4" ry="9.4" fill="url(#sph)"/>
<ellipse cx="331.3" cy="1250" rx="9.4" ry="9.4" fill="#84C8AC" stroke="#555" stroke-opacity="0.55" stroke-width="0.8"/>
<ellipse cx="331.3" cy="1250" rx="9.4" ry="9.4" fill="url(#sph)"/>
<ellipse cx="455.2" cy="1228.4" rx="9.4" ry="9.4" fill="#DDB3AA" stroke="#555" stroke-opacity="0.55" stroke-width="0.8"/>
<ellipse cx="455.2" cy="1228.4" rx="9.4" ry="9.4" fill="url(#sph)"/>
<ellipse cx="493.5" cy="1227.7" rx="9.4" ry="9.4" fill="#E2E0B0" stroke="#555" stroke-opacity="0.55" stroke-width="0.8"/>
<ellipse cx="493.5" cy="1227.7" rx="9.4" ry="9.4" fill="url(#sph)"/>
<ellipse cx="404" cy="1261.2" rx="9.4" ry="9.4" fill="#DCA4AC" stroke="#555" stroke-opacity="0.55" stroke-width="0.8"/>
<ellipse cx="404" cy="1261.2" rx="9.4" ry="9.4" fill="url(#sph)"/>
<ellipse cx="376.6" cy="1278" rx="9.4" ry="9.4" fill="#4A48AE" stroke="#555" stroke-opacity="0.55" stroke-width="0.8"/>
<ellipse cx="376.6" cy="1278" rx="9.4" ry="9.4" fill="url(#sph)"/>
<ellipse cx="438.5" cy="1280.6" rx="9.4" ry="9.4" fill="#7CCACA" stroke="#555" stroke-opacity="0.55" stroke-width="0.8"/>
<ellipse cx="438.5" cy="1280.6" rx="9.4" ry="9.4" fill="url(#sph)"/>
<ellipse cx="483.8" cy="1287" rx="9.4" ry="9.4" fill="#E8BCA4" stroke="#555" stroke-opacity="0.55" stroke-width="0.8"/>
<ellipse cx="483.8" cy="1287" rx="9.4" ry="9.4" fill="url(#sph)"/>
<ellipse cx="558.7" cy="1267.2" rx="9.4" ry="9.4" fill="#58B4B4" stroke="#555" stroke-opacity="0.55" stroke-width="0.8"/>
<ellipse cx="558.7" cy="1267.2" rx="9.4" ry="9.4" fill="url(#sph)"/>
<ellipse cx="614.9" cy="1268" rx="9.4" ry="9.4" fill="#98AEDA" stroke="#555" stroke-opacity="0.55" stroke-width="0.8"/>
<ellipse cx="614.9" cy="1268" rx="9.4" ry="9.4" fill="url(#sph)"/>
<ellipse cx="549.2" cy="1287.1" rx="9.4" ry="9.4" fill="#8696CC" stroke="#555" stroke-opacity="0.55" stroke-width="0.8"/>
<ellipse cx="549.2" cy="1287.1" rx="9.4" ry="9.4" fill="url(#sph)"/>
<ellipse cx="326" cy="1295.7" rx="9.4" ry="9.4" fill="#DCDCA8" stroke="#555" stroke-opacity="0.55" stroke-width="0.8"/>
<ellipse cx="326" cy="1295.7" rx="9.4" ry="9.4" fill="url(#sph)"/>
<ellipse cx="358.1" cy="1308.6" rx="9.4" ry="9.4" fill="#92D0AC" stroke="#555" stroke-opacity="0.55" stroke-width="0.8"/>
<ellipse cx="358.1" cy="1308.6" rx="9.4" ry="9.4" fill="url(#sph)"/>
<ellipse cx="292.5" cy="1341" rx="9.4" ry="9.4" fill="#98AEDA" stroke="#555" stroke-opacity="0.55" stroke-width="0.8"/>
<ellipse cx="292.5" cy="1341" rx="9.4" ry="9.4" fill="url(#sph)"/>
<ellipse cx="450" cy="1330.6" rx="9.4" ry="9.4" fill="#DCACAE" stroke="#555" stroke-opacity="0.55" stroke-width="0.8"/>
<ellipse cx="450" cy="1330.6" rx="9.4" ry="9.4" fill="url(#sph)"/>
<ellipse cx="474.6" cy="1347" rx="9.4" ry="9.4" fill="#E0E0B8" stroke="#555" stroke-opacity="0.55" stroke-width="0.8"/>
<ellipse cx="474.6" cy="1347" rx="9.4" ry="9.4" fill="url(#sph)"/>
<ellipse cx="367.4" cy="1370.8" rx="9.4" ry="9.4" fill="#DCACAC" stroke="#555" stroke-opacity="0.55" stroke-width="0.8"/>
<ellipse cx="367.4" cy="1370.8" rx="9.4" ry="9.4" fill="url(#sph)"/>
<ellipse cx="425.2" cy="1384.8" rx="9.4" ry="9.4" fill="#8ECCA8" stroke="#555" stroke-opacity="0.55" stroke-width="0.8"/>
<ellipse cx="425.2" cy="1384.8" rx="9.4" ry="9.4" fill="url(#sph)"/>
<ellipse cx="475.2" cy="1395" rx="9.4" ry="9.4" fill="#6AAED0" stroke="#555" stroke-opacity="0.55" stroke-width="0.8"/>
<ellipse cx="475.2" cy="1395" rx="9.4" ry="9.4" fill="url(#sph)"/>
<ellipse cx="525.4" cy="1402.6" rx="9.4" ry="9.4" fill="#CCDCA4" stroke="#555" stroke-opacity="0.55" stroke-width="0.8"/>
<ellipse cx="525.4" cy="1402.6" rx="9.4" ry="9.4" fill="url(#sph)"/>
<ellipse cx="321.6" cy="1407.5" rx="9.4" ry="9.4" fill="#80C8B4" stroke="#555" stroke-opacity="0.55" stroke-width="0.8"/>
<ellipse cx="321.6" cy="1407.5" rx="9.4" ry="9.4" fill="url(#sph)"/>
<ellipse cx="383.6" cy="1416.3" rx="9.4" ry="9.4" fill="#88CC98" stroke="#555" stroke-opacity="0.55" stroke-width="0.8"/>
<ellipse cx="383.6" cy="1416.3" rx="9.4" ry="9.4" fill="url(#sph)"/>
<ellipse cx="466.9" cy="1439.3" rx="9.4" ry="9.4" fill="#C8A678" stroke="#555" stroke-opacity="0.55" stroke-width="0.8"/>
<ellipse cx="466.9" cy="1439.3" rx="9.4" ry="9.4" fill="url(#sph)"/>
<ellipse cx="375.9" cy="1445" rx="9.4" ry="9.4" fill="#84CCC4" stroke="#555" stroke-opacity="0.55" stroke-width="0.8"/>
<ellipse cx="375.9" cy="1445" rx="9.4" ry="9.4" fill="url(#sph)"/>
<ellipse cx="376.3" cy="1468.7" rx="9.4" ry="9.4" fill="#80C8B0" stroke="#555" stroke-opacity="0.55" stroke-width="0.8"/>
<ellipse cx="376.3" cy="1468.7" rx="9.4" ry="9.4" fill="url(#sph)"/>
<ellipse cx="507.9" cy="1466" rx="9.4" ry="9.4" fill="#84CCD4" stroke="#555" stroke-opacity="0.55" stroke-width="0.8"/>
<ellipse cx="507.9" cy="1466" rx="9.4" ry="9.4" fill="url(#sph)"/>
<ellipse cx="398.1" cy="1486.7" rx="9.4" ry="9.4" fill="#8CCCA4" stroke="#555" stroke-opacity="0.55" stroke-width="0.8"/>
<ellipse cx="398.1" cy="1486.7" rx="9.4" ry="9.4" fill="url(#sph)"/>
<text x="398" y="1199" font-size="5.8" font-weight="bold" fill="#333" stroke="#fff" stroke-width="1.2" stroke-opacity="0.6" paint-order="stroke">DEPDC1B</text>
<text x="370.2" y="1221" font-size="5.8" font-weight="bold" fill="#333" stroke="#fff" stroke-width="1.2" stroke-opacity="0.6" paint-order="stroke">CEP128</text>
<text x="463.1" y="1220" font-size="5.8" font-weight="bold" fill="#333" stroke="#fff" stroke-width="1.2" stroke-opacity="0.6" paint-order="stroke">ATAD2</text>
<text x="503.3" y="1219" font-size="5.8" font-weight="bold" fill="#333" stroke="#fff" stroke-width="1.2" stroke-opacity="0.6" paint-order="stroke">CDCA7</text>
<text x="340.7" y="1241.2" font-size="5.8" font-weight="bold" fill="#333" stroke="#fff" stroke-width="1.2" stroke-opacity="0.6" paint-order="stroke">KIF2C</text>
<text x="413.4" y="1252.7" font-size="5.8" font-weight="bold" fill="#333" stroke="#fff" stroke-width="1.2" stroke-opacity="0.6" paint-order="stroke">ASF1B</text>
<text x="379" y="1268.7" font-size="5.8" font-weight="bold" fill="#333" stroke="#fff" stroke-width="1.2" stroke-opacity="0.6" paint-order="stroke">NDC80</text>
<text x="446.7" y="1271.8" font-size="5.8" font-weight="bold" fill="#333" stroke="#fff" stroke-width="1.2" stroke-opacity="0.6" paint-order="stroke">HMMR</text>
<text x="493.7" y="1278.7" font-size="5.8" font-weight="bold" fill="#333" stroke="#fff" stroke-width="1.2" stroke-opacity="0.6" paint-order="stroke">CDC6</text>
<text x="557.6" y="1278.7" font-size="5.8" font-weight="bold" fill="#333" stroke="#fff" stroke-width="1.2" stroke-opacity="0.6" paint-order="stroke">CCNE2</text>
<text x="623.7" y="1259.5" font-size="5.8" font-weight="bold" fill="#333" stroke="#fff" stroke-width="1.2" stroke-opacity="0.6" paint-order="stroke">CDKN2A</text>
<text x="335" y="1285.5" font-size="5.8" font-weight="bold" fill="#333" stroke="#fff" stroke-width="1.2" stroke-opacity="0.6" paint-order="stroke">CLSPN</text>
<text x="367.5" y="1299.3" font-size="5.8" font-weight="bold" fill="#333" stroke="#fff" stroke-width="1.2" stroke-opacity="0.6" paint-order="stroke">NEK2</text>
<text x="300.6" y="1331.8" font-size="5.8" font-weight="bold" fill="#333" stroke="#fff" stroke-width="1.2" stroke-opacity="0.6" paint-order="stroke">FIGNL1</text>
<text x="459.3" y="1322.3" font-size="5.8" font-weight="bold" fill="#333" stroke="#fff" stroke-width="1.2" stroke-opacity="0.6" paint-order="stroke">CENPE</text>
<text x="482.2" y="1337.9" font-size="5.8" font-weight="bold" fill="#333" stroke="#fff" stroke-width="1.2" stroke-opacity="0.6" paint-order="stroke">AURKB</text>
<text x="377.1" y="1360.5" font-size="5.8" font-weight="bold" fill="#333" stroke="#fff" stroke-width="1.2" stroke-opacity="0.6" paint-order="stroke">SGOL1</text>
<text x="433.7" y="1375.8" font-size="5.8" font-weight="bold" fill="#333" stroke="#fff" stroke-width="1.2" stroke-opacity="0.6" paint-order="stroke">KIF14</text>
<text x="483.4" y="1387.3" font-size="5.8" font-weight="bold" fill="#333" stroke="#fff" stroke-width="1.2" stroke-opacity="0.6" paint-order="stroke">NCAPG2</text>
<text x="533.9" y="1393.4" font-size="5.8" font-weight="bold" fill="#333" stroke="#fff" stroke-width="1.2" stroke-opacity="0.6" paint-order="stroke">NCAPD2</text>
<text x="330.4" y="1399.1" font-size="5.8" font-weight="bold" fill="#333" stroke="#fff" stroke-width="1.2" stroke-opacity="0.6" paint-order="stroke">MASTL</text>
<text x="391.6" y="1407.5" font-size="5.8" font-weight="bold" fill="#333" stroke="#fff" stroke-width="1.2" stroke-opacity="0.6" paint-order="stroke">TGM2</text>
<text x="475.7" y="1430.5" font-size="5.8" font-weight="bold" fill="#333" stroke="#fff" stroke-width="1.2" stroke-opacity="0.6" paint-order="stroke">ZNF428</text>
<text x="460.4" y="1452.3" font-size="5.8" font-weight="bold" fill="#333" stroke="#fff" stroke-width="1.2" stroke-opacity="0.6" paint-order="stroke">SEC16B</text>
<text x="384.7" y="1436.2" font-size="5.8" font-weight="bold" fill="#333" stroke="#fff" stroke-width="1.2" stroke-opacity="0.6" paint-order="stroke">ISG15</text>
<text x="384.7" y="1461" font-size="5.8" font-weight="bold" fill="#333" stroke="#fff" stroke-width="1.2" stroke-opacity="0.6" paint-order="stroke">SLC28A3</text>
<text x="516.7" y="1457.2" font-size="5.8" font-weight="bold" fill="#333" stroke="#fff" stroke-width="1.2" stroke-opacity="0.6" paint-order="stroke">WDR62</text>
<text x="404.6" y="1477.5" font-size="5.8" font-weight="bold" fill="#333" stroke="#fff" stroke-width="1.2" stroke-opacity="0.6" paint-order="stroke">FAM72A</text>
<line x1="83.74" y1="1284" x2="102.77" y2="1291.84" stroke="#C2D43A" stroke-width="0.5"/>
<line x1="83.6" y1="1284.33" x2="102.64" y2="1292.17" stroke="#3A3A3A" stroke-width="0.36"/>
<line x1="83.71" y1="1283.99" x2="113.93" y2="1291.58" stroke="#C2D43A" stroke-width="0.5"/>
<line x1="83.63" y1="1284.33" x2="113.85" y2="1291.92" stroke="#3A3A3A" stroke-width="0.36"/>
<line x1="83.84" y1="1284.19" x2="79.93" y2="1310.04" stroke="#C2D43A" stroke-width="0.5"/>
<line x1="83.5" y1="1284.14" x2="79.58" y2="1309.98" stroke="#3A3A3A" stroke-width="0.36"/>
<line x1="83.84" y1="1284.13" x2="87.93" y2="1303.88" stroke="#C2D43A" stroke-width="0.5"/>
<line x1="83.5" y1="1284.2" x2="87.59" y2="1303.95" stroke="#3A3A3A" stroke-width="0.36"/>
<line x1="83.82" y1="1284.08" x2="97.99" y2="1310.87" stroke="#C2D43A" stroke-width="0.5"/>
<line x1="83.51" y1="1284.25" x2="97.68" y2="1311.03" stroke="#3A3A3A" stroke-width="0.36"/>
<line x1="83.8" y1="1284.04" x2="111.19" y2="1313.16" stroke="#C2D43A" stroke-width="0.5"/>
<line x1="83.54" y1="1284.28" x2="110.93" y2="1313.4" stroke="#3A3A3A" stroke-width="0.36"/>
<line x1="83.83" y1="1284.1" x2="101.35" y2="1329.04" stroke="#C2D43A" stroke-width="0.5"/>
<line x1="83.51" y1="1284.23" x2="101.03" y2="1329.17" stroke="#3A3A3A" stroke-width="0.36"/>
<line x1="83.83" y1="1284.09" x2="108.53" y2="1334.98" stroke="#C2D43A" stroke-width="0.5"/>
<line x1="83.51" y1="1284.24" x2="108.22" y2="1335.13" stroke="#3A3A3A" stroke-width="0.36"/>
<line x1="83.84" y1="1284.14" x2="94.12" y2="1348.75" stroke="#C2D43A" stroke-width="0.5"/>
<line x1="83.5" y1="1284.19" x2="93.78" y2="1348.81" stroke="#3A3A3A" stroke-width="0.36"/>
<line x1="83.67" y1="1284.16" x2="74.35" y2="1321.12" stroke="#C2D43A" stroke-width="0.5"/>
<line x1="83.67" y1="1284.16" x2="66.53" y2="1299.85" stroke="#C2D43A" stroke-width="0.5"/>
<line x1="66.49" y1="1299.67" x2="102.67" y2="1291.83" stroke="#C2D43A" stroke-width="0.5"/>
<line x1="66.57" y1="1300.02" x2="102.75" y2="1292.18" stroke="#CC4CC4" stroke-width="0.4"/>
<line x1="66.5" y1="1299.67" x2="113.86" y2="1291.58" stroke="#C2D43A" stroke-width="0.5"/>
<line x1="66.56" y1="1300.02" x2="113.92" y2="1291.92" stroke="#3A3A3A" stroke-width="0.36"/>
<line x1="66.56" y1="1299.67" x2="87.79" y2="1303.74" stroke="#C2D43A" stroke-width="0.5"/>
<line x1="66.5" y1="1300.02" x2="87.72" y2="1304.08" stroke="#CC4CC4" stroke-width="0.4"/>
<line x1="66.74" y1="1299.57" x2="79.97" y2="1309.73" stroke="#C2D43A" stroke-width="0.5"/>
<line x1="66.53" y1="1299.85" x2="79.76" y2="1310.01" stroke="#3A3A3A" stroke-width="0.36"/>
<line x1="66.32" y1="1300.12" x2="79.54" y2="1310.29" stroke="#40B8D8" stroke-width="0.4"/>
<line x1="66.7" y1="1299.86" x2="65.16" y2="1316.45" stroke="#C2D43A" stroke-width="0.5"/>
<line x1="66.35" y1="1299.83" x2="64.81" y2="1316.42" stroke="#3A3A3A" stroke-width="0.36"/>
<line x1="66.86" y1="1299.72" x2="74.68" y2="1321" stroke="#C2D43A" stroke-width="0.5"/>
<line x1="66.53" y1="1299.85" x2="74.35" y2="1321.12" stroke="#3A3A3A" stroke-width="0.36"/>
<line x1="66.2" y1="1299.97" x2="74.03" y2="1321.24" stroke="#CC4CC4" stroke-width="0.4"/>
<line x1="66.87" y1="1299.76" x2="77.41" y2="1343.61" stroke="#C2D43A" stroke-width="0.5"/>
<line x1="66.53" y1="1299.85" x2="77.07" y2="1343.7" stroke="#3A3A3A" stroke-width="0.36"/>
<line x1="66.19" y1="1299.93" x2="76.73" y2="1343.78" stroke="#CC4CC4" stroke-width="0.4"/>
<line x1="66.7" y1="1299.85" x2="63.87" y2="1357.03" stroke="#C2D43A" stroke-width="0.5"/>
<line x1="66.35" y1="1299.84" x2="63.52" y2="1357.01" stroke="#3A3A3A" stroke-width="0.36"/>
<line x1="66.75" y1="1299.58" x2="101.42" y2="1328.84" stroke="#C2D43A" stroke-width="0.5"/>
<line x1="66.53" y1="1299.85" x2="101.19" y2="1329.1" stroke="#3A3A3A" stroke-width="0.36"/>
<line x1="66.3" y1="1300.11" x2="100.96" y2="1329.37" stroke="#CC4CC4" stroke-width="0.4"/>
<line x1="66.87" y1="1299.44" x2="108.71" y2="1334.65" stroke="#C2D43A" stroke-width="0.5"/>
<line x1="66.64" y1="1299.71" x2="108.49" y2="1334.92" stroke="#3A3A3A" stroke-width="0.36"/>
<line x1="66.42" y1="1299.98" x2="108.26" y2="1335.19" stroke="#CC4CC4" stroke-width="0.4"/>
<line x1="66.19" y1="1300.25" x2="108.03" y2="1335.46" stroke="#40B8D8" stroke-width="0.4"/>
<line x1="66.63" y1="1299.51" x2="111.16" y2="1312.94" stroke="#C2D43A" stroke-width="0.5"/>
<line x1="66.53" y1="1299.85" x2="111.06" y2="1313.28" stroke="#CC4CC4" stroke-width="0.4"/>
<line x1="66.43" y1="1300.18" x2="110.96" y2="1313.61" stroke="#3A3A3A" stroke-width="0.36"/>
<line x1="66.59" y1="1299.68" x2="97.89" y2="1310.79" stroke="#C2D43A" stroke-width="0.5"/>
<line x1="66.47" y1="1300.01" x2="97.77" y2="1311.12" stroke="#3A3A3A" stroke-width="0.36"/>
<line x1="66.57" y1="1299.67" x2="130.19" y2="1313.14" stroke="#C2D43A" stroke-width="0.5"/>
<line x1="66.49" y1="1300.02" x2="130.12" y2="1313.48" stroke="#CC4CC4" stroke-width="0.4"/>
<line x1="66.53" y1="1299.85" x2="55.2" y2="1332.88" stroke="#C2D43A" stroke-width="0.5"/>
<line x1="66.8" y1="1299.63" x2="108.82" y2="1352.26" stroke="#C2D43A" stroke-width="0.5"/>
<line x1="66.53" y1="1299.85" x2="108.55" y2="1352.48" stroke="#3A3A3A" stroke-width="0.36"/>
<line x1="66.26" y1="1300.06" x2="108.27" y2="1352.7" stroke="#40B8D8" stroke-width="0.4"/>
<line x1="66.68" y1="1299.76" x2="94.1" y2="1348.69" stroke="#C2D43A" stroke-width="0.5"/>
<line x1="66.38" y1="1299.93" x2="93.8" y2="1348.86" stroke="#3A3A3A" stroke-width="0.36"/>
<line x1="75.17" y1="1292.55" x2="79.76" y2="1310.01" stroke="#3A3A3A" stroke-width="0.36"/>
<line x1="75.17" y1="1292.55" x2="66.53" y2="1299.85" stroke="#C2D43A" stroke-width="0.5"/>
<line x1="102.7" y1="1291.83" x2="113.89" y2="1291.58" stroke="#C2D43A" stroke-width="0.5"/>
<line x1="102.71" y1="1292.18" x2="113.9" y2="1291.93" stroke="#3A3A3A" stroke-width="0.36"/>
<line x1="102.93" y1="1292.28" x2="87.98" y2="1304.18" stroke="#C2D43A" stroke-width="0.5"/>
<line x1="102.71" y1="1292" x2="87.76" y2="1303.91" stroke="#3A3A3A" stroke-width="0.36"/>
<line x1="102.49" y1="1291.73" x2="87.54" y2="1303.64" stroke="#CC4CC4" stroke-width="0.4"/>
<line x1="102.88" y1="1292.05" x2="98" y2="1311" stroke="#C2D43A" stroke-width="0.5"/>
<line x1="102.54" y1="1291.96" x2="97.66" y2="1310.91" stroke="#3A3A3A" stroke-width="0.36"/>
<line x1="103.03" y1="1291.88" x2="111.38" y2="1313.15" stroke="#C2D43A" stroke-width="0.5"/>
<line x1="102.71" y1="1292" x2="111.06" y2="1313.28" stroke="#3A3A3A" stroke-width="0.36"/>
<line x1="102.38" y1="1292.13" x2="110.73" y2="1313.4" stroke="#CC4CC4" stroke-width="0.4"/>
<line x1="103.06" y1="1292.02" x2="101.54" y2="1329.12" stroke="#C2D43A" stroke-width="0.5"/>
<line x1="102.71" y1="1292" x2="101.19" y2="1329.1" stroke="#3A3A3A" stroke-width="0.36"/>
<line x1="102.36" y1="1291.99" x2="100.84" y2="1329.09" stroke="#CC4CC4" stroke-width="0.4"/>
<line x1="102.88" y1="1291.98" x2="108.55" y2="1335.03" stroke="#C2D43A" stroke-width="0.5"/>
<line x1="102.53" y1="1292.03" x2="108.2" y2="1335.08" stroke="#3A3A3A" stroke-width="0.36"/>
<line x1="102.82" y1="1292.14" x2="79.86" y2="1310.15" stroke="#C2D43A" stroke-width="0.5"/>
<line x1="102.6" y1="1291.87" x2="79.65" y2="1309.87" stroke="#3A3A3A" stroke-width="0.36"/>
<line x1="102.82" y1="1291.87" x2="130.26" y2="1313.17" stroke="#C2D43A" stroke-width="0.5"/>
<line x1="102.6" y1="1292.14" x2="130.05" y2="1313.45" stroke="#CC4CC4" stroke-width="0.4"/>
<line x1="102.71" y1="1292" x2="64.98" y2="1316.43" stroke="#C2D43A" stroke-width="0.5"/>
<line x1="114.07" y1="1291.77" x2="111.23" y2="1313.3" stroke="#C2D43A" stroke-width="0.5"/>
<line x1="113.72" y1="1291.73" x2="110.89" y2="1313.25" stroke="#3A3A3A" stroke-width="0.36"/>
<line x1="114.17" y1="1291.54" x2="130.44" y2="1313.1" stroke="#C2D43A" stroke-width="0.5"/>
<line x1="113.89" y1="1291.75" x2="130.16" y2="1313.31" stroke="#CC4CC4" stroke-width="0.4"/>
<line x1="113.61" y1="1291.96" x2="129.88" y2="1313.52" stroke="#3A3A3A" stroke-width="0.36"/>
<line x1="114.07" y1="1291.77" x2="108.55" y2="1335.08" stroke="#C2D43A" stroke-width="0.5"/>
<line x1="113.72" y1="1291.73" x2="108.2" y2="1335.03" stroke="#3A3A3A" stroke-width="0.36"/>
<line x1="113.97" y1="1291.9" x2="79.84" y2="1310.16" stroke="#C2D43A" stroke-width="0.5"/>
<line x1="113.81" y1="1291.6" x2="79.67" y2="1309.85" stroke="#3A3A3A" stroke-width="0.36"/>
<line x1="114.03" y1="1291.86" x2="97.97" y2="1311.07" stroke="#C2D43A" stroke-width="0.5"/>
<line x1="113.76" y1="1291.64" x2="97.7" y2="1310.84" stroke="#3A3A3A" stroke-width="0.36"/>
<line x1="114.06" y1="1291.81" x2="101.36" y2="1329.16" stroke="#C2D43A" stroke-width="0.5"/>
<line x1="113.73" y1="1291.69" x2="101.02" y2="1329.05" stroke="#3A3A3A" stroke-width="0.36"/>
<line x1="113.89" y1="1291.75" x2="74.35" y2="1321.12" stroke="#C2D43A" stroke-width="0.5"/>
<line x1="87.86" y1="1304.05" x2="79.86" y2="1310.15" stroke="#C2D43A" stroke-width="0.5"/>
<line x1="87.65" y1="1303.77" x2="79.65" y2="1309.87" stroke="#3A3A3A" stroke-width="0.36"/>
<line x1="87.86" y1="1303.77" x2="97.93" y2="1310.81" stroke="#C2D43A" stroke-width="0.5"/>
<line x1="87.66" y1="1304.05" x2="97.73" y2="1311.1" stroke="#3A3A3A" stroke-width="0.36"/>
<line x1="87.89" y1="1303.59" x2="111.19" y2="1312.95" stroke="#C2D43A" stroke-width="0.5"/>
<line x1="87.76" y1="1303.91" x2="111.06" y2="1313.28" stroke="#3A3A3A" stroke-width="0.36"/>
<line x1="87.63" y1="1304.24" x2="110.93" y2="1313.6" stroke="#CC4CC4" stroke-width="0.4"/>
<line x1="87.91" y1="1303.83" x2="101.34" y2="1329.02" stroke="#C2D43A" stroke-width="0.5"/>
<line x1="87.6" y1="1303.99" x2="101.04" y2="1329.19" stroke="#3A3A3A" stroke-width="0.36"/>
<line x1="88.05" y1="1303.72" x2="108.66" y2="1334.86" stroke="#C2D43A" stroke-width="0.5"/>
<line x1="87.76" y1="1303.91" x2="108.37" y2="1335.06" stroke="#3A3A3A" stroke-width="0.36"/>
<line x1="87.47" y1="1304.1" x2="108.08" y2="1335.25" stroke="#CC4CC4" stroke-width="0.4"/>
<line x1="87.84" y1="1304.06" x2="65.07" y2="1316.59" stroke="#C2D43A" stroke-width="0.5"/>
<line x1="87.67" y1="1303.76" x2="64.9" y2="1316.28" stroke="#3A3A3A" stroke-width="0.36"/>
<line x1="87.9" y1="1304.02" x2="74.49" y2="1321.22" stroke="#C2D43A" stroke-width="0.5"/>
<line x1="87.62" y1="1303.8" x2="74.22" y2="1321.01" stroke="#3A3A3A" stroke-width="0.36"/>
<line x1="87.93" y1="1303.89" x2="94.12" y2="1348.75" stroke="#C2D43A" stroke-width="0.5"/>
<line x1="87.58" y1="1303.93" x2="93.77" y2="1348.8" stroke="#3A3A3A" stroke-width="0.36"/>
<line x1="87.76" y1="1303.91" x2="77.07" y2="1343.7" stroke="#C2D43A" stroke-width="0.5"/>
<line x1="87.8" y1="1303.74" x2="130.19" y2="1313.14" stroke="#C2D43A" stroke-width="0.5"/>
<line x1="87.72" y1="1304.08" x2="130.12" y2="1313.48" stroke="#CC4CC4" stroke-width="0.4"/>
<line x1="79.77" y1="1309.83" x2="97.84" y2="1310.78" stroke="#C2D43A" stroke-width="0.5"/>
<line x1="79.75" y1="1310.18" x2="97.82" y2="1311.13" stroke="#3A3A3A" stroke-width="0.36"/>
<line x1="79.79" y1="1309.66" x2="111.1" y2="1312.93" stroke="#C2D43A" stroke-width="0.5"/>
<line x1="79.76" y1="1310.01" x2="111.06" y2="1313.28" stroke="#3A3A3A" stroke-width="0.36"/>
<line x1="79.72" y1="1310.36" x2="111.02" y2="1313.62" stroke="#CC4CC4" stroke-width="0.4"/>
<line x1="79.99" y1="1309.75" x2="101.42" y2="1328.84" stroke="#C2D43A" stroke-width="0.5"/>
<line x1="79.76" y1="1310.01" x2="101.19" y2="1329.1" stroke="#3A3A3A" stroke-width="0.36"/>
<line x1="79.52" y1="1310.27" x2="100.96" y2="1329.36" stroke="#3848B8" stroke-width="0.4"/>
<line x1="80.1" y1="1309.61" x2="108.72" y2="1334.66" stroke="#C2D43A" stroke-width="0.5"/>
<line x1="79.87" y1="1309.88" x2="108.49" y2="1334.92" stroke="#3A3A3A" stroke-width="0.36"/>
<line x1="79.64" y1="1310.14" x2="108.26" y2="1335.19" stroke="#CC4CC4" stroke-width="0.4"/>
<line x1="79.41" y1="1310.4" x2="108.03" y2="1335.45" stroke="#40B8D8" stroke-width="0.4"/>
<line x1="79.83" y1="1310.17" x2="65.05" y2="1316.59" stroke="#C2D43A" stroke-width="0.5"/>
<line x1="79.69" y1="1309.85" x2="64.91" y2="1316.27" stroke="#3A3A3A" stroke-width="0.36"/>
<line x1="80.07" y1="1310.16" x2="74.67" y2="1321.27" stroke="#C2D43A" stroke-width="0.5"/>
<line x1="79.76" y1="1310.01" x2="74.35" y2="1321.12" stroke="#3A3A3A" stroke-width="0.36"/>
<line x1="79.44" y1="1309.86" x2="74.04" y2="1320.96" stroke="#CC4CC4" stroke-width="0.4"/>
<line x1="80.11" y1="1310.04" x2="77.42" y2="1343.72" stroke="#C2D43A" stroke-width="0.5"/>
<line x1="79.76" y1="1310.01" x2="77.07" y2="1343.7" stroke="#3A3A3A" stroke-width="0.36"/>
<line x1="79.41" y1="1309.98" x2="76.72" y2="1343.67" stroke="#CC4CC4" stroke-width="0.4"/>
<line x1="79.92" y1="1309.95" x2="94.11" y2="1348.72" stroke="#C2D43A" stroke-width="0.5"/>
<line x1="79.59" y1="1310.07" x2="93.78" y2="1348.84" stroke="#3A3A3A" stroke-width="0.36"/>
<line x1="80.05" y1="1309.81" x2="108.84" y2="1352.28" stroke="#C2D43A" stroke-width="0.5"/>
<line x1="79.76" y1="1310.01" x2="108.55" y2="1352.48" stroke="#3A3A3A" stroke-width="0.36"/>
<line x1="79.47" y1="1310.21" x2="108.26" y2="1352.68" stroke="#40B8D8" stroke-width="0.4"/>
<line x1="79.76" y1="1310.01" x2="63.7" y2="1357.02" stroke="#C2D43A" stroke-width="0.5"/>
<line x1="79.76" y1="1310.01" x2="86.03" y2="1385.77" stroke="#3A3A3A" stroke-width="0.36"/>
<line x1="79.88" y1="1309.89" x2="123.33" y2="1355.12" stroke="#C2D43A" stroke-width="0.5"/>
<line x1="79.63" y1="1310.13" x2="123.08" y2="1355.36" stroke="#3A3A3A" stroke-width="0.36"/>
<line x1="97.86" y1="1310.78" x2="111.09" y2="1313.1" stroke="#C2D43A" stroke-width="0.5"/>
<line x1="97.8" y1="1311.13" x2="111.03" y2="1313.45" stroke="#3A3A3A" stroke-width="0.36"/>
<line x1="98" y1="1310.92" x2="101.36" y2="1329.07" stroke="#C2D43A" stroke-width="0.5"/>
<line x1="97.66" y1="1310.98" x2="101.02" y2="1329.13" stroke="#3A3A3A" stroke-width="0.36"/>
<line x1="97.99" y1="1310.88" x2="108.53" y2="1334.99" stroke="#C2D43A" stroke-width="0.5"/>
<line x1="97.67" y1="1311.02" x2="108.21" y2="1335.13" stroke="#3A3A3A" stroke-width="0.36"/>
<line x1="97.86" y1="1311.13" x2="65.01" y2="1316.61" stroke="#C2D43A" stroke-width="0.5"/>
<line x1="97.8" y1="1310.78" x2="64.95" y2="1316.26" stroke="#3A3A3A" stroke-width="0.36"/>
<line x1="97.9" y1="1311.11" x2="74.42" y2="1321.28" stroke="#C2D43A" stroke-width="0.5"/>
<line x1="97.76" y1="1310.79" x2="74.29" y2="1320.96" stroke="#3A3A3A" stroke-width="0.36"/>
<line x1="98.01" y1="1310.97" x2="94.12" y2="1348.8" stroke="#C2D43A" stroke-width="0.5"/>
<line x1="97.66" y1="1310.94" x2="93.77" y2="1348.76" stroke="#3A3A3A" stroke-width="0.36"/>
<line x1="97.98" y1="1311.05" x2="77.22" y2="1343.79" stroke="#C2D43A" stroke-width="0.5"/>
<line x1="97.68" y1="1310.86" x2="76.92" y2="1343.6" stroke="#3A3A3A" stroke-width="0.36"/>
<line x1="111.06" y1="1313.1" x2="130.16" y2="1313.14" stroke="#C2D43A" stroke-width="0.5"/>
<line x1="111.06" y1="1313.45" x2="130.16" y2="1313.49" stroke="#CC4CC4" stroke-width="0.4"/>
<line x1="111.21" y1="1313.37" x2="101.34" y2="1329.2" stroke="#C2D43A" stroke-width="0.5"/>
<line x1="110.91" y1="1313.18" x2="101.04" y2="1329.01" stroke="#3A3A3A" stroke-width="0.36"/>
<line x1="111.41" y1="1313.32" x2="108.72" y2="1335.1" stroke="#C2D43A" stroke-width="0.5"/>
<line x1="111.06" y1="1313.28" x2="108.37" y2="1335.06" stroke="#3A3A3A" stroke-width="0.36"/>
<line x1="110.71" y1="1313.23" x2="108.03" y2="1335.01" stroke="#CC4CC4" stroke-width="0.4"/>
<line x1="111.08" y1="1313.63" x2="65.01" y2="1316.78" stroke="#C2D43A" stroke-width="0.5"/>
<line x1="111.06" y1="1313.28" x2="64.98" y2="1316.43" stroke="#3A3A3A" stroke-width="0.36"/>
<line x1="111.04" y1="1312.93" x2="64.96" y2="1316.09" stroke="#CC4CC4" stroke-width="0.4"/>
<line x1="111.1" y1="1313.45" x2="74.39" y2="1321.29" stroke="#C2D43A" stroke-width="0.5"/>
<line x1="111.02" y1="1313.11" x2="74.32" y2="1320.95" stroke="#3A3A3A" stroke-width="0.36"/>
<line x1="111.18" y1="1313.41" x2="77.19" y2="1343.83" stroke="#C2D43A" stroke-width="0.5"/>
<line x1="110.94" y1="1313.15" x2="76.95" y2="1343.57" stroke="#3A3A3A" stroke-width="0.36"/>
<line x1="111.22" y1="1313.35" x2="94.11" y2="1348.85" stroke="#C2D43A" stroke-width="0.5"/>
<line x1="110.9" y1="1313.2" x2="93.79" y2="1348.7" stroke="#3A3A3A" stroke-width="0.36"/>
<line x1="149.4" y1="1306.54" x2="130.22" y2="1313.48" stroke="#C2D43A" stroke-width="0.5"/>
<line x1="149.28" y1="1306.21" x2="130.1" y2="1313.15" stroke="#CC4CC4" stroke-width="0.4"/>
<line x1="149.37" y1="1306.55" x2="111.09" y2="1313.45" stroke="#C2D43A" stroke-width="0.5"/>
<line x1="149.31" y1="1306.21" x2="111.03" y2="1313.1" stroke="#CC4CC4" stroke-width="0.4"/>
<line x1="149.54" y1="1306.67" x2="108.57" y2="1335.34" stroke="#C2D43A" stroke-width="0.5"/>
<line x1="149.34" y1="1306.38" x2="108.37" y2="1335.06" stroke="#CC4CC4" stroke-width="0.4"/>
<line x1="149.14" y1="1306.09" x2="108.17" y2="1334.77" stroke="#3A3A3A" stroke-width="0.36"/>
<line x1="149.42" y1="1306.54" x2="101.26" y2="1329.26" stroke="#C2D43A" stroke-width="0.5"/>
<line x1="149.27" y1="1306.22" x2="101.11" y2="1328.94" stroke="#CC4CC4" stroke-width="0.4"/>
<line x1="130.4" y1="1313.56" x2="108.62" y2="1335.3" stroke="#C2D43A" stroke-width="0.5"/>
<line x1="130.16" y1="1313.31" x2="108.37" y2="1335.06" stroke="#CC4CC4" stroke-width="0.4"/>
<line x1="129.91" y1="1313.06" x2="108.13" y2="1334.81" stroke="#3A3A3A" stroke-width="0.36"/>
<line x1="130.16" y1="1313.49" x2="64.99" y2="1316.61" stroke="#C2D43A" stroke-width="0.5"/>
<line x1="130.15" y1="1313.14" x2="64.97" y2="1316.26" stroke="#CC4CC4" stroke-width="0.4"/>
<line x1="65.06" y1="1316.28" x2="74.43" y2="1320.96" stroke="#C2D43A" stroke-width="0.5"/>
<line x1="64.9" y1="1316.59" x2="74.28" y2="1321.27" stroke="#3A3A3A" stroke-width="0.36"/>
<line x1="64.98" y1="1316.43" x2="55.2" y2="1332.88" stroke="#C2D43A" stroke-width="0.5"/>
<line x1="65.16" y1="1316.44" x2="63.87" y2="1357.02" stroke="#C2D43A" stroke-width="0.5"/>
<line x1="64.81" y1="1316.43" x2="63.52" y2="1357.01" stroke="#3A3A3A" stroke-width="0.36"/>
<line x1="65.14" y1="1316.36" x2="77.23" y2="1343.62" stroke="#C2D43A" stroke-width="0.5"/>
<line x1="64.82" y1="1316.51" x2="76.91" y2="1343.77" stroke="#3A3A3A" stroke-width="0.36"/>
<line x1="65.04" y1="1316.27" x2="101.25" y2="1328.94" stroke="#C2D43A" stroke-width="0.5"/>
<line x1="64.92" y1="1316.6" x2="101.13" y2="1329.27" stroke="#3A3A3A" stroke-width="0.36"/>
<line x1="65.05" y1="1316.27" x2="108.44" y2="1334.9" stroke="#C2D43A" stroke-width="0.5"/>
<line x1="64.91" y1="1316.6" x2="108.3" y2="1335.22" stroke="#3A3A3A" stroke-width="0.36"/>
<line x1="65.11" y1="1316.32" x2="94.08" y2="1348.66" stroke="#C2D43A" stroke-width="0.5"/>
<line x1="64.85" y1="1316.55" x2="93.82" y2="1348.89" stroke="#3A3A3A" stroke-width="0.36"/>
<line x1="74.7" y1="1321.08" x2="77.42" y2="1343.65" stroke="#C2D43A" stroke-width="0.5"/>
<line x1="74.35" y1="1321.12" x2="77.07" y2="1343.7" stroke="#3A3A3A" stroke-width="0.36"/>
<line x1="74.01" y1="1321.16" x2="76.72" y2="1343.74" stroke="#CC4CC4" stroke-width="0.4"/>
<line x1="74.45" y1="1320.78" x2="101.29" y2="1328.77" stroke="#C2D43A" stroke-width="0.5"/>
<line x1="74.35" y1="1321.12" x2="101.19" y2="1329.1" stroke="#3A3A3A" stroke-width="0.36"/>
<line x1="74.25" y1="1321.45" x2="101.09" y2="1329.44" stroke="#3848B8" stroke-width="0.4"/>
<line x1="74.49" y1="1320.79" x2="108.51" y2="1334.73" stroke="#C2D43A" stroke-width="0.5"/>
<line x1="74.35" y1="1321.12" x2="108.37" y2="1335.06" stroke="#3A3A3A" stroke-width="0.36"/>
<line x1="74.22" y1="1321.44" x2="108.24" y2="1335.38" stroke="#CC4CC4" stroke-width="0.4"/>
<line x1="74.5" y1="1321.02" x2="94.09" y2="1348.68" stroke="#C2D43A" stroke-width="0.5"/>
<line x1="74.21" y1="1321.22" x2="93.81" y2="1348.88" stroke="#3A3A3A" stroke-width="0.36"/>
<line x1="74.52" y1="1321.17" x2="63.86" y2="1357.07" stroke="#C2D43A" stroke-width="0.5"/>
<line x1="74.19" y1="1321.07" x2="63.53" y2="1356.97" stroke="#3A3A3A" stroke-width="0.36"/>
<line x1="74.47" y1="1320.99" x2="108.67" y2="1352.35" stroke="#C2D43A" stroke-width="0.5"/>
<line x1="74.24" y1="1321.25" x2="108.43" y2="1352.61" stroke="#3A3A3A" stroke-width="0.36"/>
<line x1="74.46" y1="1320.97" x2="123.31" y2="1355.1" stroke="#C2D43A" stroke-width="0.5"/>
<line x1="74.25" y1="1321.26" x2="123.11" y2="1355.38" stroke="#3A3A3A" stroke-width="0.36"/>
<line x1="55.28" y1="1332.72" x2="77.15" y2="1343.54" stroke="#C2D43A" stroke-width="0.5"/>
<line x1="55.12" y1="1333.04" x2="76.99" y2="1343.85" stroke="#CC4CC4" stroke-width="0.4"/>
<line x1="55.2" y1="1332.88" x2="108.37" y2="1335.06" stroke="#C2D43A" stroke-width="0.5"/>
<line x1="101.41" y1="1328.83" x2="108.6" y2="1334.79" stroke="#C2D43A" stroke-width="0.5"/>
<line x1="101.19" y1="1329.1" x2="108.37" y2="1335.06" stroke="#3A3A3A" stroke-width="0.36"/>
<line x1="100.97" y1="1329.37" x2="108.15" y2="1335.33" stroke="#CC4CC4" stroke-width="0.4"/>
<line x1="101.28" y1="1329.25" x2="77.16" y2="1343.85" stroke="#C2D43A" stroke-width="0.5"/>
<line x1="101.1" y1="1328.95" x2="76.98" y2="1343.55" stroke="#3A3A3A" stroke-width="0.36"/>
<line x1="101.35" y1="1329.16" x2="94.11" y2="1348.84" stroke="#C2D43A" stroke-width="0.5"/>
<line x1="101.03" y1="1329.04" x2="93.78" y2="1348.72" stroke="#3A3A3A" stroke-width="0.36"/>
<line x1="101.52" y1="1329" x2="108.88" y2="1352.38" stroke="#C2D43A" stroke-width="0.5"/>
<line x1="101.19" y1="1329.1" x2="108.55" y2="1352.48" stroke="#3A3A3A" stroke-width="0.36"/>
<line x1="100.86" y1="1329.21" x2="108.21" y2="1352.59" stroke="#40B8D8" stroke-width="0.4"/>
<line x1="101.32" y1="1328.99" x2="123.34" y2="1355.13" stroke="#C2D43A" stroke-width="0.5"/>
<line x1="101.06" y1="1329.22" x2="123.07" y2="1355.35" stroke="#3A3A3A" stroke-width="0.36"/>
<line x1="101.29" y1="1329.24" x2="63.8" y2="1357.16" stroke="#C2D43A" stroke-width="0.5"/>
<line x1="101.09" y1="1328.96" x2="63.59" y2="1356.88" stroke="#3A3A3A" stroke-width="0.36"/>
<line x1="108.47" y1="1335.39" x2="77.16" y2="1344.03" stroke="#C2D43A" stroke-width="0.5"/>
<line x1="108.37" y1="1335.06" x2="77.07" y2="1343.7" stroke="#3A3A3A" stroke-width="0.36"/>
<line x1="108.28" y1="1334.72" x2="76.98" y2="1343.36" stroke="#CC4CC4" stroke-width="0.4"/>
<line x1="108.49" y1="1335.18" x2="94.07" y2="1348.9" stroke="#C2D43A" stroke-width="0.5"/>
<line x1="108.25" y1="1334.93" x2="93.83" y2="1348.65" stroke="#3A3A3A" stroke-width="0.36"/>
<line x1="108.55" y1="1335.05" x2="108.72" y2="1352.48" stroke="#C2D43A" stroke-width="0.5"/>
<line x1="108.2" y1="1335.06" x2="108.37" y2="1352.48" stroke="#3A3A3A" stroke-width="0.36"/>
<line x1="108.8" y1="1334.75" x2="123.63" y2="1354.93" stroke="#C2D43A" stroke-width="0.5"/>
<line x1="108.51" y1="1334.95" x2="123.35" y2="1355.14" stroke="#3A3A3A" stroke-width="0.36"/>
<line x1="108.23" y1="1335.16" x2="123.07" y2="1355.34" stroke="#CC4CC4" stroke-width="0.4"/>
<line x1="107.95" y1="1335.37" x2="122.78" y2="1355.55" stroke="#40B8D8" stroke-width="0.4"/>
<line x1="108.45" y1="1335.21" x2="63.77" y2="1357.17" stroke="#C2D43A" stroke-width="0.5"/>
<line x1="108.3" y1="1334.9" x2="63.62" y2="1356.86" stroke="#CC4CC4" stroke-width="0.4"/>
<line x1="108.37" y1="1335.06" x2="118.1" y2="1378.25" stroke="#C2D43A" stroke-width="0.5"/>
<line x1="108.37" y1="1335.06" x2="86.03" y2="1385.77" stroke="#3A3A3A" stroke-width="0.36"/>
<line x1="77.12" y1="1343.53" x2="94" y2="1348.61" stroke="#C2D43A" stroke-width="0.5"/>
<line x1="77.02" y1="1343.86" x2="93.9" y2="1348.95" stroke="#3A3A3A" stroke-width="0.36"/>
<line x1="77.19" y1="1343.82" x2="63.82" y2="1357.14" stroke="#C2D43A" stroke-width="0.5"/>
<line x1="76.95" y1="1343.57" x2="63.57" y2="1356.89" stroke="#3A3A3A" stroke-width="0.36"/>
<line x1="77.12" y1="1343.53" x2="108.6" y2="1352.31" stroke="#C2D43A" stroke-width="0.5"/>
<line x1="77.02" y1="1343.86" x2="108.5" y2="1352.65" stroke="#3A3A3A" stroke-width="0.36"/>
<line x1="93.99" y1="1348.61" x2="108.59" y2="1352.31" stroke="#C2D43A" stroke-width="0.5"/>
<line x1="93.9" y1="1348.95" x2="108.5" y2="1352.65" stroke="#3A3A3A" stroke-width="0.36"/>
<line x1="93.99" y1="1348.61" x2="123.24" y2="1355.07" stroke="#C2D43A" stroke-width="0.5"/>
<line x1="93.91" y1="1348.95" x2="123.17" y2="1355.41" stroke="#3A3A3A" stroke-width="0.36"/>
<line x1="108.61" y1="1352.14" x2="123.27" y2="1354.9" stroke="#C2D43A" stroke-width="0.5"/>
<line x1="108.55" y1="1352.48" x2="123.21" y2="1355.24" stroke="#3A3A3A" stroke-width="0.36"/>
<line x1="108.48" y1="1352.82" x2="123.14" y2="1355.58" stroke="#40B8D8" stroke-width="0.4"/>
<line x1="108.55" y1="1352.48" x2="118.1" y2="1378.25" stroke="#C2D43A" stroke-width="0.5"/>
<line x1="68.23" y1="1256.47" x2="83.76" y2="1283.82" stroke="#BFD140" stroke-width="0.5"/>
<line x1="152.93" y1="1273.23" x2="172.7" y2="1270.59" stroke="#BFD140" stroke-width="0.5"/>
<line x1="164.93" y1="1286.11" x2="183.82" y2="1277.64" stroke="#BFD140" stroke-width="0.5"/>
<line x1="183.82" y1="1277.64" x2="178.52" y2="1290.88" stroke="#BFD140" stroke-width="0.5"/>
<line x1="178.52" y1="1290.88" x2="164.93" y2="1286.11" stroke="#BFD140" stroke-width="0.5"/>
<line x1="178.52" y1="1290.88" x2="170.58" y2="1315.58" stroke="#BFD140" stroke-width="0.5"/>
<line x1="130.88" y1="1289.11" x2="150.29" y2="1294.41" stroke="#BFD140" stroke-width="0.5"/>
<line x1="137.05" y1="1275.88" x2="150.29" y2="1294.41" stroke="#C844C0" stroke-width="0.5"/>
<line x1="149.41" y1="1305.88" x2="170.58" y2="1315.58" stroke="#BFD140" stroke-width="0.5"/>
<line x1="150.29" y1="1294.41" x2="155.58" y2="1302.35" stroke="#BFD140" stroke-width="0.5"/>
<line x1="197.05" y1="1266.17" x2="183.82" y2="1277.64" stroke="#C844C0" stroke-width="0.5"/>
<line x1="137.58" y1="1327.05" x2="155.58" y2="1342.05" stroke="#BFD140" stroke-width="0.5"/>
<line x1="169.7" y1="1329.7" x2="155.58" y2="1342.05" stroke="#C844C0" stroke-width="0.5"/>
<line x1="173.58" y1="1341.52" x2="192.99" y2="1337.99" stroke="#BFD140" stroke-width="0.5"/>
<line x1="167.05" y1="1351.76" x2="172.35" y2="1375.58" stroke="#BFD140" stroke-width="0.5"/>
<line x1="172.35" y1="1375.58" x2="185.05" y2="1394.11" stroke="#BFD140" stroke-width="0.5"/>
<line x1="177.99" y1="1360.58" x2="193.52" y2="1357.05" stroke="#BFD140" stroke-width="0.5"/>
<line x1="155.58" y1="1363.23" x2="158.23" y2="1387.05" stroke="#C844C0" stroke-width="0.5"/>
<line x1="158.23" y1="1387.05" x2="158.58" y2="1407.34" stroke="#BFD140" stroke-width="0.5"/>
<line x1="148.52" y1="1351.76" x2="138.82" y2="1360.23" stroke="#C844C0" stroke-width="0.5"/>
<line x1="126.47" y1="1361.99" x2="138.82" y2="1360.23" stroke="#BFD140" stroke-width="0.5"/>
<line x1="108.47" y1="1353.17" x2="118.17" y2="1378.23" stroke="#BFD140" stroke-width="0.5"/>
<line x1="100.88" y1="1328.82" x2="86.23" y2="1385.28" stroke="#C844C0" stroke-width="0.5"/>
<line x1="164.93" y1="1286.11" x2="155.58" y2="1302.35" stroke="#BFD140" stroke-width="0.5"/>
<ellipse cx="68.23" cy="1256.47" rx="2.8" ry="3.3" fill="#88CC98" stroke="#555" stroke-opacity="0.55" stroke-width="0.4"/>
<ellipse cx="68.23" cy="1256.47" rx="2.8" ry="3.3" fill="url(#sph)"/>
<rect x="71.23" y="1252.27" width="7.12" height="1.3" fill="#666" opacity="0.6"/>
<ellipse cx="84.12" cy="1256.47" rx="2.8" ry="3.3" fill="#88CC98" stroke="#555" stroke-opacity="0.55" stroke-width="0.4"/>
<ellipse cx="84.12" cy="1256.47" rx="2.8" ry="3.3" fill="url(#sph)"/>
<rect x="87.12" y="1252.27" width="5.89" height="1.3" fill="#666" opacity="0.6"/>
<ellipse cx="100" cy="1256.47" rx="2.8" ry="3.3" fill="#DCACAC" stroke="#555" stroke-opacity="0.55" stroke-width="0.4"/>
<ellipse cx="100" cy="1256.47" rx="2.8" ry="3.3" fill="url(#sph)"/>
<rect x="103" y="1252.27" width="6.86" height="1.3" fill="#666" opacity="0.6"/>
<ellipse cx="115" cy="1252.94" rx="2.8" ry="3.3" fill="#DCACAC" stroke="#555" stroke-opacity="0.55" stroke-width="0.4"/>
<ellipse cx="115" cy="1252.94" rx="2.8" ry="3.3" fill="url(#sph)"/>
<rect x="118" y="1248.74" width="5.58" height="1.3" fill="#666" opacity="0.6"/>
<ellipse cx="132.99" cy="1251.18" rx="2.8" ry="3.3" fill="#E8BCA4" stroke="#555" stroke-opacity="0.55" stroke-width="0.4"/>
<ellipse cx="132.99" cy="1251.18" rx="2.8" ry="3.3" fill="url(#sph)"/>
<rect x="135.99" y="1246.98" width="7.86" height="1.3" fill="#666" opacity="0.6"/>
<ellipse cx="148.52" cy="1247.65" rx="2.8" ry="3.3" fill="#8C88CC" stroke="#555" stroke-opacity="0.55" stroke-width="0.4"/>
<ellipse cx="148.52" cy="1247.65" rx="2.8" ry="3.3" fill="url(#sph)"/>
<rect x="151.52" y="1243.45" width="7.52" height="1.3" fill="#666" opacity="0.6"/>
<ellipse cx="164.4" cy="1253.82" rx="2.8" ry="3.3" fill="#98AEDA" stroke="#555" stroke-opacity="0.55" stroke-width="0.4"/>
<ellipse cx="164.4" cy="1253.82" rx="2.8" ry="3.3" fill="url(#sph)"/>
<rect x="167.4" y="1249.62" width="4.14" height="1.3" fill="#666" opacity="0.6"/>
<ellipse cx="184.7" cy="1256.47" rx="2.8" ry="3.3" fill="#E8BCA4" stroke="#555" stroke-opacity="0.55" stroke-width="0.4"/>
<ellipse cx="184.7" cy="1256.47" rx="2.8" ry="3.3" fill="url(#sph)"/>
<rect x="187.7" y="1252.27" width="4.87" height="1.3" fill="#666" opacity="0.6"/>
<ellipse cx="197.05" cy="1266.17" rx="2.8" ry="3.3" fill="#DCACAC" stroke="#555" stroke-opacity="0.55" stroke-width="0.4"/>
<ellipse cx="197.05" cy="1266.17" rx="2.8" ry="3.3" fill="url(#sph)"/>
<rect x="200.05" y="1261.97" width="7.12" height="1.3" fill="#666" opacity="0.6"/>
<ellipse cx="84.12" cy="1264.41" rx="2.8" ry="3.3" fill="#88CC98" stroke="#555" stroke-opacity="0.55" stroke-width="0.4"/>
<ellipse cx="84.12" cy="1264.41" rx="2.8" ry="3.3" fill="url(#sph)"/>
<rect x="87.12" y="1260.21" width="5.68" height="1.3" fill="#666" opacity="0.6"/>
<ellipse cx="100" cy="1265.29" rx="2.8" ry="3.3" fill="#DCACAC" stroke="#555" stroke-opacity="0.55" stroke-width="0.4"/>
<ellipse cx="100" cy="1265.29" rx="2.8" ry="3.3" fill="url(#sph)"/>
<rect x="103" y="1261.09" width="6.3" height="1.3" fill="#666" opacity="0.6"/>
<ellipse cx="115" cy="1261.76" rx="2.8" ry="3.3" fill="#C8D8A0" stroke="#555" stroke-opacity="0.55" stroke-width="0.4"/>
<ellipse cx="115" cy="1261.76" rx="2.8" ry="3.3" fill="url(#sph)"/>
<rect x="118" y="1257.56" width="6.34" height="1.3" fill="#666" opacity="0.6"/>
<ellipse cx="132.99" cy="1259.12" rx="2.8" ry="3.3" fill="#DCDCA8" stroke="#555" stroke-opacity="0.55" stroke-width="0.4"/>
<ellipse cx="132.99" cy="1259.12" rx="2.8" ry="3.3" fill="url(#sph)"/>
<rect x="135.99" y="1254.92" width="7.62" height="1.3" fill="#666" opacity="0.6"/>
<ellipse cx="148.52" cy="1256.47" rx="2.8" ry="3.3" fill="#84C8AC" stroke="#555" stroke-opacity="0.55" stroke-width="0.4"/>
<ellipse cx="148.52" cy="1256.47" rx="2.8" ry="3.3" fill="url(#sph)"/>
<rect x="151.52" y="1252.27" width="7.43" height="1.3" fill="#666" opacity="0.6"/>
<ellipse cx="152.93" cy="1264.41" rx="2.8" ry="3.3" fill="#8C88CC" stroke="#555" stroke-opacity="0.55" stroke-width="0.4"/>
<ellipse cx="152.93" cy="1264.41" rx="2.8" ry="3.3" fill="url(#sph)"/>
<rect x="155.93" y="1260.21" width="6.79" height="1.3" fill="#666" opacity="0.6"/>
<ellipse cx="168.82" cy="1261.76" rx="2.8" ry="3.3" fill="#7CCACA" stroke="#555" stroke-opacity="0.55" stroke-width="0.4"/>
<ellipse cx="168.82" cy="1261.76" rx="2.8" ry="3.3" fill="url(#sph)"/>
<rect x="171.82" y="1257.56" width="7.86" height="1.3" fill="#666" opacity="0.6"/>
<ellipse cx="90.29" cy="1272.35" rx="2.8" ry="3.3" fill="#98AEDA" stroke="#555" stroke-opacity="0.55" stroke-width="0.4"/>
<ellipse cx="90.29" cy="1272.35" rx="2.8" ry="3.3" fill="url(#sph)"/>
<rect x="93.29" y="1268.15" width="6.86" height="1.3" fill="#666" opacity="0.6"/>
<ellipse cx="106.17" cy="1272.35" rx="2.8" ry="3.3" fill="#DCDCA8" stroke="#555" stroke-opacity="0.55" stroke-width="0.4"/>
<ellipse cx="106.17" cy="1272.35" rx="2.8" ry="3.3" fill="url(#sph)"/>
<rect x="109.17" y="1268.15" width="6.53" height="1.3" fill="#666" opacity="0.6"/>
<ellipse cx="121.52" cy="1269.7" rx="2.8" ry="3.3" fill="#88CC98" stroke="#555" stroke-opacity="0.55" stroke-width="0.4"/>
<ellipse cx="121.52" cy="1269.7" rx="2.8" ry="3.3" fill="url(#sph)"/>
<rect x="124.52" y="1265.5" width="5.14" height="1.3" fill="#666" opacity="0.6"/>
<ellipse cx="137.05" cy="1267.06" rx="2.8" ry="3.3" fill="#98AEDA" stroke="#555" stroke-opacity="0.55" stroke-width="0.4"/>
<ellipse cx="137.05" cy="1267.06" rx="2.8" ry="3.3" fill="url(#sph)"/>
<rect x="140.05" y="1262.86" width="5.93" height="1.3" fill="#666" opacity="0.6"/>
<ellipse cx="152.93" cy="1273.23" rx="2.8" ry="3.3" fill="#E8BCA4" stroke="#555" stroke-opacity="0.55" stroke-width="0.4"/>
<ellipse cx="152.93" cy="1273.23" rx="2.8" ry="3.3" fill="url(#sph)"/>
<rect x="155.93" y="1269.03" width="4.35" height="1.3" fill="#666" opacity="0.6"/>
<ellipse cx="172.7" cy="1270.59" rx="2.8" ry="3.3" fill="#98AEDA" stroke="#555" stroke-opacity="0.55" stroke-width="0.4"/>
<ellipse cx="172.7" cy="1270.59" rx="2.8" ry="3.3" fill="url(#sph)"/>
<rect x="175.7" y="1266.39" width="5.64" height="1.3" fill="#666" opacity="0.6"/>
<ellipse cx="183.82" cy="1277.64" rx="2.8" ry="3.3" fill="#8C88CC" stroke="#555" stroke-opacity="0.55" stroke-width="0.4"/>
<ellipse cx="183.82" cy="1277.64" rx="2.8" ry="3.3" fill="url(#sph)"/>
<rect x="186.82" y="1273.44" width="4.08" height="1.3" fill="#666" opacity="0.6"/>
<ellipse cx="121.52" cy="1278.53" rx="2.8" ry="3.3" fill="#DCACAC" stroke="#555" stroke-opacity="0.55" stroke-width="0.4"/>
<ellipse cx="121.52" cy="1278.53" rx="2.8" ry="3.3" fill="url(#sph)"/>
<rect x="124.52" y="1274.33" width="7.08" height="1.3" fill="#666" opacity="0.6"/>
<ellipse cx="137.05" cy="1275.88" rx="2.8" ry="3.3" fill="#98AEDA" stroke="#555" stroke-opacity="0.55" stroke-width="0.4"/>
<ellipse cx="137.05" cy="1275.88" rx="2.8" ry="3.3" fill="url(#sph)"/>
<rect x="140.05" y="1271.68" width="4.18" height="1.3" fill="#666" opacity="0.6"/>
<ellipse cx="101.76" cy="1282.06" rx="2.8" ry="3.3" fill="#84C8AC" stroke="#555" stroke-opacity="0.55" stroke-width="0.4"/>
<ellipse cx="101.76" cy="1282.06" rx="2.8" ry="3.3" fill="url(#sph)"/>
<rect x="104.76" y="1277.86" width="5.51" height="1.3" fill="#666" opacity="0.6"/>
<ellipse cx="164.93" cy="1286.11" rx="2.8" ry="3.3" fill="#7CCACA" stroke="#555" stroke-opacity="0.55" stroke-width="0.4"/>
<ellipse cx="164.93" cy="1286.11" rx="2.8" ry="3.3" fill="url(#sph)"/>
<rect x="167.93" y="1281.91" width="6.2" height="1.3" fill="#666" opacity="0.6"/>
<ellipse cx="178.52" cy="1290.88" rx="2.8" ry="3.3" fill="#88CC98" stroke="#555" stroke-opacity="0.55" stroke-width="0.4"/>
<ellipse cx="178.52" cy="1290.88" rx="2.8" ry="3.3" fill="url(#sph)"/>
<rect x="181.52" y="1286.68" width="6.02" height="1.3" fill="#666" opacity="0.6"/>
<ellipse cx="133.17" cy="1297.05" rx="2.8" ry="3.3" fill="#84C8AC" stroke="#555" stroke-opacity="0.55" stroke-width="0.4"/>
<ellipse cx="133.17" cy="1297.05" rx="2.8" ry="3.3" fill="url(#sph)"/>
<rect x="136.17" y="1292.85" width="5.24" height="1.3" fill="#666" opacity="0.6"/>
<ellipse cx="133.17" cy="1305.52" rx="2.8" ry="3.3" fill="#98AEDA" stroke="#555" stroke-opacity="0.55" stroke-width="0.4"/>
<ellipse cx="133.17" cy="1305.52" rx="2.8" ry="3.3" fill="url(#sph)"/>
<rect x="136.17" y="1301.32" width="4.43" height="1.3" fill="#666" opacity="0.6"/>
<ellipse cx="166.17" cy="1303.23" rx="2.8" ry="3.3" fill="#C8D8A0" stroke="#555" stroke-opacity="0.55" stroke-width="0.4"/>
<ellipse cx="166.17" cy="1303.23" rx="2.8" ry="3.3" fill="url(#sph)"/>
<rect x="169.17" y="1299.03" width="4.13" height="1.3" fill="#666" opacity="0.6"/>
<ellipse cx="170.58" cy="1315.58" rx="2.8" ry="3.3" fill="#DCDCA8" stroke="#555" stroke-opacity="0.55" stroke-width="0.4"/>
<ellipse cx="170.58" cy="1315.58" rx="2.8" ry="3.3" fill="url(#sph)"/>
<rect x="173.58" y="1311.38" width="7.89" height="1.3" fill="#666" opacity="0.6"/>
<ellipse cx="137.58" cy="1327.05" rx="2.8" ry="3.3" fill="#88CC98" stroke="#555" stroke-opacity="0.55" stroke-width="0.4"/>
<ellipse cx="137.58" cy="1327.05" rx="2.8" ry="3.3" fill="url(#sph)"/>
<rect x="140.58" y="1322.85" width="6.44" height="1.3" fill="#666" opacity="0.6"/>
<ellipse cx="135.29" cy="1335.52" rx="2.8" ry="3.3" fill="#8C88CC" stroke="#555" stroke-opacity="0.55" stroke-width="0.4"/>
<ellipse cx="135.29" cy="1335.52" rx="2.8" ry="3.3" fill="url(#sph)"/>
<rect x="138.29" y="1331.32" width="6.76" height="1.3" fill="#666" opacity="0.6"/>
<ellipse cx="139.7" cy="1343.82" rx="2.8" ry="3.3" fill="#7CCACA" stroke="#555" stroke-opacity="0.55" stroke-width="0.4"/>
<ellipse cx="139.7" cy="1343.82" rx="2.8" ry="3.3" fill="url(#sph)"/>
<rect x="142.7" y="1339.62" width="5.26" height="1.3" fill="#666" opacity="0.6"/>
<ellipse cx="148.52" cy="1319.11" rx="2.8" ry="3.3" fill="#8C88CC" stroke="#555" stroke-opacity="0.55" stroke-width="0.4"/>
<ellipse cx="148.52" cy="1319.11" rx="2.8" ry="3.3" fill="url(#sph)"/>
<rect x="151.52" y="1314.91" width="7.59" height="1.3" fill="#666" opacity="0.6"/>
<ellipse cx="152.93" cy="1327.94" rx="2.8" ry="3.3" fill="#DCACAC" stroke="#555" stroke-opacity="0.55" stroke-width="0.4"/>
<ellipse cx="152.93" cy="1327.94" rx="2.8" ry="3.3" fill="url(#sph)"/>
<rect x="155.93" y="1323.74" width="5.51" height="1.3" fill="#666" opacity="0.6"/>
<ellipse cx="155.58" cy="1342.05" rx="2.8" ry="3.3" fill="#C8D8A0" stroke="#555" stroke-opacity="0.55" stroke-width="0.4"/>
<ellipse cx="155.58" cy="1342.05" rx="2.8" ry="3.3" fill="url(#sph)"/>
<rect x="158.58" y="1337.85" width="5.54" height="1.3" fill="#666" opacity="0.6"/>
<ellipse cx="148.52" cy="1351.76" rx="2.8" ry="3.3" fill="#C8D8A0" stroke="#555" stroke-opacity="0.55" stroke-width="0.4"/>
<ellipse cx="148.52" cy="1351.76" rx="2.8" ry="3.3" fill="url(#sph)"/>
<rect x="151.52" y="1347.56" width="4.41" height="1.3" fill="#666" opacity="0.6"/>
<ellipse cx="138.82" cy="1360.23" rx="2.8" ry="3.3" fill="#C8D8A0" stroke="#555" stroke-opacity="0.55" stroke-width="0.4"/>
<ellipse cx="138.82" cy="1360.23" rx="2.8" ry="3.3" fill="url(#sph)"/>
<rect x="141.82" y="1356.03" width="5.09" height="1.3" fill="#666" opacity="0.6"/>
<ellipse cx="126.47" cy="1361.99" rx="2.8" ry="3.3" fill="#DCDCA8" stroke="#555" stroke-opacity="0.55" stroke-width="0.4"/>
<ellipse cx="126.47" cy="1361.99" rx="2.8" ry="3.3" fill="url(#sph)"/>
<rect x="129.47" y="1357.79" width="7.75" height="1.3" fill="#666" opacity="0.6"/>
<ellipse cx="133.17" cy="1371.17" rx="2.8" ry="3.3" fill="#DCACAC" stroke="#555" stroke-opacity="0.55" stroke-width="0.4"/>
<ellipse cx="133.17" cy="1371.17" rx="2.8" ry="3.3" fill="url(#sph)"/>
<rect x="136.17" y="1366.97" width="7.91" height="1.3" fill="#666" opacity="0.6"/>
<ellipse cx="126.11" cy="1386.17" rx="2.8" ry="3.3" fill="#C8D8A0" stroke="#555" stroke-opacity="0.55" stroke-width="0.4"/>
<ellipse cx="126.11" cy="1386.17" rx="2.8" ry="3.3" fill="url(#sph)"/>
<rect x="129.11" y="1381.97" width="5.21" height="1.3" fill="#666" opacity="0.6"/>
<ellipse cx="141.99" cy="1386.17" rx="2.8" ry="3.3" fill="#7CCACA" stroke="#555" stroke-opacity="0.55" stroke-width="0.4"/>
<ellipse cx="141.99" cy="1386.17" rx="2.8" ry="3.3" fill="url(#sph)"/>
<rect x="144.99" y="1381.97" width="4.05" height="1.3" fill="#666" opacity="0.6"/>
<ellipse cx="148.52" cy="1370.29" rx="2.8" ry="3.3" fill="#DCACAC" stroke="#555" stroke-opacity="0.55" stroke-width="0.4"/>
<ellipse cx="148.52" cy="1370.29" rx="2.8" ry="3.3" fill="url(#sph)"/>
<rect x="151.52" y="1366.09" width="7.95" height="1.3" fill="#666" opacity="0.6"/>
<ellipse cx="148.52" cy="1379.11" rx="2.8" ry="3.3" fill="#7CCACA" stroke="#555" stroke-opacity="0.55" stroke-width="0.4"/>
<ellipse cx="148.52" cy="1379.11" rx="2.8" ry="3.3" fill="url(#sph)"/>
<rect x="151.52" y="1374.91" width="4.08" height="1.3" fill="#666" opacity="0.6"/>
<ellipse cx="155.58" cy="1363.23" rx="2.8" ry="3.3" fill="#8C88CC" stroke="#555" stroke-opacity="0.55" stroke-width="0.4"/>
<ellipse cx="155.58" cy="1363.23" rx="2.8" ry="3.3" fill="url(#sph)"/>
<rect x="158.58" y="1359.03" width="4.24" height="1.3" fill="#666" opacity="0.6"/>
<ellipse cx="158.23" cy="1387.05" rx="2.8" ry="3.3" fill="#7CCACA" stroke="#555" stroke-opacity="0.55" stroke-width="0.4"/>
<ellipse cx="158.23" cy="1387.05" rx="2.8" ry="3.3" fill="url(#sph)"/>
<rect x="161.23" y="1382.85" width="5.87" height="1.3" fill="#666" opacity="0.6"/>
<ellipse cx="167.05" cy="1351.76" rx="2.8" ry="3.3" fill="#7CCACA" stroke="#555" stroke-opacity="0.55" stroke-width="0.4"/>
<ellipse cx="167.05" cy="1351.76" rx="2.8" ry="3.3" fill="url(#sph)"/>
<rect x="170.05" y="1347.56" width="6.44" height="1.3" fill="#666" opacity="0.6"/>
<ellipse cx="169.7" cy="1329.7" rx="2.8" ry="3.3" fill="#88CC98" stroke="#555" stroke-opacity="0.55" stroke-width="0.4"/>
<ellipse cx="169.7" cy="1329.7" rx="2.8" ry="3.3" fill="url(#sph)"/>
<rect x="172.7" y="1325.5" width="6.95" height="1.3" fill="#666" opacity="0.6"/>
<ellipse cx="173.58" cy="1341.52" rx="2.8" ry="3.3" fill="#84C8AC" stroke="#555" stroke-opacity="0.55" stroke-width="0.4"/>
<ellipse cx="173.58" cy="1341.52" rx="2.8" ry="3.3" fill="url(#sph)"/>
<rect x="176.58" y="1337.32" width="6.36" height="1.3" fill="#666" opacity="0.6"/>
<ellipse cx="172.35" cy="1375.58" rx="2.8" ry="3.3" fill="#84C8AC" stroke="#555" stroke-opacity="0.55" stroke-width="0.4"/>
<ellipse cx="172.35" cy="1375.58" rx="2.8" ry="3.3" fill="url(#sph)"/>
<rect x="175.35" y="1371.38" width="7.85" height="1.3" fill="#666" opacity="0.6"/>
<ellipse cx="177.99" cy="1360.58" rx="2.8" ry="3.3" fill="#88CC98" stroke="#555" stroke-opacity="0.55" stroke-width="0.4"/>
<ellipse cx="177.99" cy="1360.58" rx="2.8" ry="3.3" fill="url(#sph)"/>
<rect x="180.99" y="1356.38" width="6.51" height="1.3" fill="#666" opacity="0.6"/>
<ellipse cx="182.23" cy="1367.64" rx="2.8" ry="3.3" fill="#88CC98" stroke="#555" stroke-opacity="0.55" stroke-width="0.4"/>
<ellipse cx="182.23" cy="1367.64" rx="2.8" ry="3.3" fill="url(#sph)"/>
<rect x="185.23" y="1363.44" width="6.37" height="1.3" fill="#666" opacity="0.6"/>
<ellipse cx="188.76" cy="1346.46" rx="2.8" ry="3.3" fill="#7CCACA" stroke="#555" stroke-opacity="0.55" stroke-width="0.4"/>
<ellipse cx="188.76" cy="1346.46" rx="2.8" ry="3.3" fill="url(#sph)"/>
<rect x="191.76" y="1342.26" width="4.71" height="1.3" fill="#666" opacity="0.6"/>
<ellipse cx="188.76" cy="1376.11" rx="2.8" ry="3.3" fill="#8C88CC" stroke="#555" stroke-opacity="0.55" stroke-width="0.4"/>
<ellipse cx="188.76" cy="1376.11" rx="2.8" ry="3.3" fill="url(#sph)"/>
<rect x="191.76" y="1371.91" width="5.25" height="1.3" fill="#666" opacity="0.6"/>
<ellipse cx="188.76" cy="1384.4" rx="2.8" ry="3.3" fill="#7CCACA" stroke="#555" stroke-opacity="0.55" stroke-width="0.4"/>
<ellipse cx="188.76" cy="1384.4" rx="2.8" ry="3.3" fill="url(#sph)"/>
<rect x="191.76" y="1380.2" width="7.38" height="1.3" fill="#666" opacity="0.6"/>
<ellipse cx="192.99" cy="1337.99" rx="2.8" ry="3.3" fill="#88CC98" stroke="#555" stroke-opacity="0.55" stroke-width="0.4"/>
<ellipse cx="192.99" cy="1337.99" rx="2.8" ry="3.3" fill="url(#sph)"/>
<rect x="195.99" y="1333.79" width="5.2" height="1.3" fill="#666" opacity="0.6"/>
<ellipse cx="193.52" cy="1357.05" rx="2.8" ry="3.3" fill="#DCACAC" stroke="#555" stroke-opacity="0.55" stroke-width="0.4"/>
<ellipse cx="193.52" cy="1357.05" rx="2.8" ry="3.3" fill="url(#sph)"/>
<rect x="196.52" y="1352.85" width="4.42" height="1.3" fill="#666" opacity="0.6"/>
<ellipse cx="184.34" cy="1305.88" rx="2.8" ry="3.3" fill="#84C8AC" stroke="#555" stroke-opacity="0.55" stroke-width="0.4"/>
<ellipse cx="184.34" cy="1305.88" rx="2.8" ry="3.3" fill="url(#sph)"/>
<rect x="187.34" y="1301.68" width="7.89" height="1.3" fill="#666" opacity="0.6"/>
<ellipse cx="186.46" cy="1313.82" rx="2.8" ry="3.3" fill="#8C88CC" stroke="#555" stroke-opacity="0.55" stroke-width="0.4"/>
<ellipse cx="186.46" cy="1313.82" rx="2.8" ry="3.3" fill="url(#sph)"/>
<rect x="189.46" y="1309.62" width="5.24" height="1.3" fill="#666" opacity="0.6"/>
<ellipse cx="186.46" cy="1321.76" rx="2.8" ry="3.3" fill="#DCDCA8" stroke="#555" stroke-opacity="0.55" stroke-width="0.4"/>
<ellipse cx="186.46" cy="1321.76" rx="2.8" ry="3.3" fill="url(#sph)"/>
<rect x="189.46" y="1317.56" width="6.61" height="1.3" fill="#666" opacity="0.6"/>
<ellipse cx="186.46" cy="1329.7" rx="2.8" ry="3.3" fill="#88CC98" stroke="#555" stroke-opacity="0.55" stroke-width="0.4"/>
<ellipse cx="186.46" cy="1329.7" rx="2.8" ry="3.3" fill="url(#sph)"/>
<rect x="189.46" y="1325.5" width="4.95" height="1.3" fill="#666" opacity="0.6"/>
<ellipse cx="79.7" cy="1394.99" rx="2.8" ry="3.3" fill="#8C88CC" stroke="#555" stroke-opacity="0.55" stroke-width="0.4"/>
<ellipse cx="79.7" cy="1394.99" rx="2.8" ry="3.3" fill="url(#sph)"/>
<rect x="82.7" y="1390.79" width="6.71" height="1.3" fill="#666" opacity="0.6"/>
<ellipse cx="95.06" cy="1394.99" rx="2.8" ry="3.3" fill="#98AEDA" stroke="#555" stroke-opacity="0.55" stroke-width="0.4"/>
<ellipse cx="95.06" cy="1394.99" rx="2.8" ry="3.3" fill="url(#sph)"/>
<rect x="98.06" y="1390.79" width="4.41" height="1.3" fill="#666" opacity="0.6"/>
<ellipse cx="110.58" cy="1393.23" rx="2.8" ry="3.3" fill="#7CCACA" stroke="#555" stroke-opacity="0.55" stroke-width="0.4"/>
<ellipse cx="110.58" cy="1393.23" rx="2.8" ry="3.3" fill="url(#sph)"/>
<rect x="113.58" y="1389.03" width="7.8" height="1.3" fill="#666" opacity="0.6"/>
<ellipse cx="135.29" cy="1394.99" rx="2.8" ry="3.3" fill="#DCDCA8" stroke="#555" stroke-opacity="0.55" stroke-width="0.4"/>
<ellipse cx="135.29" cy="1394.99" rx="2.8" ry="3.3" fill="url(#sph)"/>
<rect x="138.29" y="1390.79" width="5.75" height="1.3" fill="#666" opacity="0.6"/>
<ellipse cx="150.82" cy="1394.99" rx="2.8" ry="3.3" fill="#8C88CC" stroke="#555" stroke-opacity="0.55" stroke-width="0.4"/>
<ellipse cx="150.82" cy="1394.99" rx="2.8" ry="3.3" fill="url(#sph)"/>
<rect x="153.82" y="1390.79" width="4.32" height="1.3" fill="#666" opacity="0.6"/>
<ellipse cx="168.82" cy="1394.99" rx="2.8" ry="3.3" fill="#DCDCA8" stroke="#555" stroke-opacity="0.55" stroke-width="0.4"/>
<ellipse cx="168.82" cy="1394.99" rx="2.8" ry="3.3" fill="url(#sph)"/>
<rect x="171.82" y="1390.79" width="7.54" height="1.3" fill="#666" opacity="0.6"/>
<ellipse cx="185.05" cy="1394.11" rx="2.8" ry="3.3" fill="#E8BCA4" stroke="#555" stroke-opacity="0.55" stroke-width="0.4"/>
<ellipse cx="185.05" cy="1394.11" rx="2.8" ry="3.3" fill="url(#sph)"/>
<rect x="188.05" y="1389.91" width="5.08" height="1.3" fill="#666" opacity="0.6"/>
<ellipse cx="158.58" cy="1407.34" rx="2.8" ry="3.3" fill="#98AEDA" stroke="#555" stroke-opacity="0.55" stroke-width="0.4"/>
<ellipse cx="158.58" cy="1407.34" rx="2.8" ry="3.3" fill="url(#sph)"/>
<rect x="161.58" y="1403.14" width="4.14" height="1.3" fill="#666" opacity="0.6"/>
<ellipse cx="82.35" cy="1360.23" rx="2.8" ry="3.3" fill="#DCDCA8" stroke="#555" stroke-opacity="0.55" stroke-width="0.4"/>
<ellipse cx="82.35" cy="1360.23" rx="2.8" ry="3.3" fill="url(#sph)"/>
<rect x="85.35" y="1356.03" width="5.26" height="1.3" fill="#666" opacity="0.6"/>
<ellipse cx="79.7" cy="1370.29" rx="2.8" ry="3.3" fill="#8C88CC" stroke="#555" stroke-opacity="0.55" stroke-width="0.4"/>
<ellipse cx="79.7" cy="1370.29" rx="2.8" ry="3.3" fill="url(#sph)"/>
<rect x="82.7" y="1366.09" width="7.45" height="1.3" fill="#666" opacity="0.6"/>
<ellipse cx="79.7" cy="1379.11" rx="2.8" ry="3.3" fill="#7CCACA" stroke="#555" stroke-opacity="0.55" stroke-width="0.4"/>
<ellipse cx="79.7" cy="1379.11" rx="2.8" ry="3.3" fill="url(#sph)"/>
<rect x="82.7" y="1374.91" width="7.23" height="1.3" fill="#666" opacity="0.6"/>
<ellipse cx="86.23" cy="1385.28" rx="2.8" ry="3.3" fill="#98AEDA" stroke="#555" stroke-opacity="0.55" stroke-width="0.4"/>
<ellipse cx="86.23" cy="1385.28" rx="2.8" ry="3.3" fill="url(#sph)"/>
<rect x="89.23" y="1381.08" width="7.23" height="1.3" fill="#666" opacity="0.6"/>
<ellipse cx="101.76" cy="1376.46" rx="2.8" ry="3.3" fill="#7CCACA" stroke="#555" stroke-opacity="0.55" stroke-width="0.4"/>
<ellipse cx="101.76" cy="1376.46" rx="2.8" ry="3.3" fill="url(#sph)"/>
<rect x="104.76" y="1372.26" width="6.36" height="1.3" fill="#666" opacity="0.6"/>
<ellipse cx="101.76" cy="1384.4" rx="2.8" ry="3.3" fill="#DCACAC" stroke="#555" stroke-opacity="0.55" stroke-width="0.4"/>
<ellipse cx="101.76" cy="1384.4" rx="2.8" ry="3.3" fill="url(#sph)"/>
<rect x="104.76" y="1380.2" width="5.17" height="1.3" fill="#666" opacity="0.6"/>
<ellipse cx="106.17" cy="1367.64" rx="2.8" ry="3.3" fill="#88CC98" stroke="#555" stroke-opacity="0.55" stroke-width="0.4"/>
<ellipse cx="106.17" cy="1367.64" rx="2.8" ry="3.3" fill="url(#sph)"/>
<rect x="109.17" y="1363.44" width="5.86" height="1.3" fill="#666" opacity="0.6"/>
<ellipse cx="118.17" cy="1378.23" rx="2.8" ry="3.3" fill="#DCACAC" stroke="#555" stroke-opacity="0.55" stroke-width="0.4"/>
<ellipse cx="118.17" cy="1378.23" rx="2.8" ry="3.3" fill="url(#sph)"/>
<rect x="121.17" y="1374.03" width="5.16" height="1.3" fill="#666" opacity="0.6"/>
<ellipse cx="75.29" cy="1291.76" rx="2.8" ry="3.3" fill="#DCACAC" stroke="#555" stroke-opacity="0.55" stroke-width="0.4"/>
<ellipse cx="75.29" cy="1291.76" rx="2.8" ry="3.3" fill="url(#sph)"/>
<rect x="78.29" y="1287.56" width="4.14" height="1.3" fill="#666" opacity="0.6"/>
<ellipse cx="130.88" cy="1289.11" rx="2.8" ry="3.3" fill="#DCACAC" stroke="#555" stroke-opacity="0.55" stroke-width="0.4"/>
<ellipse cx="130.88" cy="1289.11" rx="2.8" ry="3.3" fill="url(#sph)"/>
<rect x="133.88" y="1284.91" width="4.62" height="1.3" fill="#666" opacity="0.6"/>
<ellipse cx="150.29" cy="1294.41" rx="2.8" ry="3.3" fill="#84C8AC" stroke="#555" stroke-opacity="0.55" stroke-width="0.4"/>
<ellipse cx="150.29" cy="1294.41" rx="2.8" ry="3.3" fill="url(#sph)"/>
<rect x="153.29" y="1290.21" width="5.91" height="1.3" fill="#666" opacity="0.6"/>
<ellipse cx="83.67" cy="1284.16" rx="2.9" ry="3.4" fill="#D8B4A8" stroke="#555" stroke-opacity="0.55" stroke-width="0.4"/>
<ellipse cx="83.67" cy="1284.16" rx="2.9" ry="3.4" fill="url(#sph)"/>
<ellipse cx="75.17" cy="1292.55" rx="2.9" ry="3.4" fill="#8C88CC" stroke="#555" stroke-opacity="0.55" stroke-width="0.4"/>
<ellipse cx="75.17" cy="1292.55" rx="2.9" ry="3.4" fill="url(#sph)"/>
<ellipse cx="66.53" cy="1299.85" rx="2.9" ry="3.4" fill="#84C8AC" stroke="#555" stroke-opacity="0.55" stroke-width="0.4"/>
<ellipse cx="66.53" cy="1299.85" rx="2.9" ry="3.4" fill="url(#sph)"/>
<ellipse cx="102.71" cy="1292" rx="2.9" ry="3.4" fill="#DDB3AA" stroke="#555" stroke-opacity="0.55" stroke-width="0.4"/>
<ellipse cx="102.71" cy="1292" rx="2.9" ry="3.4" fill="url(#sph)"/>
<ellipse cx="113.89" cy="1291.75" rx="2.9" ry="3.4" fill="#E2E0B0" stroke="#555" stroke-opacity="0.55" stroke-width="0.4"/>
<ellipse cx="113.89" cy="1291.75" rx="2.9" ry="3.4" fill="url(#sph)"/>
<ellipse cx="87.76" cy="1303.91" rx="2.9" ry="3.4" fill="#DCA4AC" stroke="#555" stroke-opacity="0.55" stroke-width="0.4"/>
<ellipse cx="87.76" cy="1303.91" rx="2.9" ry="3.4" fill="url(#sph)"/>
<ellipse cx="79.76" cy="1310.01" rx="2.9" ry="3.4" fill="#4A48AE" stroke="#555" stroke-opacity="0.55" stroke-width="0.4"/>
<ellipse cx="79.76" cy="1310.01" rx="2.9" ry="3.4" fill="url(#sph)"/>
<ellipse cx="97.83" cy="1310.95" rx="2.9" ry="3.4" fill="#7CCACA" stroke="#555" stroke-opacity="0.55" stroke-width="0.4"/>
<ellipse cx="97.83" cy="1310.95" rx="2.9" ry="3.4" fill="url(#sph)"/>
<ellipse cx="111.06" cy="1313.28" rx="2.9" ry="3.4" fill="#E8BCA4" stroke="#555" stroke-opacity="0.55" stroke-width="0.4"/>
<ellipse cx="111.06" cy="1313.28" rx="2.9" ry="3.4" fill="url(#sph)"/>
<ellipse cx="132.93" cy="1306.09" rx="2.9" ry="3.4" fill="#58B4B4" stroke="#555" stroke-opacity="0.55" stroke-width="0.4"/>
<ellipse cx="132.93" cy="1306.09" rx="2.9" ry="3.4" fill="url(#sph)"/>
<ellipse cx="149.34" cy="1306.38" rx="2.9" ry="3.4" fill="#98AEDA" stroke="#555" stroke-opacity="0.55" stroke-width="0.4"/>
<ellipse cx="149.34" cy="1306.38" rx="2.9" ry="3.4" fill="url(#sph)"/>
<ellipse cx="130.16" cy="1313.31" rx="2.9" ry="3.4" fill="#8696CC" stroke="#555" stroke-opacity="0.55" stroke-width="0.4"/>
<ellipse cx="130.16" cy="1313.31" rx="2.9" ry="3.4" fill="url(#sph)"/>
<ellipse cx="64.98" cy="1316.43" rx="2.9" ry="3.4" fill="#DCDCA8" stroke="#555" stroke-opacity="0.55" stroke-width="0.4"/>
<ellipse cx="64.98" cy="1316.43" rx="2.9" ry="3.4" fill="url(#sph)"/>
<ellipse cx="74.35" cy="1321.12" rx="2.9" ry="3.4" fill="#92D0AC" stroke="#555" stroke-opacity="0.55" stroke-width="0.4"/>
<ellipse cx="74.35" cy="1321.12" rx="2.9" ry="3.4" fill="url(#sph)"/>
<ellipse cx="55.2" cy="1332.88" rx="2.9" ry="3.4" fill="#98AEDA" stroke="#555" stroke-opacity="0.55" stroke-width="0.4"/>
<ellipse cx="55.2" cy="1332.88" rx="2.9" ry="3.4" fill="url(#sph)"/>
<ellipse cx="101.19" cy="1329.1" rx="2.9" ry="3.4" fill="#DCACAE" stroke="#555" stroke-opacity="0.55" stroke-width="0.4"/>
<ellipse cx="101.19" cy="1329.1" rx="2.9" ry="3.4" fill="url(#sph)"/>
<ellipse cx="108.37" cy="1335.06" rx="2.9" ry="3.4" fill="#E0E0B8" stroke="#555" stroke-opacity="0.55" stroke-width="0.4"/>
<ellipse cx="108.37" cy="1335.06" rx="2.9" ry="3.4" fill="url(#sph)"/>
<ellipse cx="77.07" cy="1343.7" rx="2.9" ry="3.4" fill="#DCACAC" stroke="#555" stroke-opacity="0.55" stroke-width="0.4"/>
<ellipse cx="77.07" cy="1343.7" rx="2.9" ry="3.4" fill="url(#sph)"/>
<ellipse cx="93.95" cy="1348.78" rx="2.9" ry="3.4" fill="#8ECCA8" stroke="#555" stroke-opacity="0.55" stroke-width="0.4"/>
<ellipse cx="93.95" cy="1348.78" rx="2.9" ry="3.4" fill="url(#sph)"/>
<ellipse cx="108.55" cy="1352.48" rx="2.9" ry="3.4" fill="#6AAED0" stroke="#555" stroke-opacity="0.55" stroke-width="0.4"/>
<ellipse cx="108.55" cy="1352.48" rx="2.9" ry="3.4" fill="url(#sph)"/>
<ellipse cx="123.21" cy="1355.24" rx="2.9" ry="3.4" fill="#CCDCA4" stroke="#555" stroke-opacity="0.55" stroke-width="0.4"/>
<ellipse cx="123.21" cy="1355.24" rx="2.9" ry="3.4" fill="url(#sph)"/>
<ellipse cx="63.7" cy="1357.02" rx="2.9" ry="3.4" fill="#80C8B4" stroke="#555" stroke-opacity="0.55" stroke-width="0.4"/>
<ellipse cx="63.7" cy="1357.02" rx="2.9" ry="3.4" fill="url(#sph)"/>
<ellipse cx="81.8" cy="1360.21" rx="2.9" ry="3.4" fill="#88CC98" stroke="#555" stroke-opacity="0.55" stroke-width="0.4"/>
<ellipse cx="81.8" cy="1360.21" rx="2.9" ry="3.4" fill="url(#sph)"/>
<ellipse cx="106.12" cy="1368.56" rx="2.9" ry="3.4" fill="#C8A678" stroke="#555" stroke-opacity="0.55" stroke-width="0.4"/>
<ellipse cx="106.12" cy="1368.56" rx="2.9" ry="3.4" fill="url(#sph)"/>
<ellipse cx="79.55" cy="1370.63" rx="2.9" ry="3.4" fill="#84CCC4" stroke="#555" stroke-opacity="0.55" stroke-width="0.4"/>
<ellipse cx="79.55" cy="1370.63" rx="2.9" ry="3.4" fill="url(#sph)"/>
<ellipse cx="79.67" cy="1379.23" rx="2.9" ry="3.4" fill="#80C8B0" stroke="#555" stroke-opacity="0.55" stroke-width="0.4"/>
<ellipse cx="79.67" cy="1379.23" rx="2.9" ry="3.4" fill="url(#sph)"/>
<ellipse cx="118.1" cy="1378.25" rx="2.9" ry="3.4" fill="#84CCD4" stroke="#555" stroke-opacity="0.55" stroke-width="0.4"/>
<ellipse cx="118.1" cy="1378.25" rx="2.9" ry="3.4" fill="url(#sph)"/>
<ellipse cx="86.03" cy="1385.77" rx="2.9" ry="3.4" fill="#8CCCA4" stroke="#555" stroke-opacity="0.55" stroke-width="0.4"/>
<ellipse cx="86.03" cy="1385.77" rx="2.9" ry="3.4" fill="url(#sph)"/>
<circle cx="170.58" cy="1315.58" r="2.8" fill="#E05050"/>
<rect x="50.6" y="1280" width="102" height="109.7" fill="none" stroke="#111" stroke-width="1.3"/>
</svg></body></html>
